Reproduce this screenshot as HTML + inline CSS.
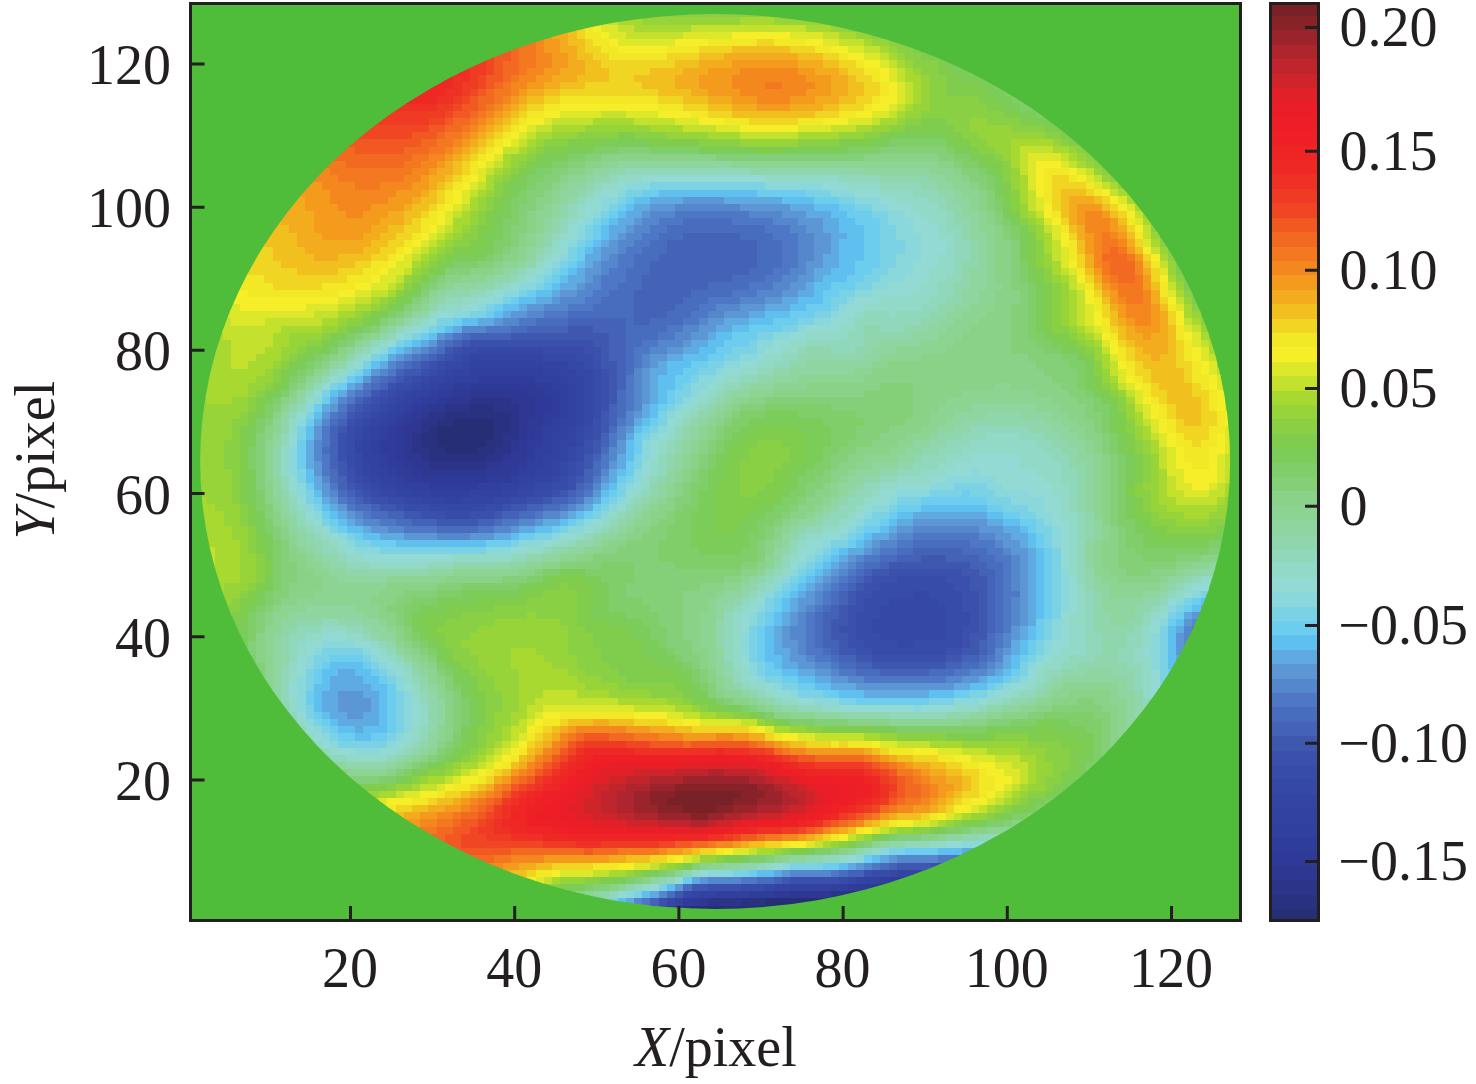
<!DOCTYPE html>
<html><head><meta charset="utf-8"><title>Wavefront map</title>
<style>
html,body{margin:0;padding:0;background:#fff;}
svg{display:block;}
text{font-family:"Liberation Serif",serif;font-size:56px;fill:#231f20;}
.i{font-style:italic;}
</style></head>
<body>
<svg width="1476" height="1084" viewBox="0 0 1476 1084">
<rect width="1476" height="1084" fill="#fff"/>
<defs><clipPath id="c"><ellipse cx="715.1" cy="461.5" rx="515.0" ry="447.5"/></clipPath></defs>
<rect x="190.5" y="3.5" width="1050" height="917" fill="#4fbd39"/>
<g clip-path="url(#c)" shape-rendering="crispEdges">
<path fill="#262e76" d="M453.12 418.39H494.48V425.85H453.12ZM436.7 425.55H494.48V433.01H436.7ZM436.7 432.71H494.48V440.17H436.7ZM436.7 439.87H486.27V447.33H436.7ZM444.91 447.03H478.06V454.49H444.91ZM855.42 890.96H863.93V898.42H855.42ZM765.11 898.12H831.09V905.58H765.11ZM691.22 905.28H790.04V912.74H691.22Z"/>
<path fill="#293280" d="M469.55 404.07H494.48V411.53H469.55ZM444.91 411.23H510.9V418.69H444.91ZM436.7 418.39H453.43V425.85H436.7ZM494.18 418.39H510.9V425.85H494.18ZM428.49 425.55H437V433.01H428.49ZM494.18 425.55H510.9V433.01H494.18ZM420.28 432.71H437V440.17H420.28ZM494.18 432.71H502.69V440.17H494.18ZM420.28 439.87H437V447.33H420.28ZM485.97 439.87H502.69V447.33H485.97ZM428.49 447.03H445.21V454.49H428.49ZM477.76 447.03H494.48V454.49H477.76ZM428.49 454.19H486.27V461.65H428.49ZM847.21 890.96H855.72V898.42H847.21ZM740.48 898.12H765.41V905.58H740.48ZM683.01 905.28H691.52V912.74H683.01Z"/>
<path fill="#2c348a" d="M469.55 396.91H510.9V404.37H469.55ZM444.91 404.07H469.85V411.53H444.91ZM494.18 404.07H519.11V411.53H494.18ZM428.49 411.23H445.21V418.69H428.49ZM510.6 411.23H519.11V418.69H510.6ZM420.28 418.39H437V425.85H420.28ZM510.6 418.39H519.11V425.85H510.6ZM420.28 425.55H428.79V433.01H420.28ZM510.6 425.55H519.11V433.01H510.6ZM412.07 432.71H420.58V440.17H412.07ZM502.39 432.71H519.11V440.17H502.39ZM412.07 439.87H420.58V447.33H412.07ZM502.39 439.87H510.9V447.33H502.39ZM412.07 447.03H428.79V454.49H412.07ZM494.18 447.03H510.9V454.49H494.18ZM420.28 454.19H428.79V461.65H420.28ZM485.97 454.19H502.69V461.65H485.97ZM428.49 461.35H486.27V468.81H428.49ZM880.05 883.8H888.56V891.26H880.05ZM830.79 890.96H847.51V898.42H830.79ZM707.64 898.12H740.78V905.58H707.64Z"/>
<path fill="#2e3792" d="M469.55 389.75H527.32V397.21H469.55ZM444.91 396.91H469.85V404.37H444.91ZM510.6 396.91H535.53V404.37H510.6ZM428.49 404.07H445.21V411.53H428.49ZM518.81 404.07H535.53V411.53H518.81ZM420.28 411.23H428.79V418.69H420.28ZM518.81 411.23H535.53V418.69H518.81ZM412.07 418.39H420.58V425.85H412.07ZM518.81 418.39H527.32V425.85H518.81ZM403.86 425.55H420.58V433.01H403.86ZM518.81 425.55H527.32V433.01H518.81ZM403.86 432.71H412.37V440.17H403.86ZM518.81 432.71H527.32V440.17H518.81ZM403.86 439.87H412.37V447.33H403.86ZM510.6 439.87H519.11V447.33H510.6ZM403.86 447.03H412.37V454.49H403.86ZM510.6 447.03H519.11V454.49H510.6ZM403.86 454.19H420.58V461.65H403.86ZM502.39 454.19H510.9V461.65H502.39ZM412.07 461.35H428.79V468.81H412.07ZM485.97 461.35H502.69V468.81H485.97ZM420.28 468.51H486.27V475.97H420.28ZM871.84 883.8H880.35V891.26H871.84ZM789.74 890.96H831.09V898.42H789.74ZM699.43 898.12H707.94V905.58H699.43ZM674.8 905.28H683.31V912.74H674.8Z"/>
<path fill="#2f3997" d="M469.55 382.59H535.53V390.05H469.55ZM453.12 389.75H469.85V397.21H453.12ZM527.02 389.75H543.74V397.21H527.02ZM436.7 396.91H445.21V404.37H436.7ZM535.23 396.91H551.95V404.37H535.23ZM420.28 404.07H428.79V411.53H420.28ZM535.23 404.07H551.95V411.53H535.23ZM412.07 411.23H420.58V418.69H412.07ZM535.23 411.23H543.74V418.69H535.23ZM403.86 418.39H412.37V425.85H403.86ZM527.02 418.39H543.74V425.85H527.02ZM395.65 425.55H404.16V433.01H395.65ZM527.02 425.55H535.53V433.01H527.02ZM395.65 432.71H404.16V440.17H395.65ZM527.02 432.71H535.53V440.17H527.02ZM395.65 439.87H404.16V447.33H395.65ZM518.81 439.87H527.32V447.33H518.81ZM395.65 447.03H404.16V454.49H395.65ZM518.81 447.03H527.32V454.49H518.81ZM395.65 454.19H404.16V461.65H395.65ZM510.6 454.19H527.32V461.65H510.6ZM403.86 461.35H412.37V468.81H403.86ZM502.39 461.35H519.11V468.81H502.39ZM412.07 468.51H420.58V475.97H412.07ZM485.97 468.51H510.9V475.97H485.97ZM420.28 475.67H486.27V483.13H420.28ZM904.68 876.64H913.19V884.1H904.68ZM855.42 883.8H872.14V891.26H855.42ZM773.32 890.96H790.04V898.42H773.32ZM691.22 898.12H699.73V905.58H691.22Z"/>
<path fill="#303c9a" d="M477.76 375.43H535.53V382.89H477.76ZM453.12 382.59H469.85V390.05H453.12ZM535.23 382.59H551.95V390.05H535.23ZM436.7 389.75H453.43V397.21H436.7ZM543.44 389.75H560.16V397.21H543.44ZM420.28 396.91H437V404.37H420.28ZM551.65 396.91H560.16V404.37H551.65ZM412.07 404.07H420.58V411.53H412.07ZM551.65 404.07H560.16V411.53H551.65ZM403.86 411.23H412.37V418.69H403.86ZM543.44 411.23H560.16V418.69H543.44ZM395.65 418.39H404.16V425.85H395.65ZM543.44 418.39H551.95V425.85H543.44ZM387.44 425.55H395.95V433.01H387.44ZM535.23 425.55H543.74V433.01H535.23ZM387.44 432.71H395.95V440.17H387.44ZM535.23 432.71H543.74V440.17H535.23ZM379.23 439.87H395.95V447.33H379.23ZM527.02 439.87H543.74V447.33H527.02ZM379.23 447.03H395.95V454.49H379.23ZM527.02 447.03H535.53V454.49H527.02ZM387.44 454.19H395.95V461.65H387.44ZM527.02 454.19H535.53V461.65H527.02ZM387.44 461.35H404.16V468.81H387.44ZM518.81 461.35H527.32V468.81H518.81ZM395.65 468.51H412.37V475.97H395.65ZM510.6 468.51H519.11V475.97H510.6ZM403.86 475.67H420.58V483.13H403.86ZM485.97 475.67H510.9V483.13H485.97ZM428.49 482.83H478.06V490.29H428.49ZM888.26 876.64H904.98V884.1H888.26ZM847.21 883.8H855.72V891.26H847.21ZM748.69 890.96H773.62V898.42H748.69ZM683.01 898.12H691.52V905.58H683.01ZM666.59 905.28H675.1V912.74H666.59Z"/>
<path fill="#313f9d" d="M469.55 368.27H543.74V375.73H469.55ZM453.12 375.43H478.06V382.89H453.12ZM535.23 375.43H560.16V382.89H535.23ZM436.7 382.59H453.43V390.05H436.7ZM551.65 382.59H568.37V390.05H551.65ZM428.49 389.75H437V397.21H428.49ZM559.86 389.75H568.37V397.21H559.86ZM412.07 396.91H420.58V404.37H412.07ZM559.86 396.91H568.37V404.37H559.86ZM403.86 404.07H412.37V411.53H403.86ZM559.86 404.07H568.37V411.53H559.86ZM395.65 411.23H404.16V418.69H395.65ZM559.86 411.23H568.37V418.69H559.86ZM387.44 418.39H395.95V425.85H387.44ZM551.65 418.39H560.16V425.85H551.65ZM379.23 425.55H387.74V433.01H379.23ZM543.44 425.55H560.16V433.01H543.44ZM379.23 432.71H387.74V440.17H379.23ZM543.44 432.71H551.95V440.17H543.44ZM371.02 439.87H379.53V447.33H371.02ZM543.44 439.87H551.95V447.33H543.44ZM371.02 447.03H379.53V454.49H371.02ZM535.23 447.03H551.95V454.49H535.23ZM379.23 454.19H387.74V461.65H379.23ZM535.23 454.19H543.74V461.65H535.23ZM379.23 461.35H387.74V468.81H379.23ZM527.02 461.35H543.74V468.81H527.02ZM387.44 468.51H395.95V475.97H387.44ZM518.81 468.51H535.53V475.97H518.81ZM395.65 475.67H404.16V483.13H395.65ZM510.6 475.67H519.11V483.13H510.6ZM403.86 482.83H428.79V490.29H403.86ZM477.76 482.83H502.69V490.29H477.76ZM428.49 489.99H469.85V497.45H428.49ZM880.05 876.64H888.56V884.1H880.05ZM830.79 883.8H847.51V891.26H830.79ZM715.85 890.96H748.99V898.42H715.85Z"/>
<path fill="#3242a0" d="M469.55 361.11H543.74V368.57H469.55ZM453.12 368.27H469.85V375.73H453.12ZM543.44 368.27H560.16V375.73H543.44ZM444.91 375.43H453.43V382.89H444.91ZM559.86 375.43H568.37V382.89H559.86ZM428.49 382.59H437V390.05H428.49ZM568.07 382.59H576.58V390.05H568.07ZM412.07 389.75H428.79V397.21H412.07ZM568.07 389.75H576.58V397.21H568.07ZM403.86 396.91H412.37V404.37H403.86ZM568.07 396.91H576.58V404.37H568.07ZM395.65 404.07H404.16V411.53H395.65ZM568.07 404.07H576.58V411.53H568.07ZM387.44 411.23H395.95V418.69H387.44ZM568.07 411.23H576.58V418.69H568.07ZM379.23 418.39H387.74V425.85H379.23ZM559.86 418.39H576.58V425.85H559.86ZM371.02 425.55H379.53V433.01H371.02ZM559.86 425.55H568.37V433.01H559.86ZM371.02 432.71H379.53V440.17H371.02ZM551.65 432.71H568.37V440.17H551.65ZM362.81 439.87H371.32V447.33H362.81ZM551.65 439.87H560.16V447.33H551.65ZM362.81 447.03H371.32V454.49H362.81ZM551.65 447.03H560.16V454.49H551.65ZM362.81 454.19H379.53V461.65H362.81ZM543.44 454.19H560.16V461.65H543.44ZM371.02 461.35H379.53V468.81H371.02ZM543.44 461.35H551.95V468.81H543.44ZM371.02 468.51H387.74V475.97H371.02ZM535.23 468.51H551.95V475.97H535.23ZM379.23 475.67H395.95V483.13H379.23ZM518.81 475.67H535.53V483.13H518.81ZM395.65 482.83H404.16V490.29H395.65ZM502.39 482.83H519.11V490.29H502.39ZM412.07 489.99H428.79V497.45H412.07ZM469.55 489.99H502.69V497.45H469.55ZM444.91 497.15H461.64V504.61H444.91ZM863.63 876.64H880.35V884.1H863.63ZM789.74 883.8H831.09V891.26H789.74ZM699.43 890.96H716.15V898.42H699.43ZM674.8 898.12H683.31V905.58H674.8ZM658.38 905.28H666.89V912.74H658.38Z"/>
<path fill="#3444a2" d="M469.55 353.95H543.74V361.41H469.55ZM461.34 361.11H469.85V368.57H461.34ZM543.44 361.11H568.37V368.57H543.44ZM444.91 368.27H453.43V375.73H444.91ZM559.86 368.27H576.58V375.73H559.86ZM428.49 375.43H445.21V382.89H428.49ZM568.07 375.43H584.79V382.89H568.07ZM420.28 382.59H428.79V390.05H420.28ZM576.28 382.59H584.79V390.05H576.28ZM403.86 389.75H412.37V397.21H403.86ZM576.28 389.75H584.79V397.21H576.28ZM395.65 396.91H404.16V404.37H395.65ZM576.28 396.91H584.79V404.37H576.28ZM387.44 404.07H395.95V411.53H387.44ZM576.28 404.07H584.79V411.53H576.28ZM379.23 411.23H387.74V418.69H379.23ZM576.28 411.23H584.79V418.69H576.28ZM371.02 418.39H379.53V425.85H371.02ZM576.28 418.39H584.79V425.85H576.28ZM362.81 425.55H371.32V433.01H362.81ZM568.07 425.55H576.58V433.01H568.07ZM362.81 432.71H371.32V440.17H362.81ZM568.07 432.71H576.58V440.17H568.07ZM354.6 439.87H363.11V447.33H354.6ZM559.86 439.87H576.58V447.33H559.86ZM354.6 447.03H363.11V454.49H354.6ZM559.86 447.03H568.37V454.49H559.86ZM559.86 454.19H568.37V461.65H559.86ZM362.81 461.35H371.32V468.81H362.81ZM551.65 461.35H560.16V468.81H551.65ZM362.81 468.51H371.32V475.97H362.81ZM551.65 468.51H560.16V475.97H551.65ZM371.02 475.67H379.53V483.13H371.02ZM535.23 475.67H551.95V483.13H535.23ZM379.23 482.83H395.95V490.29H379.23ZM518.81 482.83H535.53V490.29H518.81ZM395.65 489.99H412.37V497.45H395.65ZM502.39 489.99H519.11V497.45H502.39ZM420.28 497.15H445.21V504.61H420.28ZM461.34 497.15H494.48V504.61H461.34ZM896.47 869.48H929.61V876.94H896.47ZM855.42 876.64H863.93V884.1H855.42ZM773.32 883.8H790.04V891.26H773.32ZM691.22 890.96H699.73V898.42H691.22Z"/>
<path fill="#3648a5" d="M477.76 346.79H543.74V354.25H477.76ZM461.34 353.95H469.85V361.41H461.34ZM543.44 353.95H576.58V361.41H543.44ZM444.91 361.11H461.64V368.57H444.91ZM568.07 361.11H584.79V368.57H568.07ZM436.7 368.27H445.21V375.73H436.7ZM576.28 368.27H593V375.73H576.28ZM420.28 375.43H428.79V382.89H420.28ZM584.49 375.43H593V382.89H584.49ZM412.07 382.59H420.58V390.05H412.07ZM584.49 382.59H593V390.05H584.49ZM395.65 389.75H404.16V397.21H395.65ZM584.49 389.75H593V397.21H584.49ZM387.44 396.91H395.95V404.37H387.44ZM584.49 396.91H593V404.37H584.49ZM379.23 404.07H387.74V411.53H379.23ZM584.49 404.07H593V411.53H584.49ZM371.02 411.23H379.53V418.69H371.02ZM584.49 411.23H593V418.69H584.49ZM362.81 418.39H371.32V425.85H362.81ZM584.49 418.39H593V425.85H584.49ZM354.6 425.55H363.11V433.01H354.6ZM576.28 425.55H584.79V433.01H576.28ZM354.6 432.71H363.11V440.17H354.6ZM576.28 432.71H584.79V440.17H576.28ZM576.28 439.87H584.79V447.33H576.28ZM568.07 447.03H576.58V454.49H568.07ZM354.6 454.19H363.11V461.65H354.6ZM568.07 454.19H576.58V461.65H568.07ZM354.6 461.35H363.11V468.81H354.6ZM559.86 461.35H568.37V468.81H559.86ZM354.6 468.51H363.11V475.97H354.6ZM559.86 468.51H568.37V475.97H559.86ZM362.81 475.67H371.32V483.13H362.81ZM551.65 475.67H560.16V483.13H551.65ZM371.02 482.83H379.53V490.29H371.02ZM535.23 482.83H551.95V490.29H535.23ZM379.23 489.99H395.95V497.45H379.23ZM518.81 489.99H535.53V497.45H518.81ZM403.86 497.15H420.58V504.61H403.86ZM494.18 497.15H510.9V504.61H494.18ZM428.49 504.31H486.27V511.77H428.49ZM912.89 590.23H929.61V597.69H912.89ZM888.26 597.39H937.82V604.85H888.26ZM880.05 604.55H946.03V612.01H880.05ZM880.05 611.71H946.03V619.17H880.05ZM871.84 618.87H946.03V626.33H871.84ZM871.84 626.03H946.03V633.49H871.84ZM880.05 633.19H946.03V640.65H880.05ZM896.47 640.35H913.19V647.81H896.47ZM888.26 869.48H896.77V876.94H888.26ZM847.21 876.64H855.72V884.1H847.21ZM765.11 883.8H773.62V891.26H765.11ZM683.01 890.96H691.52V898.42H683.01ZM666.59 898.12H675.1V905.58H666.59ZM650.17 905.28H658.68V912.74H650.17Z"/>
<path fill="#374ba8" d="M461.34 346.79H478.06V354.25H461.34ZM543.44 346.79H584.79V354.25H543.44ZM453.12 353.95H461.64V361.41H453.12ZM576.28 353.95H593V361.41H576.28ZM436.7 361.11H445.21V368.57H436.7ZM584.49 361.11H593V368.57H584.49ZM428.49 368.27H437V375.73H428.49ZM592.7 368.27H601.21V375.73H592.7ZM412.07 375.43H420.58V382.89H412.07ZM592.7 375.43H601.21V382.89H592.7ZM395.65 382.59H412.37V390.05H395.65ZM592.7 382.59H601.21V390.05H592.7ZM387.44 389.75H395.95V397.21H387.44ZM592.7 389.75H601.21V397.21H592.7ZM379.23 396.91H387.74V404.37H379.23ZM592.7 396.91H601.21V404.37H592.7ZM371.02 404.07H379.53V411.53H371.02ZM592.7 404.07H601.21V411.53H592.7ZM362.81 411.23H371.32V418.69H362.81ZM592.7 411.23H601.21V418.69H592.7ZM354.6 418.39H363.11V425.85H354.6ZM346.39 425.55H354.9V433.01H346.39ZM584.49 425.55H593V433.01H584.49ZM346.39 432.71H354.9V440.17H346.39ZM584.49 432.71H593V440.17H584.49ZM346.39 439.87H354.9V447.33H346.39ZM346.39 447.03H354.9V454.49H346.39ZM576.28 447.03H584.79V454.49H576.28ZM346.39 454.19H354.9V461.65H346.39ZM576.28 454.19H584.79V461.65H576.28ZM346.39 461.35H354.9V468.81H346.39ZM568.07 461.35H576.58V468.81H568.07ZM568.07 468.51H576.58V475.97H568.07ZM354.6 475.67H363.11V483.13H354.6ZM559.86 475.67H568.37V483.13H559.86ZM362.81 482.83H371.32V490.29H362.81ZM551.65 482.83H568.37V490.29H551.65ZM371.02 489.99H379.53V497.45H371.02ZM535.23 489.99H551.95V497.45H535.23ZM387.44 497.15H404.16V504.61H387.44ZM510.6 497.15H527.32V504.61H510.6ZM403.86 504.31H428.79V511.77H403.86ZM485.97 504.31H502.69V511.77H485.97ZM444.91 511.47H469.85V518.93H444.91ZM896.47 575.91H946.03V583.37H896.47ZM880.05 583.07H954.24V590.53H880.05ZM871.84 590.23H913.19V597.69H871.84ZM929.31 590.23H962.45V597.69H929.31ZM863.63 597.39H888.56V604.85H863.63ZM937.52 597.39H962.45V604.85H937.52ZM863.63 604.55H880.35V612.01H863.63ZM945.73 604.55H962.45V612.01H945.73ZM855.42 611.71H880.35V619.17H855.42ZM945.73 611.71H970.66V619.17H945.73ZM855.42 618.87H872.14V626.33H855.42ZM945.73 618.87H970.66V626.33H945.73ZM855.42 626.03H872.14V633.49H855.42ZM945.73 626.03H962.45V633.49H945.73ZM855.42 633.19H880.35V640.65H855.42ZM945.73 633.19H962.45V640.65H945.73ZM863.63 640.35H896.77V647.81H863.63ZM912.89 640.35H962.45V647.81H912.89ZM871.84 647.51H946.03V654.97H871.84ZM871.84 869.48H888.56V876.94H871.84ZM839 876.64H847.51V884.1H839ZM740.48 883.8H765.41V891.26H740.48Z"/>
<path fill="#3a50ac" d="M469.55 339.63H593V347.09H469.55ZM453.12 346.79H461.64V354.25H453.12ZM584.49 346.79H601.21V354.25H584.49ZM444.91 353.95H453.43V361.41H444.91ZM592.7 353.95H601.21V361.41H592.7ZM428.49 361.11H437V368.57H428.49ZM592.7 361.11H601.21V368.57H592.7ZM420.28 368.27H428.79V375.73H420.28ZM600.91 368.27H609.42V375.73H600.91ZM403.86 375.43H412.37V382.89H403.86ZM600.91 375.43H609.42V382.89H600.91ZM387.44 382.59H395.95V390.05H387.44ZM600.91 382.59H609.42V390.05H600.91ZM379.23 389.75H387.74V397.21H379.23ZM600.91 389.75H609.42V397.21H600.91ZM371.02 396.91H379.53V404.37H371.02ZM600.91 396.91H609.42V404.37H600.91ZM362.81 404.07H371.32V411.53H362.81ZM600.91 404.07H609.42V411.53H600.91ZM354.6 411.23H363.11V418.69H354.6ZM346.39 418.39H354.9V425.85H346.39ZM592.7 418.39H601.21V425.85H592.7ZM592.7 425.55H601.21V433.01H592.7ZM338.18 432.71H346.69V440.17H338.18ZM592.7 432.71H601.21V440.17H592.7ZM338.18 439.87H346.69V447.33H338.18ZM584.49 439.87H593V447.33H584.49ZM338.18 447.03H346.69V454.49H338.18ZM584.49 447.03H593V454.49H584.49ZM338.18 454.19H346.69V461.65H338.18ZM576.28 461.35H584.79V468.81H576.28ZM346.39 468.51H354.9V475.97H346.39ZM576.28 468.51H584.79V475.97H576.28ZM346.39 475.67H354.9V483.13H346.39ZM568.07 475.67H576.58V483.13H568.07ZM354.6 482.83H363.11V490.29H354.6ZM568.07 482.83H576.58V490.29H568.07ZM362.81 489.99H371.32V497.45H362.81ZM551.65 489.99H560.16V497.45H551.65ZM371.02 497.15H387.74V504.61H371.02ZM527.02 497.15H543.74V504.61H527.02ZM395.65 504.31H404.16V511.77H395.65ZM502.39 504.31H510.9V511.77H502.39ZM420.28 511.47H445.21V518.93H420.28ZM469.55 511.47H494.48V518.93H469.55ZM888.26 568.75H962.45V576.21H888.26ZM871.84 575.91H896.77V583.37H871.84ZM945.73 575.91H970.66V583.37H945.73ZM863.63 583.07H880.35V590.53H863.63ZM953.94 583.07H970.66V590.53H953.94ZM855.42 590.23H872.14V597.69H855.42ZM962.15 590.23H978.87V597.69H962.15ZM855.42 597.39H863.93V604.85H855.42ZM962.15 597.39H978.87V604.85H962.15ZM847.21 604.55H863.93V612.01H847.21ZM962.15 604.55H978.87V612.01H962.15ZM847.21 611.71H855.72V619.17H847.21ZM970.36 611.71H978.87V619.17H970.36ZM847.21 618.87H855.72V626.33H847.21ZM970.36 618.87H978.87V626.33H970.36ZM839 626.03H855.72V633.49H839ZM962.15 626.03H978.87V633.49H962.15ZM847.21 633.19H855.72V640.65H847.21ZM962.15 633.19H970.66V640.65H962.15ZM847.21 640.35H863.93V647.81H847.21ZM962.15 640.35H970.66V647.81H962.15ZM855.42 647.51H872.14V654.97H855.42ZM945.73 647.51H962.45V654.97H945.73ZM871.84 654.67H946.03V662.13H871.84ZM929.31 862.32H946.03V869.78H929.31ZM863.63 869.48H872.14V876.94H863.63ZM789.74 876.64H839.3V884.1H789.74ZM707.64 883.8H740.78V891.26H707.64ZM658.38 898.12H666.89V905.58H658.38ZM641.96 905.28H650.47V912.74H641.96Z"/>
<path fill="#3e58b0" d="M568.07 325.31H593V332.77H568.07ZM510.6 332.47H609.42V339.93H510.6ZM461.34 339.63H469.85V347.09H461.34ZM592.7 339.63H609.42V347.09H592.7ZM444.91 346.79H453.43V354.25H444.91ZM600.91 346.79H609.42V354.25H600.91ZM436.7 353.95H445.21V361.41H436.7ZM600.91 353.95H609.42V361.41H600.91ZM420.28 361.11H428.79V368.57H420.28ZM600.91 361.11H617.63V368.57H600.91ZM403.86 368.27H420.58V375.73H403.86ZM609.12 368.27H617.63V375.73H609.12ZM395.65 375.43H404.16V382.89H395.65ZM609.12 375.43H617.63V382.89H609.12ZM609.12 382.59H617.63V390.05H609.12ZM371.02 389.75H379.53V397.21H371.02ZM609.12 389.75H617.63V397.21H609.12ZM362.81 396.91H371.32V404.37H362.81ZM609.12 396.91H617.63V404.37H609.12ZM354.6 404.07H363.11V411.53H354.6ZM346.39 411.23H354.9V418.69H346.39ZM600.91 411.23H609.42V418.69H600.91ZM600.91 418.39H609.42V425.85H600.91ZM338.18 425.55H346.69V433.01H338.18ZM600.91 425.55H609.42V433.01H600.91ZM592.7 439.87H601.21V447.33H592.7ZM592.7 447.03H601.21V454.49H592.7ZM584.49 454.19H593V461.65H584.49ZM338.18 461.35H346.69V468.81H338.18ZM584.49 461.35H593V468.81H584.49ZM338.18 468.51H346.69V475.97H338.18ZM576.28 475.67H584.79V483.13H576.28ZM346.39 482.83H354.9V490.29H346.39ZM354.6 489.99H363.11V497.45H354.6ZM559.86 489.99H568.37V497.45H559.86ZM362.81 497.15H371.32V504.61H362.81ZM543.44 497.15H551.95V504.61H543.44ZM379.23 504.31H395.95V511.77H379.23ZM510.6 504.31H527.32V511.77H510.6ZM403.86 511.47H420.58V518.93H403.86ZM494.18 511.47H502.69V518.93H494.18ZM436.7 518.63H478.06V526.09H436.7ZM921.1 554.43H946.03V561.89H921.1ZM888.26 561.59H970.66V569.05H888.26ZM871.84 568.75H888.56V576.21H871.84ZM962.15 568.75H978.87V576.21H962.15ZM863.63 575.91H872.14V583.37H863.63ZM970.36 575.91H987.09V583.37H970.36ZM855.42 583.07H863.93V590.53H855.42ZM970.36 583.07H987.09V590.53H970.36ZM847.21 590.23H855.72V597.69H847.21ZM978.57 590.23H987.09V597.69H978.57ZM847.21 597.39H855.72V604.85H847.21ZM978.57 597.39H987.09V604.85H978.57ZM839 604.55H847.51V612.01H839ZM978.57 604.55H987.09V612.01H978.57ZM839 611.71H847.51V619.17H839ZM978.57 611.71H987.09V619.17H978.57ZM830.79 618.87H847.51V626.33H830.79ZM978.57 618.87H987.09V626.33H978.57ZM830.79 626.03H839.3V633.49H830.79ZM978.57 626.03H987.09V633.49H978.57ZM830.79 633.19H847.51V640.65H830.79ZM970.36 633.19H987.09V640.65H970.36ZM839 640.35H847.51V647.81H839ZM970.36 640.35H978.87V647.81H970.36ZM839 647.51H855.72V654.97H839ZM962.15 647.51H978.87V654.97H962.15ZM855.42 654.67H872.14V662.13H855.42ZM945.73 654.67H962.45V662.13H945.73ZM871.84 661.83H946.03V669.29H871.84ZM896.47 862.32H929.61V869.78H896.47ZM781.53 876.64H790.04V884.1H781.53ZM691.22 883.8H707.94V891.26H691.22ZM674.8 890.96H683.31V898.42H674.8Z"/>
<path fill="#4462b7" d="M683.01 232.22H740.78V239.69H683.01ZM666.59 239.39H757.2V246.85H666.59ZM666.59 246.55H757.2V254.01H666.59ZM658.38 253.71H757.2V261.17H658.38ZM650.17 260.87H757.2V268.33H650.17ZM650.17 268.03H748.99V275.49H650.17ZM641.96 275.19H732.57V282.65H641.96ZM641.96 282.35H707.94V289.81H641.96ZM633.75 289.51H691.52V296.97H633.75ZM633.75 296.67H683.31V304.13H633.75ZM633.75 303.83H675.1V311.29H633.75ZM633.75 310.99H666.89V318.45H633.75ZM568.07 318.15H625.84V325.61H568.07ZM633.75 318.15H650.47V325.61H633.75ZM527.02 325.31H568.37V332.77H527.02ZM592.7 325.31H625.84V332.77H592.7ZM469.55 332.47H510.9V339.93H469.55ZM609.12 332.47H625.84V339.93H609.12ZM453.12 339.63H461.64V347.09H453.12ZM609.12 339.63H625.84V347.09H609.12ZM609.12 346.79H625.84V354.25H609.12ZM428.49 353.95H437V361.41H428.49ZM609.12 353.95H625.84V361.41H609.12ZM412.07 361.11H420.58V368.57H412.07ZM617.33 361.11H625.84V368.57H617.33ZM395.65 368.27H404.16V375.73H395.65ZM617.33 368.27H625.84V375.73H617.33ZM387.44 375.43H395.95V382.89H387.44ZM617.33 375.43H625.84V382.89H617.33ZM379.23 382.59H387.74V390.05H379.23ZM617.33 382.59H625.84V390.05H617.33ZM354.6 396.91H363.11V404.37H354.6ZM346.39 404.07H354.9V411.53H346.39ZM609.12 404.07H617.63V411.53H609.12ZM609.12 411.23H617.63V418.69H609.12ZM338.18 418.39H346.69V425.85H338.18ZM609.12 418.39H617.63V425.85H609.12ZM329.97 425.55H338.48V433.01H329.97ZM329.97 432.71H338.48V440.17H329.97ZM600.91 432.71H609.42V440.17H600.91ZM329.97 439.87H338.48V447.33H329.97ZM600.91 439.87H609.42V447.33H600.91ZM329.97 447.03H338.48V454.49H329.97ZM329.97 454.19H338.48V461.65H329.97ZM592.7 454.19H601.21V461.65H592.7ZM329.97 461.35H338.48V468.81H329.97ZM584.49 468.51H593V475.97H584.49ZM338.18 475.67H346.69V483.13H338.18ZM584.49 475.67H593V483.13H584.49ZM338.18 482.83H346.69V490.29H338.18ZM576.28 482.83H584.79V490.29H576.28ZM346.39 489.99H354.9V497.45H346.39ZM568.07 489.99H576.58V497.45H568.07ZM354.6 497.15H363.11V504.61H354.6ZM551.65 497.15H568.37V504.61H551.65ZM371.02 504.31H379.53V511.77H371.02ZM527.02 504.31H543.74V511.77H527.02ZM387.44 511.47H404.16V518.93H387.44ZM502.39 511.47H519.11V518.93H502.39ZM412.07 518.63H437V526.09H412.07ZM477.76 518.63H494.48V526.09H477.76ZM912.89 547.27H962.45V554.73H912.89ZM896.47 554.43H921.4V561.89H896.47ZM945.73 554.43H978.87V561.89H945.73ZM880.05 561.59H888.56V569.05H880.05ZM970.36 561.59H987.09V569.05H970.36ZM863.63 568.75H872.14V576.21H863.63ZM978.57 568.75H995.3V576.21H978.57ZM855.42 575.91H863.93V583.37H855.42ZM986.79 575.91H995.3V583.37H986.79ZM847.21 583.07H855.72V590.53H847.21ZM986.79 583.07H995.3V590.53H986.79ZM839 590.23H847.51V597.69H839ZM986.79 590.23H995.3V597.69H986.79ZM839 597.39H847.51V604.85H839ZM986.79 597.39H995.3V604.85H986.79ZM830.79 604.55H839.3V612.01H830.79ZM986.79 604.55H995.3V612.01H986.79ZM822.58 611.71H839.3V619.17H822.58ZM986.79 611.71H995.3V619.17H986.79ZM822.58 618.87H831.09V626.33H822.58ZM986.79 618.87H995.3V626.33H986.79ZM822.58 626.03H831.09V633.49H822.58ZM986.79 626.03H995.3V633.49H986.79ZM822.58 633.19H831.09V640.65H822.58ZM822.58 640.35H839.3V647.81H822.58ZM978.57 640.35H987.09V647.81H978.57ZM830.79 647.51H839.3V654.97H830.79ZM978.57 647.51H987.09V654.97H978.57ZM839 654.67H855.72V662.13H839ZM962.15 654.67H978.87V662.13H962.15ZM855.42 661.83H872.14V669.29H855.42ZM945.73 661.83H962.45V669.29H945.73ZM880.05 668.99H929.61V676.45H880.05ZM888.26 862.32H896.77V869.78H888.26ZM847.21 869.48H863.93V876.94H847.21ZM773.32 876.64H781.83V884.1H773.32ZM650.17 898.12H658.68V905.58H650.17Z"/>
<path fill="#486cbe" d="M683.01 217.9H732.57V225.36H683.01ZM666.59 225.06H765.41V232.53H666.59ZM658.38 232.22H683.31V239.69H658.38ZM740.48 232.22H773.62V239.69H740.48ZM650.17 239.39H666.89V246.85H650.17ZM756.9 239.39H781.83V246.85H756.9ZM641.96 246.55H666.89V254.01H641.96ZM756.9 246.55H781.83V254.01H756.9ZM633.75 253.71H658.68V261.17H633.75ZM756.9 253.71H781.83V261.17H756.9ZM633.75 260.87H650.47V268.33H633.75ZM756.9 260.87H781.83V268.33H756.9ZM625.54 268.03H650.47V275.49H625.54ZM748.69 268.03H773.62V275.49H748.69ZM625.54 275.19H642.26V282.65H625.54ZM732.27 275.19H765.41V282.65H732.27ZM617.33 282.35H642.26V289.81H617.33ZM707.64 282.35H748.99V289.81H707.64ZM609.12 289.51H634.05V296.97H609.12ZM691.22 289.51H732.57V296.97H691.22ZM600.91 296.67H634.05V304.13H600.91ZM683.01 296.67H707.94V304.13H683.01ZM592.7 303.83H634.05V311.29H592.7ZM674.8 303.83H699.73V311.29H674.8ZM568.07 310.99H634.05V318.45H568.07ZM666.59 310.99H691.52V318.45H666.59ZM535.23 318.15H568.37V325.61H535.23ZM625.54 318.15H634.05V325.61H625.54ZM650.17 318.15H683.31V325.61H650.17ZM510.6 325.31H527.32V332.77H510.6ZM625.54 325.31H666.89V332.77H625.54ZM461.34 332.47H469.85V339.93H461.34ZM625.54 332.47H658.68V339.93H625.54ZM444.91 339.63H453.43V347.09H444.91ZM625.54 339.63H642.26V347.09H625.54ZM436.7 346.79H445.21V354.25H436.7ZM625.54 346.79H634.05V354.25H625.54ZM420.28 353.95H428.79V361.41H420.28ZM625.54 353.95H634.05V361.41H625.54ZM403.86 361.11H412.37V368.57H403.86ZM625.54 361.11H634.05V368.57H625.54ZM625.54 368.27H634.05V375.73H625.54ZM379.23 375.43H387.74V382.89H379.23ZM371.02 382.59H379.53V390.05H371.02ZM362.81 389.75H371.32V397.21H362.81ZM617.33 389.75H625.84V397.21H617.33ZM617.33 396.91H625.84V404.37H617.33ZM617.33 404.07H625.84V411.53H617.33ZM338.18 411.23H346.69V418.69H338.18ZM617.33 411.23H625.84V418.69H617.33ZM329.97 418.39H338.48V425.85H329.97ZM609.12 425.55H617.63V433.01H609.12ZM321.76 447.03H330.27V454.49H321.76ZM600.91 447.03H609.42V454.49H600.91ZM592.7 461.35H601.21V468.81H592.7ZM329.97 468.51H338.48V475.97H329.97ZM592.7 468.51H601.21V475.97H592.7ZM329.97 475.67H338.48V483.13H329.97ZM584.49 482.83H593V490.29H584.49ZM338.18 489.99H346.69V497.45H338.18ZM576.28 489.99H584.79V497.45H576.28ZM346.39 497.15H354.9V504.61H346.39ZM568.07 497.15H576.58V504.61H568.07ZM354.6 504.31H371.32V511.77H354.6ZM543.44 504.31H560.16V511.77H543.44ZM371.02 511.47H387.74V518.93H371.02ZM518.81 511.47H535.53V518.93H518.81ZM395.65 518.63H412.37V526.09H395.65ZM494.18 518.63H502.69V526.09H494.18ZM436.7 525.79H478.06V533.25H436.7ZM912.89 540.11H970.66V547.57H912.89ZM896.47 547.27H913.19V554.73H896.47ZM962.15 547.27H987.09V554.73H962.15ZM880.05 554.43H896.77V561.89H880.05ZM978.57 554.43H995.3V561.89H978.57ZM863.63 561.59H880.35V569.05H863.63ZM986.79 561.59H1003.51V569.05H986.79ZM855.42 568.75H863.93V576.21H855.42ZM995 568.75H1003.51V576.21H995ZM847.21 575.91H855.72V583.37H847.21ZM995 575.91H1003.51V583.37H995ZM839 583.07H847.51V590.53H839ZM995 583.07H1003.51V590.53H995ZM830.79 590.23H839.3V597.69H830.79ZM995 590.23H1003.51V597.69H995ZM830.79 597.39H839.3V604.85H830.79ZM995 597.39H1003.51V604.85H995ZM822.58 604.55H831.09V612.01H822.58ZM995 604.55H1003.51V612.01H995ZM814.37 611.71H822.88V619.17H814.37ZM995 611.71H1003.51V619.17H995ZM814.37 618.87H822.88V626.33H814.37ZM995 618.87H1003.51V626.33H995ZM814.37 626.03H822.88V633.49H814.37ZM995 626.03H1003.51V633.49H995ZM814.37 633.19H822.88V640.65H814.37ZM986.79 633.19H995.3V640.65H986.79ZM814.37 640.35H822.88V647.81H814.37ZM986.79 640.35H995.3V647.81H986.79ZM822.58 647.51H831.09V654.97H822.58ZM986.79 647.51H995.3V654.97H986.79ZM830.79 654.67H839.3V662.13H830.79ZM978.57 654.67H987.09V662.13H978.57ZM839 661.83H855.72V669.29H839ZM962.15 661.83H978.87V669.29H962.15ZM855.42 668.99H880.35V676.45H855.42ZM929.31 668.99H954.24V676.45H929.31ZM880.05 862.32H888.56V869.78H880.05ZM839 869.48H847.51V876.94H839ZM756.9 876.64H773.62V884.1H756.9ZM683.01 883.8H691.52V891.26H683.01ZM666.59 890.96H675.1V898.42H666.59Z"/>
<path fill="#4e78c5" d="M674.8 210.74H748.99V218.2H674.8ZM658.38 217.9H683.31V225.36H658.38ZM732.27 217.9H773.62V225.36H732.27ZM650.17 225.06H666.89V232.53H650.17ZM765.11 225.06H790.04V232.53H765.11ZM641.96 232.22H658.68V239.69H641.96ZM773.32 232.22H798.25V239.69H773.32ZM633.75 239.39H650.47V246.85H633.75ZM781.53 239.39H798.25V246.85H781.53ZM625.54 246.55H642.26V254.01H625.54ZM781.53 246.55H798.25V254.01H781.53ZM617.33 253.71H634.05V261.17H617.33ZM781.53 253.71H798.25V261.17H781.53ZM617.33 260.87H634.05V268.33H617.33ZM781.53 260.87H798.25V268.33H781.53ZM609.12 268.03H625.84V275.49H609.12ZM773.32 268.03H790.04V275.49H773.32ZM600.91 275.19H625.84V282.65H600.91ZM765.11 275.19H781.83V282.65H765.11ZM600.91 282.35H617.63V289.81H600.91ZM748.69 282.35H773.62V289.81H748.69ZM592.7 289.51H609.42V296.97H592.7ZM732.27 289.51H757.2V296.97H732.27ZM584.49 296.67H601.21V304.13H584.49ZM707.64 296.67H740.78V304.13H707.64ZM568.07 303.83H593V311.29H568.07ZM699.43 303.83H716.15V311.29H699.43ZM543.44 310.99H568.37V318.45H543.44ZM691.22 310.99H707.94V318.45H691.22ZM518.81 318.15H535.53V325.61H518.81ZM683.01 318.15H699.73V325.61H683.01ZM485.97 325.31H510.9V332.77H485.97ZM666.59 325.31H683.31V332.77H666.59ZM453.12 332.47H461.64V339.93H453.12ZM658.38 332.47H675.1V339.93H658.38ZM436.7 339.63H445.21V347.09H436.7ZM641.96 339.63H658.68V347.09H641.96ZM428.49 346.79H437V354.25H428.49ZM633.75 346.79H650.47V354.25H633.75ZM412.07 353.95H420.58V361.41H412.07ZM633.75 353.95H642.26V361.41H633.75ZM395.65 361.11H404.16V368.57H395.65ZM633.75 361.11H642.26V368.57H633.75ZM387.44 368.27H395.95V375.73H387.44ZM371.02 375.43H379.53V382.89H371.02ZM625.54 375.43H634.05V382.89H625.54ZM362.81 382.59H371.32V390.05H362.81ZM625.54 382.59H634.05V390.05H625.54ZM354.6 389.75H363.11V397.21H354.6ZM625.54 389.75H634.05V397.21H625.54ZM346.39 396.91H354.9V404.37H346.39ZM625.54 396.91H634.05V404.37H625.54ZM338.18 404.07H346.69V411.53H338.18ZM625.54 404.07H634.05V411.53H625.54ZM329.97 411.23H338.48V418.69H329.97ZM617.33 418.39H625.84V425.85H617.33ZM321.76 425.55H330.27V433.01H321.76ZM321.76 432.71H330.27V440.17H321.76ZM609.12 432.71H617.63V440.17H609.12ZM321.76 439.87H330.27V447.33H321.76ZM609.12 439.87H617.63V447.33H609.12ZM321.76 454.19H330.27V461.65H321.76ZM600.91 454.19H609.42V461.65H600.91ZM321.76 461.35H330.27V468.81H321.76ZM600.91 461.35H609.42V468.81H600.91ZM321.76 468.51H330.27V475.97H321.76ZM592.7 475.67H601.21V483.13H592.7ZM329.97 482.83H338.48V490.29H329.97ZM584.49 489.99H593V497.45H584.49ZM338.18 497.15H346.69V504.61H338.18ZM576.28 497.15H584.79V504.61H576.28ZM346.39 504.31H354.9V511.77H346.39ZM559.86 504.31H568.37V511.77H559.86ZM362.81 511.47H371.32V518.93H362.81ZM535.23 511.47H543.74V518.93H535.23ZM379.23 518.63H395.95V526.09H379.23ZM502.39 518.63H519.11V526.09H502.39ZM403.86 525.79H437V533.25H403.86ZM477.76 525.79H494.48V533.25H477.76ZM912.89 532.95H978.87V540.41H912.89ZM896.47 540.11H913.19V547.57H896.47ZM970.36 540.11H995.3V547.57H970.36ZM880.05 547.27H896.77V554.73H880.05ZM986.79 547.27H1003.51V554.73H986.79ZM863.63 554.43H880.35V561.89H863.63ZM995 554.43H1011.72V561.89H995ZM855.42 561.59H863.93V569.05H855.42ZM1003.21 561.59H1011.72V569.05H1003.21ZM847.21 568.75H855.72V576.21H847.21ZM1003.21 568.75H1011.72V576.21H1003.21ZM839 575.91H847.51V583.37H839ZM1003.21 575.91H1011.72V583.37H1003.21ZM830.79 583.07H839.3V590.53H830.79ZM1003.21 583.07H1011.72V590.53H1003.21ZM822.58 590.23H831.09V597.69H822.58ZM1003.21 590.23H1019.93V597.69H1003.21ZM822.58 597.39H831.09V604.85H822.58ZM1003.21 597.39H1011.72V604.85H1003.21ZM814.37 604.55H822.88V612.01H814.37ZM1003.21 604.55H1011.72V612.01H1003.21ZM806.16 611.71H814.67V619.17H806.16ZM1003.21 611.71H1011.72V619.17H1003.21ZM806.16 618.87H814.67V626.33H806.16ZM1003.21 618.87H1011.72V626.33H1003.21ZM806.16 626.03H814.67V633.49H806.16ZM1003.21 626.03H1011.72V633.49H1003.21ZM1192.04 626.03H1200.55V633.49H1192.04ZM806.16 633.19H814.67V640.65H806.16ZM995 633.19H1003.51V640.65H995ZM806.16 640.35H814.67V647.81H806.16ZM995 640.35H1003.51V647.81H995ZM806.16 647.51H822.88V654.97H806.16ZM814.37 654.67H831.09V662.13H814.37ZM986.79 654.67H995.3V662.13H986.79ZM830.79 661.83H839.3V669.29H830.79ZM978.57 661.83H987.09V669.29H978.57ZM839 668.99H855.72V676.45H839ZM953.94 668.99H970.66V676.45H953.94ZM863.63 676.15H946.03V683.61H863.63ZM937.52 855.16H962.45V862.62H937.52ZM871.84 862.32H880.35V869.78H871.84ZM830.79 869.48H839.3V876.94H830.79ZM740.48 876.64H757.2V884.1H740.48ZM641.96 898.12H650.47V905.58H641.96Z"/>
<path fill="#5587cd" d="M674.8 203.58H740.78V211.04H674.8ZM650.17 210.74H675.1V218.2H650.17ZM748.69 210.74H781.83V218.2H748.69ZM641.96 217.9H658.68V225.36H641.96ZM773.32 217.9H798.25V225.36H773.32ZM633.75 225.06H650.47V232.53H633.75ZM789.74 225.06H806.46V232.53H789.74ZM625.54 232.22H642.26V239.69H625.54ZM797.95 232.22H814.67V239.69H797.95ZM617.33 239.39H634.05V246.85H617.33ZM797.95 239.39H814.67V246.85H797.95ZM617.33 246.55H625.84V254.01H617.33ZM797.95 246.55H814.67V254.01H797.95ZM609.12 253.71H617.63V261.17H609.12ZM797.95 253.71H814.67V261.17H797.95ZM600.91 260.87H617.63V268.33H600.91ZM797.95 260.87H806.46V268.33H797.95ZM600.91 268.03H609.42V275.49H600.91ZM789.74 268.03H806.46V275.49H789.74ZM592.7 275.19H601.21V282.65H592.7ZM781.53 275.19H798.25V282.65H781.53ZM584.49 282.35H601.21V289.81H584.49ZM773.32 282.35H790.04V289.81H773.32ZM576.28 289.51H593V296.97H576.28ZM756.9 289.51H781.83V296.97H756.9ZM559.86 296.67H584.79V304.13H559.86ZM740.48 296.67H765.41V304.13H740.48ZM543.44 303.83H568.37V311.29H543.44ZM715.85 303.83H740.78V311.29H715.85ZM527.02 310.99H543.74V318.45H527.02ZM707.64 310.99H724.36V318.45H707.64ZM502.39 318.15H519.11V325.61H502.39ZM699.43 318.15H707.94V325.61H699.43ZM461.34 325.31H486.27V332.77H461.34ZM683.01 325.31H699.73V332.77H683.01ZM444.91 332.47H453.43V339.93H444.91ZM674.8 332.47H691.52V339.93H674.8ZM658.38 339.63H683.31V347.09H658.38ZM420.28 346.79H428.79V354.25H420.28ZM650.17 346.79H666.89V354.25H650.17ZM403.86 353.95H412.37V361.41H403.86ZM641.96 353.95H650.47V361.41H641.96ZM387.44 361.11H395.95V368.57H387.44ZM641.96 361.11H650.47V368.57H641.96ZM379.23 368.27H387.74V375.73H379.23ZM633.75 368.27H642.26V375.73H633.75ZM633.75 375.43H642.26V382.89H633.75ZM633.75 382.59H642.26V390.05H633.75ZM346.39 389.75H354.9V397.21H346.39ZM633.75 389.75H642.26V397.21H633.75ZM338.18 396.91H346.69V404.37H338.18ZM633.75 396.91H642.26V404.37H633.75ZM633.75 404.07H642.26V411.53H633.75ZM625.54 411.23H634.05V418.69H625.54ZM321.76 418.39H330.27V425.85H321.76ZM625.54 418.39H634.05V425.85H625.54ZM617.33 425.55H625.84V433.01H617.33ZM617.33 432.71H625.84V440.17H617.33ZM313.55 439.87H322.06V447.33H313.55ZM313.55 447.03H322.06V454.49H313.55ZM609.12 447.03H617.63V454.49H609.12ZM313.55 454.19H322.06V461.65H313.55ZM609.12 454.19H617.63V461.65H609.12ZM600.91 468.51H609.42V475.97H600.91ZM321.76 475.67H330.27V483.13H321.76ZM592.7 482.83H601.21V490.29H592.7ZM329.97 489.99H338.48V497.45H329.97ZM568.07 504.31H576.58V511.77H568.07ZM354.6 511.47H363.11V518.93H354.6ZM543.44 511.47H560.16V518.93H543.44ZM362.81 518.63H379.53V526.09H362.81ZM518.81 518.63H535.53V526.09H518.81ZM387.44 525.79H404.16V533.25H387.44ZM494.18 525.79H510.9V533.25H494.18ZM912.89 525.79H978.87V533.25H912.89ZM436.7 532.95H469.85V540.41H436.7ZM896.47 532.95H913.19V540.41H896.47ZM978.57 532.95H995.3V540.41H978.57ZM880.05 540.11H896.77V547.57H880.05ZM995 540.11H1003.51V547.57H995ZM871.84 547.27H880.35V554.73H871.84ZM1003.21 547.27H1011.72V554.73H1003.21ZM855.42 554.43H863.93V561.89H855.42ZM1011.42 554.43H1019.93V561.89H1011.42ZM847.21 561.59H855.72V569.05H847.21ZM1011.42 561.59H1019.93V569.05H1011.42ZM839 568.75H847.51V576.21H839ZM1011.42 568.75H1019.93V576.21H1011.42ZM830.79 575.91H839.3V583.37H830.79ZM1011.42 575.91H1019.93V583.37H1011.42ZM822.58 583.07H831.09V590.53H822.58ZM1011.42 583.07H1019.93V590.53H1011.42ZM814.37 590.23H822.88V597.69H814.37ZM814.37 597.39H822.88V604.85H814.37ZM1011.42 597.39H1019.93V604.85H1011.42ZM806.16 604.55H814.67V612.01H806.16ZM1011.42 604.55H1019.93V612.01H1011.42ZM797.95 611.71H806.46V619.17H797.95ZM1011.42 611.71H1019.93V619.17H1011.42ZM1200.25 611.71H1208.76V619.17H1200.25ZM797.95 618.87H806.46V626.33H797.95ZM1011.42 618.87H1019.93V626.33H1011.42ZM1192.04 618.87H1200.55V626.33H1192.04ZM789.74 626.03H806.46V633.49H789.74ZM1183.83 626.03H1192.34V633.49H1183.83ZM789.74 633.19H806.46V640.65H789.74ZM1003.21 633.19H1011.72V640.65H1003.21ZM1183.83 633.19H1192.34V640.65H1183.83ZM797.95 640.35H806.46V647.81H797.95ZM1003.21 640.35H1011.72V647.81H1003.21ZM1183.83 640.35H1192.34V647.81H1183.83ZM797.95 647.51H806.46V654.97H797.95ZM995 647.51H1003.51V654.97H995ZM1183.83 647.51H1192.34V654.97H1183.83ZM806.16 654.67H814.67V662.13H806.16ZM995 654.67H1003.51V662.13H995ZM814.37 661.83H831.09V669.29H814.37ZM986.79 661.83H995.3V669.29H986.79ZM830.79 668.99H839.3V676.45H830.79ZM970.36 668.99H987.09V676.45H970.36ZM847.21 676.15H863.93V683.61H847.21ZM945.73 676.15H962.45V683.61H945.73ZM896.47 855.16H937.82V862.62H896.47ZM863.63 862.32H872.14V869.78H863.63ZM789.74 869.48H831.09V876.94H789.74ZM707.64 876.64H740.78V884.1H707.64ZM658.38 890.96H666.89V898.42H658.38ZM633.75 898.12H642.26V905.58H633.75Z"/>
<path fill="#5c96d5" d="M683.01 196.42H724.36V203.88H683.01ZM650.17 203.58H675.1V211.04H650.17ZM740.48 203.58H790.04V211.04H740.48ZM641.96 210.74H650.47V218.2H641.96ZM781.53 210.74H806.46V218.2H781.53ZM633.75 217.9H642.26V225.36H633.75ZM797.95 217.9H822.88V225.36H797.95ZM625.54 225.06H634.05V232.53H625.54ZM806.16 225.06H822.88V232.53H806.16ZM617.33 232.22H625.84V239.69H617.33ZM814.37 232.22H831.09V239.69H814.37ZM609.12 239.39H617.63V246.85H609.12ZM814.37 239.39H831.09V246.85H814.37ZM600.91 246.55H617.63V254.01H600.91ZM814.37 246.55H831.09V254.01H814.37ZM600.91 253.71H609.42V261.17H600.91ZM814.37 253.71H822.88V261.17H814.37ZM592.7 260.87H601.21V268.33H592.7ZM806.16 260.87H822.88V268.33H806.16ZM584.49 268.03H601.21V275.49H584.49ZM806.16 268.03H814.67V275.49H806.16ZM584.49 275.19H593V282.65H584.49ZM797.95 275.19H814.67V282.65H797.95ZM576.28 282.35H584.79V289.81H576.28ZM789.74 282.35H806.46V289.81H789.74ZM559.86 289.51H576.58V296.97H559.86ZM781.53 289.51H798.25V296.97H781.53ZM551.65 296.67H560.16V304.13H551.65ZM765.11 296.67H781.83V304.13H765.11ZM527.02 303.83H543.74V311.29H527.02ZM740.48 303.83H765.41V311.29H740.48ZM510.6 310.99H527.32V318.45H510.6ZM724.06 310.99H748.99V318.45H724.06ZM494.18 318.15H502.69V325.61H494.18ZM707.64 318.15H724.36V325.61H707.64ZM699.43 325.31H716.15V332.77H699.43ZM436.7 332.47H445.21V339.93H436.7ZM691.22 332.47H707.94V339.93H691.22ZM428.49 339.63H437V347.09H428.49ZM683.01 339.63H691.52V347.09H683.01ZM412.07 346.79H420.58V354.25H412.07ZM666.59 346.79H683.31V354.25H666.59ZM395.65 353.95H404.16V361.41H395.65ZM650.17 353.95H666.89V361.41H650.17ZM650.17 361.11H658.68V368.57H650.17ZM371.02 368.27H379.53V375.73H371.02ZM641.96 368.27H650.47V375.73H641.96ZM362.81 375.43H371.32V382.89H362.81ZM641.96 375.43H650.47V382.89H641.96ZM354.6 382.59H363.11V390.05H354.6ZM641.96 382.59H650.47V390.05H641.96ZM641.96 389.75H650.47V397.21H641.96ZM641.96 396.91H650.47V404.37H641.96ZM329.97 404.07H338.48V411.53H329.97ZM321.76 411.23H330.27V418.69H321.76ZM633.75 411.23H642.26V418.69H633.75ZM313.55 425.55H322.06V433.01H313.55ZM625.54 425.55H634.05V433.01H625.54ZM313.55 432.71H322.06V440.17H313.55ZM617.33 439.87H625.84V447.33H617.33ZM617.33 447.03H625.84V454.49H617.33ZM313.55 461.35H322.06V468.81H313.55ZM609.12 461.35H617.63V468.81H609.12ZM313.55 468.51H322.06V475.97H313.55ZM600.91 475.67H609.42V483.13H600.91ZM321.76 482.83H330.27V490.29H321.76ZM321.76 489.99H330.27V497.45H321.76ZM592.7 489.99H601.21V497.45H592.7ZM329.97 497.15H338.48V504.61H329.97ZM584.49 497.15H593V504.61H584.49ZM338.18 504.31H346.69V511.77H338.18ZM576.28 504.31H584.79V511.77H576.28ZM346.39 511.47H354.9V518.93H346.39ZM559.86 511.47H568.37V518.93H559.86ZM354.6 518.63H363.11V526.09H354.6ZM535.23 518.63H543.74V526.09H535.23ZM912.89 518.63H987.09V526.09H912.89ZM371.02 525.79H387.74V533.25H371.02ZM510.6 525.79H519.11V533.25H510.6ZM896.47 525.79H913.19V533.25H896.47ZM978.57 525.79H1003.51V533.25H978.57ZM403.86 532.95H437V540.41H403.86ZM469.55 532.95H494.48V540.41H469.55ZM888.26 532.95H896.77V540.41H888.26ZM995 532.95H1011.72V540.41H995ZM871.84 540.11H880.35V547.57H871.84ZM1003.21 540.11H1019.93V547.57H1003.21ZM863.63 547.27H872.14V554.73H863.63ZM1011.42 547.27H1028.14V554.73H1011.42ZM847.21 554.43H855.72V561.89H847.21ZM1019.63 554.43H1028.14V561.89H1019.63ZM839 561.59H847.51V569.05H839ZM1019.63 561.59H1028.14V569.05H1019.63ZM830.79 568.75H839.3V576.21H830.79ZM1019.63 568.75H1028.14V576.21H1019.63ZM822.58 575.91H831.09V583.37H822.58ZM1019.63 575.91H1028.14V583.37H1019.63ZM814.37 583.07H822.88V590.53H814.37ZM1019.63 583.07H1028.14V590.53H1019.63ZM806.16 590.23H814.67V597.69H806.16ZM1019.63 590.23H1028.14V597.69H1019.63ZM797.95 597.39H814.67V604.85H797.95ZM1019.63 597.39H1028.14V604.85H1019.63ZM797.95 604.55H806.46V612.01H797.95ZM1019.63 604.55H1028.14V612.01H1019.63ZM789.74 611.71H798.25V619.17H789.74ZM1019.63 611.71H1028.14V619.17H1019.63ZM1192.04 611.71H1200.55V619.17H1192.04ZM789.74 618.87H798.25V626.33H789.74ZM1019.63 618.87H1028.14V626.33H1019.63ZM1183.83 618.87H1192.34V626.33H1183.83ZM781.53 626.03H790.04V633.49H781.53ZM1011.42 626.03H1019.93V633.49H1011.42ZM781.53 633.19H790.04V640.65H781.53ZM1011.42 633.19H1019.93V640.65H1011.42ZM1175.62 633.19H1184.13V640.65H1175.62ZM781.53 640.35H798.25V647.81H781.53ZM1175.62 640.35H1184.13V647.81H1175.62ZM789.74 647.51H798.25V654.97H789.74ZM1003.21 647.51H1011.72V654.97H1003.21ZM1175.62 647.51H1184.13V654.97H1175.62ZM789.74 654.67H806.46V662.13H789.74ZM797.95 661.83H814.67V669.29H797.95ZM995 661.83H1003.51V669.29H995ZM814.37 668.99H831.09V676.45H814.37ZM986.79 668.99H995.3V676.45H986.79ZM830.79 676.15H847.51V683.61H830.79ZM962.15 676.15H978.87V683.61H962.15ZM855.42 683.31H954.24V690.77H855.42ZM338.18 690.48H363.11V697.94H338.18ZM338.18 697.64H371.32V705.1H338.18ZM338.18 704.8H371.32V712.26H338.18ZM346.39 711.96H363.11V719.42H346.39ZM888.26 855.16H896.77V862.62H888.26ZM855.42 862.32H863.93V869.78H855.42ZM781.53 869.48H790.04V876.94H781.53ZM699.43 876.64H707.94V884.1H699.43ZM674.8 883.8H683.31V891.26H674.8Z"/>
<path fill="#5faae1" d="M650.17 196.42H683.31V203.88H650.17ZM724.06 196.42H781.83V203.88H724.06ZM633.75 203.58H650.47V211.04H633.75ZM789.74 203.58H814.67V211.04H789.74ZM625.54 210.74H642.26V218.2H625.54ZM806.16 210.74H831.09V218.2H806.16ZM617.33 217.9H634.05V225.36H617.33ZM822.58 217.9H839.3V225.36H822.58ZM609.12 225.06H625.84V232.53H609.12ZM822.58 225.06H839.3V232.53H822.58ZM609.12 232.22H617.63V239.69H609.12ZM830.79 232.22H847.51V239.69H830.79ZM600.91 239.39H609.42V246.85H600.91ZM830.79 239.39H839.3V246.85H830.79ZM592.7 246.55H601.21V254.01H592.7ZM830.79 246.55H839.3V254.01H830.79ZM584.49 253.71H601.21V261.17H584.49ZM822.58 253.71H839.3V261.17H822.58ZM584.49 260.87H593V268.33H584.49ZM822.58 260.87H839.3V268.33H822.58ZM576.28 268.03H584.79V275.49H576.28ZM814.37 268.03H831.09V275.49H814.37ZM568.07 275.19H584.79V282.65H568.07ZM814.37 275.19H822.88V282.65H814.37ZM559.86 282.35H576.58V289.81H559.86ZM806.16 282.35H814.67V289.81H806.16ZM551.65 289.51H560.16V296.97H551.65ZM797.95 289.51H814.67V296.97H797.95ZM535.23 296.67H551.95V304.13H535.23ZM781.53 296.67H798.25V304.13H781.53ZM518.81 303.83H527.32V311.29H518.81ZM765.11 303.83H790.04V311.29H765.11ZM502.39 310.99H510.9V318.45H502.39ZM748.69 310.99H765.41V318.45H748.69ZM477.76 318.15H494.48V325.61H477.76ZM724.06 318.15H748.99V325.61H724.06ZM453.12 325.31H461.64V332.77H453.12ZM715.85 325.31H732.57V332.77H715.85ZM707.64 332.47H716.15V339.93H707.64ZM420.28 339.63H428.79V347.09H420.28ZM691.22 339.63H707.94V347.09H691.22ZM403.86 346.79H412.37V354.25H403.86ZM683.01 346.79H699.73V354.25H683.01ZM387.44 353.95H395.95V361.41H387.44ZM666.59 353.95H683.31V361.41H666.59ZM379.23 361.11H387.74V368.57H379.23ZM658.38 361.11H666.89V368.57H658.38ZM650.17 368.27H666.89V375.73H650.17ZM650.17 375.43H658.68V382.89H650.17ZM346.39 382.59H354.9V390.05H346.39ZM650.17 382.59H658.68V390.05H650.17ZM338.18 389.75H346.69V397.21H338.18ZM650.17 389.75H658.68V397.21H650.17ZM329.97 396.91H338.48V404.37H329.97ZM650.17 396.91H658.68V404.37H650.17ZM321.76 404.07H330.27V411.53H321.76ZM641.96 404.07H650.47V411.53H641.96ZM641.96 411.23H650.47V418.69H641.96ZM313.55 418.39H322.06V425.85H313.55ZM633.75 418.39H642.26V425.85H633.75ZM625.54 432.71H634.05V440.17H625.54ZM305.34 439.87H313.85V447.33H305.34ZM305.34 447.03H313.85V454.49H305.34ZM305.34 454.19H313.85V461.65H305.34ZM617.33 454.19H625.84V461.65H617.33ZM305.34 461.35H313.85V468.81H305.34ZM617.33 461.35H625.84V468.81H617.33ZM609.12 468.51H617.63V475.97H609.12ZM313.55 475.67H322.06V483.13H313.55ZM609.12 475.67H617.63V483.13H609.12ZM313.55 482.83H322.06V490.29H313.55ZM600.91 482.83H609.42V490.29H600.91ZM321.76 497.15H330.27V504.61H321.76ZM592.7 497.15H601.21V504.61H592.7ZM329.97 504.31H338.48V511.77H329.97ZM584.49 504.31H593V511.77H584.49ZM338.18 511.47H346.69V518.93H338.18ZM568.07 511.47H576.58V518.93H568.07ZM912.89 511.47H987.09V518.93H912.89ZM346.39 518.63H354.9V526.09H346.39ZM543.44 518.63H560.16V526.09H543.44ZM896.47 518.63H913.19V526.09H896.47ZM986.79 518.63H1003.51V526.09H986.79ZM362.81 525.79H371.32V533.25H362.81ZM518.81 525.79H535.53V533.25H518.81ZM888.26 525.79H896.77V533.25H888.26ZM1003.21 525.79H1019.93V533.25H1003.21ZM379.23 532.95H404.16V540.41H379.23ZM494.18 532.95H510.9V540.41H494.18ZM871.84 532.95H888.56V540.41H871.84ZM1011.42 532.95H1028.14V540.41H1011.42ZM863.63 540.11H872.14V547.57H863.63ZM1019.63 540.11H1028.14V547.57H1019.63ZM847.21 547.27H863.93V554.73H847.21ZM1027.84 547.27H1036.35V554.73H1027.84ZM839 554.43H847.51V561.89H839ZM1027.84 554.43H1036.35V561.89H1027.84ZM830.79 561.59H839.3V569.05H830.79ZM1027.84 561.59H1036.35V569.05H1027.84ZM822.58 568.75H831.09V576.21H822.58ZM1027.84 568.75H1036.35V576.21H1027.84ZM814.37 575.91H822.88V583.37H814.37ZM1027.84 575.91H1036.35V583.37H1027.84ZM806.16 583.07H814.67V590.53H806.16ZM1027.84 583.07H1036.35V590.53H1027.84ZM797.95 590.23H806.46V597.69H797.95ZM1027.84 590.23H1036.35V597.69H1027.84ZM789.74 597.39H798.25V604.85H789.74ZM1027.84 597.39H1036.35V604.85H1027.84ZM789.74 604.55H798.25V612.01H789.74ZM1027.84 604.55H1036.35V612.01H1027.84ZM1200.25 604.55H1208.76V612.01H1200.25ZM781.53 611.71H790.04V619.17H781.53ZM1027.84 611.71H1036.35V619.17H1027.84ZM1183.83 611.71H1192.34V619.17H1183.83ZM781.53 618.87H790.04V626.33H781.53ZM1027.84 618.87H1036.35V626.33H1027.84ZM773.32 626.03H781.83V633.49H773.32ZM1019.63 626.03H1028.14V633.49H1019.63ZM1175.62 626.03H1184.13V633.49H1175.62ZM773.32 633.19H781.83V640.65H773.32ZM1019.63 633.19H1028.14V640.65H1019.63ZM773.32 640.35H781.83V647.81H773.32ZM1011.42 640.35H1019.93V647.81H1011.42ZM773.32 647.51H790.04V654.97H773.32ZM1011.42 647.51H1019.93V654.97H1011.42ZM781.53 654.67H790.04V662.13H781.53ZM1003.21 654.67H1011.72V662.13H1003.21ZM1175.62 654.67H1184.13V662.13H1175.62ZM781.53 661.83H798.25V669.29H781.53ZM1003.21 661.83H1011.72V669.29H1003.21ZM1175.62 661.83H1184.13V669.29H1175.62ZM338.18 668.99H354.9V676.45H338.18ZM797.95 668.99H814.67V676.45H797.95ZM995 668.99H1003.51V676.45H995ZM329.97 676.15H363.11V683.61H329.97ZM814.37 676.15H831.09V683.61H814.37ZM978.57 676.15H987.09V683.61H978.57ZM329.97 683.31H371.32V690.77H329.97ZM830.79 683.31H855.72V690.77H830.79ZM953.94 683.31H970.66V690.77H953.94ZM321.76 690.48H338.48V697.94H321.76ZM362.81 690.48H379.53V697.94H362.81ZM863.63 690.48H929.61V697.94H863.63ZM321.76 697.64H338.48V705.1H321.76ZM371.02 697.64H379.53V705.1H371.02ZM321.76 704.8H338.48V712.26H321.76ZM371.02 704.8H379.53V712.26H371.02ZM329.97 711.96H346.69V719.42H329.97ZM362.81 711.96H379.53V719.42H362.81ZM338.18 719.12H379.53V726.58H338.18ZM354.6 726.28H363.11V733.74H354.6ZM962.15 848H978.87V855.46H962.15ZM880.05 855.16H888.56V862.62H880.05ZM847.21 862.32H855.72V869.78H847.21ZM773.32 869.48H781.83V876.94H773.32ZM691.22 876.64H699.73V884.1H691.22ZM650.17 890.96H658.68V898.42H650.17ZM625.54 898.12H634.05V905.58H625.54Z"/>
<path fill="#5fc0f0" d="M658.38 189.26H757.2V196.72H658.38ZM633.75 196.42H650.47V203.88H633.75ZM781.53 196.42H814.67V203.88H781.53ZM625.54 203.58H634.05V211.04H625.54ZM814.37 203.58H839.3V211.04H814.37ZM617.33 210.74H625.84V218.2H617.33ZM830.79 210.74H847.51V218.2H830.79ZM609.12 217.9H617.63V225.36H609.12ZM839 217.9H855.72V225.36H839ZM600.91 225.06H609.42V232.53H600.91ZM839 225.06H863.93V232.53H839ZM600.91 232.22H609.42V239.69H600.91ZM847.21 232.22H863.93V239.69H847.21ZM592.7 239.39H601.21V246.85H592.7ZM839 239.39H863.93V246.85H839ZM584.49 246.55H593V254.01H584.49ZM839 246.55H863.93V254.01H839ZM839 253.71H863.93V261.17H839ZM576.28 260.87H584.79V268.33H576.28ZM839 260.87H855.72V268.33H839ZM568.07 268.03H576.58V275.49H568.07ZM830.79 268.03H855.72V275.49H830.79ZM559.86 275.19H568.37V282.65H559.86ZM822.58 275.19H847.51V282.65H822.58ZM551.65 282.35H560.16V289.81H551.65ZM814.37 282.35H831.09V289.81H814.37ZM535.23 289.51H551.95V296.97H535.23ZM814.37 289.51H822.88V296.97H814.37ZM518.81 296.67H535.53V304.13H518.81ZM797.95 296.67H822.88V304.13H797.95ZM502.39 303.83H519.11V311.29H502.39ZM789.74 303.83H806.46V311.29H789.74ZM494.18 310.99H502.69V318.45H494.18ZM765.11 310.99H790.04V318.45H765.11ZM461.34 318.15H478.06V325.61H461.34ZM748.69 318.15H773.62V325.61H748.69ZM444.91 325.31H453.43V332.77H444.91ZM732.27 325.31H748.99V332.77H732.27ZM428.49 332.47H437V339.93H428.49ZM715.85 332.47H732.57V339.93H715.85ZM412.07 339.63H420.58V347.09H412.07ZM707.64 339.63H724.36V347.09H707.64ZM395.65 346.79H404.16V354.25H395.65ZM699.43 346.79H716.15V354.25H699.43ZM683.01 353.95H707.94V361.41H683.01ZM371.02 361.11H379.53V368.57H371.02ZM666.59 361.11H691.52V368.57H666.59ZM362.81 368.27H371.32V375.73H362.81ZM666.59 368.27H683.31V375.73H666.59ZM354.6 375.43H363.11V382.89H354.6ZM658.38 375.43H675.1V382.89H658.38ZM658.38 382.59H675.1V390.05H658.38ZM329.97 389.75H338.48V397.21H329.97ZM658.38 389.75H666.89V397.21H658.38ZM658.38 396.91H666.89V404.37H658.38ZM650.17 404.07H658.68V411.53H650.17ZM313.55 411.23H322.06V418.69H313.55ZM650.17 411.23H658.68V418.69H650.17ZM641.96 418.39H650.47V425.85H641.96ZM305.34 425.55H313.85V433.01H305.34ZM633.75 425.55H642.26V433.01H633.75ZM305.34 432.71H313.85V440.17H305.34ZM625.54 439.87H634.05V447.33H625.54ZM625.54 447.03H634.05V454.49H625.54ZM625.54 454.19H634.05V461.65H625.54ZM305.34 468.51H313.85V475.97H305.34ZM617.33 468.51H625.84V475.97H617.33ZM305.34 475.67H313.85V483.13H305.34ZM609.12 482.83H617.63V490.29H609.12ZM313.55 489.99H322.06V497.45H313.55ZM600.91 489.99H609.42V497.45H600.91ZM321.76 504.31H330.27V511.77H321.76ZM921.1 504.31H987.09V511.77H921.1ZM329.97 511.47H338.48V518.93H329.97ZM576.28 511.47H584.79V518.93H576.28ZM896.47 511.47H913.19V518.93H896.47ZM986.79 511.47H1003.51V518.93H986.79ZM338.18 518.63H346.69V526.09H338.18ZM559.86 518.63H568.37V526.09H559.86ZM888.26 518.63H896.77V526.09H888.26ZM1003.21 518.63H1019.93V526.09H1003.21ZM346.39 525.79H363.11V533.25H346.39ZM535.23 525.79H551.95V533.25H535.23ZM880.05 525.79H888.56V533.25H880.05ZM1019.63 525.79H1028.14V533.25H1019.63ZM362.81 532.95H379.53V540.41H362.81ZM510.6 532.95H519.11V540.41H510.6ZM863.63 532.95H872.14V540.41H863.63ZM1027.84 532.95H1036.35V540.41H1027.84ZM395.65 540.11H486.27V547.57H395.65ZM855.42 540.11H863.93V547.57H855.42ZM1027.84 540.11H1036.35V547.57H1027.84ZM839 547.27H847.51V554.73H839ZM1036.05 547.27H1044.56V554.73H1036.05ZM830.79 554.43H839.3V561.89H830.79ZM1036.05 554.43H1044.56V561.89H1036.05ZM822.58 561.59H831.09V569.05H822.58ZM1036.05 561.59H1044.56V569.05H1036.05ZM814.37 568.75H822.88V576.21H814.37ZM1036.05 568.75H1044.56V576.21H1036.05ZM806.16 575.91H814.67V583.37H806.16ZM1036.05 575.91H1044.56V583.37H1036.05ZM797.95 583.07H806.46V590.53H797.95ZM1036.05 583.07H1044.56V590.53H1036.05ZM789.74 590.23H798.25V597.69H789.74ZM1036.05 590.23H1044.56V597.69H1036.05ZM781.53 597.39H790.04V604.85H781.53ZM1036.05 597.39H1044.56V604.85H1036.05ZM1200.25 597.39H1208.76V604.85H1200.25ZM781.53 604.55H790.04V612.01H781.53ZM1036.05 604.55H1044.56V612.01H1036.05ZM1192.04 604.55H1200.55V612.01H1192.04ZM773.32 611.71H781.83V619.17H773.32ZM1036.05 611.71H1044.56V619.17H1036.05ZM773.32 618.87H781.83V626.33H773.32ZM1175.62 618.87H1184.13V626.33H1175.62ZM765.11 626.03H773.62V633.49H765.11ZM1027.84 626.03H1036.35V633.49H1027.84ZM1167.41 626.03H1175.92V633.49H1167.41ZM765.11 633.19H773.62V640.65H765.11ZM1027.84 633.19H1036.35V640.65H1027.84ZM1167.41 633.19H1175.92V640.65H1167.41ZM765.11 640.35H773.62V647.81H765.11ZM1019.63 640.35H1028.14V647.81H1019.63ZM1167.41 640.35H1175.92V647.81H1167.41ZM765.11 647.51H773.62V654.97H765.11ZM1019.63 647.51H1028.14V654.97H1019.63ZM1167.41 647.51H1175.92V654.97H1167.41ZM765.11 654.67H781.83V662.13H765.11ZM1011.42 654.67H1019.93V662.13H1011.42ZM1167.41 654.67H1175.92V662.13H1167.41ZM329.97 661.83H363.11V669.29H329.97ZM773.32 661.83H781.83V669.29H773.32ZM1011.42 661.83H1019.93V669.29H1011.42ZM1167.41 661.83H1175.92V669.29H1167.41ZM321.76 668.99H338.48V676.45H321.76ZM354.6 668.99H371.32V676.45H354.6ZM781.53 668.99H798.25V676.45H781.53ZM1003.21 668.99H1011.72V676.45H1003.21ZM321.76 676.15H330.27V683.61H321.76ZM362.81 676.15H379.53V683.61H362.81ZM797.95 676.15H814.67V683.61H797.95ZM986.79 676.15H1003.51V683.61H986.79ZM313.55 683.31H330.27V690.77H313.55ZM371.02 683.31H387.74V690.77H371.02ZM814.37 683.31H831.09V690.77H814.37ZM970.36 683.31H987.09V690.77H970.36ZM313.55 690.48H322.06V697.94H313.55ZM379.23 690.48H387.74V697.94H379.23ZM839 690.48H863.93V697.94H839ZM929.31 690.48H954.24V697.94H929.31ZM313.55 697.64H322.06V705.1H313.55ZM379.23 697.64H387.74V705.1H379.23ZM313.55 704.8H322.06V712.26H313.55ZM379.23 704.8H387.74V712.26H379.23ZM321.76 711.96H330.27V719.42H321.76ZM379.23 711.96H387.74V719.42H379.23ZM329.97 719.12H338.48V726.58H329.97ZM379.23 719.12H387.74V726.58H379.23ZM338.18 726.28H354.9V733.74H338.18ZM362.81 726.28H387.74V733.74H362.81ZM354.6 733.44H371.32V740.9H354.6ZM937.52 848H962.45V855.46H937.52ZM871.84 855.16H880.35V862.62H871.84ZM839 862.32H847.51V869.78H839ZM756.9 869.48H773.62V876.94H756.9ZM666.59 883.8H675.1V891.26H666.59ZM641.96 890.96H650.47V898.42H641.96ZM617.33 898.12H625.84V905.58H617.33Z"/>
<path fill="#6ccdee" d="M641.96 189.26H658.68V196.72H641.96ZM756.9 189.26H806.46V196.72H756.9ZM625.54 196.42H634.05V203.88H625.54ZM814.37 196.42H839.3V203.88H814.37ZM617.33 203.58H625.84V211.04H617.33ZM839 203.58H855.72V211.04H839ZM609.12 210.74H617.63V218.2H609.12ZM847.21 210.74H872.14V218.2H847.21ZM600.91 217.9H609.42V225.36H600.91ZM855.42 217.9H880.35V225.36H855.42ZM592.7 225.06H601.21V232.53H592.7ZM863.63 225.06H880.35V232.53H863.63ZM592.7 232.22H601.21V239.69H592.7ZM863.63 232.22H880.35V239.69H863.63ZM584.49 239.39H593V246.85H584.49ZM863.63 239.39H880.35V246.85H863.63ZM576.28 246.55H584.79V254.01H576.28ZM863.63 246.55H880.35V254.01H863.63ZM576.28 253.71H584.79V261.17H576.28ZM863.63 253.71H880.35V261.17H863.63ZM568.07 260.87H576.58V268.33H568.07ZM855.42 260.87H880.35V268.33H855.42ZM559.86 268.03H568.37V275.49H559.86ZM855.42 268.03H872.14V275.49H855.42ZM551.65 275.19H560.16V282.65H551.65ZM847.21 275.19H863.93V282.65H847.21ZM543.44 282.35H551.95V289.81H543.44ZM830.79 282.35H855.72V289.81H830.79ZM527.02 289.51H535.53V296.97H527.02ZM822.58 289.51H839.3V296.97H822.58ZM510.6 296.67H519.11V304.13H510.6ZM822.58 296.67H831.09V304.13H822.58ZM494.18 303.83H502.69V311.29H494.18ZM806.16 303.83H831.09V311.29H806.16ZM485.97 310.99H494.48V318.45H485.97ZM789.74 310.99H814.67V318.45H789.74ZM453.12 318.15H461.64V325.61H453.12ZM773.32 318.15H798.25V325.61H773.32ZM436.7 325.31H445.21V332.77H436.7ZM748.69 325.31H781.83V332.77H748.69ZM420.28 332.47H428.79V339.93H420.28ZM732.27 332.47H757.2V339.93H732.27ZM403.86 339.63H412.37V347.09H403.86ZM724.06 339.63H748.99V347.09H724.06ZM387.44 346.79H395.95V354.25H387.44ZM715.85 346.79H732.57V354.25H715.85ZM379.23 353.95H387.74V361.41H379.23ZM707.64 353.95H724.36V361.41H707.64ZM691.22 361.11H707.94V368.57H691.22ZM683.01 368.27H699.73V375.73H683.01ZM346.39 375.43H354.9V382.89H346.39ZM674.8 375.43H691.52V382.89H674.8ZM338.18 382.59H346.69V390.05H338.18ZM674.8 382.59H683.31V390.05H674.8ZM666.59 389.75H675.1V397.21H666.59ZM321.76 396.91H330.27V404.37H321.76ZM666.59 396.91H675.1V404.37H666.59ZM313.55 404.07H322.06V411.53H313.55ZM658.38 404.07H666.89V411.53H658.38ZM305.34 418.39H313.85V425.85H305.34ZM650.17 418.39H658.68V425.85H650.17ZM641.96 425.55H650.47V433.01H641.96ZM633.75 432.71H642.26V440.17H633.75ZM297.13 439.87H305.64V447.33H297.13ZM633.75 439.87H642.26V447.33H633.75ZM297.13 447.03H305.64V454.49H297.13ZM633.75 447.03H642.26V454.49H633.75ZM297.13 454.19H305.64V461.65H297.13ZM297.13 461.35H305.64V468.81H297.13ZM625.54 461.35H634.05V468.81H625.54ZM625.54 468.51H634.05V475.97H625.54ZM617.33 475.67H625.84V483.13H617.33ZM305.34 482.83H313.85V490.29H305.34ZM609.12 489.99H617.63V497.45H609.12ZM962.15 489.99H970.66V497.45H962.15ZM313.55 497.15H322.06V504.61H313.55ZM600.91 497.15H609.42V504.61H600.91ZM921.1 497.15H987.09V504.61H921.1ZM592.7 504.31H601.21V511.77H592.7ZM896.47 504.31H921.4V511.77H896.47ZM986.79 504.31H1003.51V511.77H986.79ZM321.76 511.47H330.27V518.93H321.76ZM584.49 511.47H593V518.93H584.49ZM888.26 511.47H896.77V518.93H888.26ZM1003.21 511.47H1019.93V518.93H1003.21ZM329.97 518.63H338.48V526.09H329.97ZM568.07 518.63H576.58V526.09H568.07ZM880.05 518.63H888.56V526.09H880.05ZM1019.63 518.63H1036.35V526.09H1019.63ZM338.18 525.79H346.69V533.25H338.18ZM551.65 525.79H560.16V533.25H551.65ZM863.63 525.79H880.35V533.25H863.63ZM1027.84 525.79H1036.35V533.25H1027.84ZM354.6 532.95H363.11V540.41H354.6ZM518.81 532.95H535.53V540.41H518.81ZM855.42 532.95H863.93V540.41H855.42ZM1036.05 532.95H1044.56V540.41H1036.05ZM371.02 540.11H395.95V547.57H371.02ZM485.97 540.11H510.9V547.57H485.97ZM847.21 540.11H855.72V547.57H847.21ZM1036.05 540.11H1044.56V547.57H1036.05ZM830.79 547.27H839.3V554.73H830.79ZM1044.26 547.27H1052.77V554.73H1044.26ZM822.58 554.43H831.09V561.89H822.58ZM1044.26 554.43H1052.77V561.89H1044.26ZM814.37 561.59H822.88V569.05H814.37ZM1044.26 561.59H1052.77V569.05H1044.26ZM806.16 568.75H814.67V576.21H806.16ZM1044.26 568.75H1052.77V576.21H1044.26ZM797.95 575.91H806.46V583.37H797.95ZM1044.26 575.91H1052.77V583.37H1044.26ZM789.74 583.07H798.25V590.53H789.74ZM1044.26 583.07H1052.77V590.53H1044.26ZM781.53 590.23H790.04V597.69H781.53ZM1044.26 590.23H1052.77V597.69H1044.26ZM1208.46 590.23H1216.97V597.69H1208.46ZM773.32 597.39H781.83V604.85H773.32ZM1044.26 597.39H1052.77V604.85H1044.26ZM1192.04 597.39H1200.55V604.85H1192.04ZM773.32 604.55H781.83V612.01H773.32ZM1044.26 604.55H1052.77V612.01H1044.26ZM1183.83 604.55H1192.34V612.01H1183.83ZM765.11 611.71H773.62V619.17H765.11ZM1044.26 611.71H1052.77V619.17H1044.26ZM1175.62 611.71H1184.13V619.17H1175.62ZM765.11 618.87H773.62V626.33H765.11ZM1036.05 618.87H1044.56V626.33H1036.05ZM1167.41 618.87H1175.92V626.33H1167.41ZM756.9 626.03H765.41V633.49H756.9ZM1036.05 626.03H1044.56V633.49H1036.05ZM756.9 633.19H765.41V640.65H756.9ZM1036.05 633.19H1044.56V640.65H1036.05ZM756.9 640.35H765.41V647.81H756.9ZM1027.84 640.35H1036.35V647.81H1027.84ZM756.9 647.51H765.41V654.97H756.9ZM1027.84 647.51H1036.35V654.97H1027.84ZM329.97 654.67H363.11V662.13H329.97ZM756.9 654.67H765.41V662.13H756.9ZM1019.63 654.67H1028.14V662.13H1019.63ZM321.76 661.83H330.27V669.29H321.76ZM362.81 661.83H371.32V669.29H362.81ZM765.11 661.83H773.62V669.29H765.11ZM313.55 668.99H322.06V676.45H313.55ZM371.02 668.99H379.53V676.45H371.02ZM765.11 668.99H781.83V676.45H765.11ZM1011.42 668.99H1019.93V676.45H1011.42ZM1167.41 668.99H1175.92V676.45H1167.41ZM313.55 676.15H322.06V683.61H313.55ZM379.23 676.15H387.74V683.61H379.23ZM781.53 676.15H798.25V683.61H781.53ZM1003.21 676.15H1011.72V683.61H1003.21ZM1167.41 676.15H1175.92V683.61H1167.41ZM387.44 683.31H395.95V690.77H387.44ZM797.95 683.31H814.67V690.77H797.95ZM986.79 683.31H995.3V690.77H986.79ZM305.34 690.48H313.85V697.94H305.34ZM387.44 690.48H395.95V697.94H387.44ZM822.58 690.48H839.3V697.94H822.58ZM953.94 690.48H970.66V697.94H953.94ZM305.34 697.64H313.85V705.1H305.34ZM387.44 697.64H395.95V705.1H387.44ZM855.42 697.64H929.61V705.1H855.42ZM387.44 704.8H395.95V712.26H387.44ZM313.55 711.96H322.06V719.42H313.55ZM387.44 711.96H395.95V719.42H387.44ZM321.76 719.12H330.27V726.58H321.76ZM387.44 719.12H395.95V726.58H387.44ZM329.97 726.28H338.48V733.74H329.97ZM387.44 726.28H395.95V733.74H387.44ZM338.18 733.44H354.9V740.9H338.18ZM371.02 733.44H387.74V740.9H371.02ZM904.68 848H937.82V855.46H904.68ZM863.63 855.16H872.14V862.62H863.63ZM822.58 862.32H839.3V869.78H822.58ZM748.69 869.48H757.2V876.94H748.69ZM683.01 876.64H691.52V884.1H683.01Z"/>
<path fill="#7ad2e4" d="M650.17 182.1H765.41V189.56H650.17ZM625.54 189.26H642.26V196.72H625.54ZM806.16 189.26H831.09V196.72H806.16ZM617.33 196.42H625.84V203.88H617.33ZM839 196.42H855.72V203.88H839ZM609.12 203.58H617.63V211.04H609.12ZM855.42 203.58H872.14V211.04H855.42ZM600.91 210.74H609.42V218.2H600.91ZM871.84 210.74H888.56V218.2H871.84ZM592.7 217.9H601.21V225.36H592.7ZM880.05 217.9H888.56V225.36H880.05ZM584.49 225.06H593V232.53H584.49ZM880.05 225.06H896.77V232.53H880.05ZM584.49 232.22H593V239.69H584.49ZM880.05 232.22H896.77V239.69H880.05ZM576.28 239.39H584.79V246.85H576.28ZM880.05 239.39H904.98V246.85H880.05ZM568.07 246.55H576.58V254.01H568.07ZM880.05 246.55H904.98V254.01H880.05ZM568.07 253.71H576.58V261.17H568.07ZM880.05 253.71H896.77V261.17H880.05ZM559.86 260.87H568.37V268.33H559.86ZM880.05 260.87H896.77V268.33H880.05ZM551.65 268.03H560.16V275.49H551.65ZM871.84 268.03H888.56V275.49H871.84ZM543.44 275.19H551.95V282.65H543.44ZM863.63 275.19H880.35V282.65H863.63ZM535.23 282.35H543.74V289.81H535.23ZM855.42 282.35H872.14V289.81H855.42ZM518.81 289.51H527.32V296.97H518.81ZM839 289.51H855.72V296.97H839ZM502.39 296.67H510.9V304.13H502.39ZM830.79 296.67H847.51V304.13H830.79ZM485.97 303.83H494.48V311.29H485.97ZM830.79 303.83H839.3V311.29H830.79ZM469.55 310.99H486.27V318.45H469.55ZM814.37 310.99H831.09V318.45H814.37ZM436.7 318.15H453.43V325.61H436.7ZM797.95 318.15H814.67V325.61H797.95ZM428.49 325.31H437V332.77H428.49ZM781.53 325.31H798.25V332.77H781.53ZM412.07 332.47H420.58V339.93H412.07ZM756.9 332.47H773.62V339.93H756.9ZM395.65 339.63H404.16V347.09H395.65ZM748.69 339.63H757.2V347.09H748.69ZM732.27 346.79H757.2V354.25H732.27ZM371.02 353.95H379.53V361.41H371.02ZM724.06 353.95H740.78V361.41H724.06ZM362.81 361.11H371.32V368.57H362.81ZM707.64 361.11H724.36V368.57H707.64ZM354.6 368.27H363.11V375.73H354.6ZM699.43 368.27H716.15V375.73H699.43ZM691.22 375.43H699.73V382.89H691.22ZM329.97 382.59H338.48V390.05H329.97ZM683.01 382.59H691.52V390.05H683.01ZM321.76 389.75H330.27V397.21H321.76ZM674.8 389.75H691.52V397.21H674.8ZM674.8 396.91H683.31V404.37H674.8ZM666.59 404.07H675.1V411.53H666.59ZM305.34 411.23H313.85V418.69H305.34ZM658.38 411.23H666.89V418.69H658.38ZM658.38 418.39H666.89V425.85H658.38ZM297.13 425.55H305.64V433.01H297.13ZM650.17 425.55H658.68V433.01H650.17ZM297.13 432.71H305.64V440.17H297.13ZM641.96 432.71H650.47V440.17H641.96ZM633.75 454.19H642.26V461.65H633.75ZM633.75 461.35H642.26V468.81H633.75ZM297.13 468.51H305.64V475.97H297.13ZM297.13 475.67H305.64V483.13H297.13ZM625.54 475.67H634.05V483.13H625.54ZM617.33 482.83H625.84V490.29H617.33ZM953.94 482.83H987.09V490.29H953.94ZM305.34 489.99H313.85V497.45H305.34ZM617.33 489.99H625.84V497.45H617.33ZM929.31 489.99H962.45V497.45H929.31ZM970.36 489.99H995.3V497.45H970.36ZM305.34 497.15H313.85V504.61H305.34ZM609.12 497.15H617.63V504.61H609.12ZM896.47 497.15H921.4V504.61H896.47ZM986.79 497.15H1011.72V504.61H986.79ZM313.55 504.31H322.06V511.77H313.55ZM600.91 504.31H609.42V511.77H600.91ZM888.26 504.31H896.77V511.77H888.26ZM1003.21 504.31H1028.14V511.77H1003.21ZM592.7 511.47H601.21V518.93H592.7ZM871.84 511.47H888.56V518.93H871.84ZM1019.63 511.47H1036.35V518.93H1019.63ZM321.76 518.63H330.27V526.09H321.76ZM576.28 518.63H584.79V526.09H576.28ZM863.63 518.63H880.35V526.09H863.63ZM1036.05 518.63H1044.56V526.09H1036.05ZM329.97 525.79H338.48V533.25H329.97ZM559.86 525.79H568.37V533.25H559.86ZM855.42 525.79H863.93V533.25H855.42ZM1036.05 525.79H1052.77V533.25H1036.05ZM346.39 532.95H354.9V540.41H346.39ZM535.23 532.95H551.95V540.41H535.23ZM847.21 532.95H855.72V540.41H847.21ZM1044.26 532.95H1052.77V540.41H1044.26ZM354.6 540.11H371.32V547.57H354.6ZM510.6 540.11H519.11V547.57H510.6ZM830.79 540.11H847.51V547.57H830.79ZM1044.26 540.11H1052.77V547.57H1044.26ZM379.23 547.27H486.27V554.73H379.23ZM822.58 547.27H831.09V554.73H822.58ZM1052.47 547.27H1060.98V554.73H1052.47ZM814.37 554.43H822.88V561.89H814.37ZM1052.47 554.43H1060.98V561.89H1052.47ZM806.16 561.59H814.67V569.05H806.16ZM1052.47 561.59H1060.98V569.05H1052.47ZM797.95 568.75H806.46V576.21H797.95ZM1052.47 568.75H1060.98V576.21H1052.47ZM789.74 575.91H798.25V583.37H789.74ZM1052.47 575.91H1060.98V583.37H1052.47ZM781.53 583.07H790.04V590.53H781.53ZM1052.47 583.07H1060.98V590.53H1052.47ZM773.32 590.23H781.83V597.69H773.32ZM1052.47 590.23H1060.98V597.69H1052.47ZM1200.25 590.23H1208.76V597.69H1200.25ZM765.11 597.39H773.62V604.85H765.11ZM1052.47 597.39H1060.98V604.85H1052.47ZM1183.83 597.39H1192.34V604.85H1183.83ZM765.11 604.55H773.62V612.01H765.11ZM1052.47 604.55H1060.98V612.01H1052.47ZM1175.62 604.55H1184.13V612.01H1175.62ZM756.9 611.71H765.41V619.17H756.9ZM1052.47 611.71H1060.98V619.17H1052.47ZM1167.41 611.71H1175.92V619.17H1167.41ZM756.9 618.87H765.41V626.33H756.9ZM1044.26 618.87H1052.77V626.33H1044.26ZM748.69 626.03H757.2V633.49H748.69ZM1044.26 626.03H1052.77V633.49H1044.26ZM1159.2 626.03H1167.71V633.49H1159.2ZM748.69 633.19H757.2V640.65H748.69ZM1044.26 633.19H1052.77V640.65H1044.26ZM1159.2 633.19H1167.71V640.65H1159.2ZM748.69 640.35H757.2V647.81H748.69ZM1036.05 640.35H1044.56V647.81H1036.05ZM1159.2 640.35H1167.71V647.81H1159.2ZM321.76 647.51H363.11V654.97H321.76ZM748.69 647.51H757.2V654.97H748.69ZM1036.05 647.51H1044.56V654.97H1036.05ZM1159.2 647.51H1167.71V654.97H1159.2ZM313.55 654.67H330.27V662.13H313.55ZM362.81 654.67H371.32V662.13H362.81ZM748.69 654.67H757.2V662.13H748.69ZM1027.84 654.67H1036.35V662.13H1027.84ZM1159.2 654.67H1167.71V662.13H1159.2ZM313.55 661.83H322.06V669.29H313.55ZM371.02 661.83H379.53V669.29H371.02ZM756.9 661.83H765.41V669.29H756.9ZM1019.63 661.83H1028.14V669.29H1019.63ZM1159.2 661.83H1167.71V669.29H1159.2ZM305.34 668.99H313.85V676.45H305.34ZM379.23 668.99H387.74V676.45H379.23ZM756.9 668.99H765.41V676.45H756.9ZM1019.63 668.99H1028.14V676.45H1019.63ZM1159.2 668.99H1167.71V676.45H1159.2ZM305.34 676.15H313.85V683.61H305.34ZM387.44 676.15H395.95V683.61H387.44ZM765.11 676.15H781.83V683.61H765.11ZM1011.42 676.15H1019.93V683.61H1011.42ZM1159.2 676.15H1167.71V683.61H1159.2ZM305.34 683.31H313.85V690.77H305.34ZM781.53 683.31H798.25V690.77H781.53ZM995 683.31H1003.51V690.77H995ZM395.65 690.48H404.16V697.94H395.65ZM797.95 690.48H822.88V697.94H797.95ZM970.36 690.48H987.09V697.94H970.36ZM395.65 697.64H404.16V705.1H395.65ZM839 697.64H855.72V705.1H839ZM929.31 697.64H954.24V705.1H929.31ZM305.34 704.8H313.85V712.26H305.34ZM395.65 704.8H404.16V712.26H395.65ZM305.34 711.96H313.85V719.42H305.34ZM395.65 711.96H404.16V719.42H395.65ZM313.55 719.12H322.06V726.58H313.55ZM395.65 719.12H404.16V726.58H395.65ZM321.76 726.28H330.27V733.74H321.76ZM395.65 726.28H404.16V733.74H395.65ZM329.97 733.44H338.48V740.9H329.97ZM387.44 733.44H395.95V740.9H387.44ZM338.18 740.6H387.74V748.06H338.18ZM888.26 848H904.98V855.46H888.26ZM789.74 862.32H822.88V869.78H789.74ZM732.27 869.48H748.99V876.94H732.27ZM658.38 883.8H666.89V891.26H658.38ZM633.75 890.96H642.26V898.42H633.75ZM609.12 898.12H617.63V905.58H609.12Z"/>
<path fill="#8ad7dc" d="M625.54 182.1H650.47V189.56H625.54ZM765.11 182.1H822.88V189.56H765.11ZM617.33 189.26H625.84V196.72H617.33ZM830.79 189.26H855.72V196.72H830.79ZM600.91 196.42H617.63V203.88H600.91ZM855.42 196.42H880.35V203.88H855.42ZM600.91 203.58H609.42V211.04H600.91ZM871.84 203.58H888.56V211.04H871.84ZM592.7 210.74H601.21V218.2H592.7ZM888.26 210.74H904.98V218.2H888.26ZM584.49 217.9H593V225.36H584.49ZM888.26 217.9H913.19V225.36H888.26ZM576.28 225.06H584.79V232.53H576.28ZM896.47 225.06H913.19V232.53H896.47ZM576.28 232.22H584.79V239.69H576.28ZM896.47 232.22H921.4V239.69H896.47ZM568.07 239.39H576.58V246.85H568.07ZM904.68 239.39H921.4V246.85H904.68ZM904.68 246.55H921.4V254.01H904.68ZM559.86 253.71H568.37V261.17H559.86ZM896.47 253.71H921.4V261.17H896.47ZM551.65 260.87H560.16V268.33H551.65ZM896.47 260.87H913.19V268.33H896.47ZM543.44 268.03H551.95V275.49H543.44ZM888.26 268.03H913.19V275.49H888.26ZM535.23 275.19H543.74V282.65H535.23ZM880.05 275.19H904.98V282.65H880.05ZM518.81 282.35H535.53V289.81H518.81ZM871.84 282.35H888.56V289.81H871.84ZM502.39 289.51H519.11V296.97H502.39ZM855.42 289.51H872.14V296.97H855.42ZM494.18 296.67H502.69V304.13H494.18ZM847.21 296.67H855.72V304.13H847.21ZM477.76 303.83H486.27V311.29H477.76ZM839 303.83H847.51V311.29H839ZM453.12 310.99H469.85V318.45H453.12ZM830.79 310.99H839.3V318.45H830.79ZM814.37 318.15H831.09V325.61H814.37ZM420.28 325.31H428.79V332.77H420.28ZM797.95 325.31H806.46V332.77H797.95ZM403.86 332.47H412.37V339.93H403.86ZM773.32 332.47H790.04V339.93H773.32ZM756.9 339.63H773.62V347.09H756.9ZM379.23 346.79H387.74V354.25H379.23ZM756.9 346.79H765.41V354.25H756.9ZM740.48 353.95H757.2V361.41H740.48ZM724.06 361.11H740.78V368.57H724.06ZM346.39 368.27H354.9V375.73H346.39ZM715.85 368.27H724.36V375.73H715.85ZM338.18 375.43H346.69V382.89H338.18ZM699.43 375.43H716.15V382.89H699.43ZM691.22 382.59H707.94V390.05H691.22ZM691.22 389.75H699.73V397.21H691.22ZM313.55 396.91H322.06V404.37H313.55ZM683.01 396.91H691.52V404.37H683.01ZM305.34 404.07H313.85V411.53H305.34ZM674.8 404.07H683.31V411.53H674.8ZM666.59 411.23H675.1V418.69H666.59ZM297.13 418.39H305.64V425.85H297.13ZM658.38 425.55H666.89V433.01H658.38ZM650.17 432.71H658.68V440.17H650.17ZM641.96 439.87H650.47V447.33H641.96ZM288.92 447.03H297.43V454.49H288.92ZM641.96 447.03H650.47V454.49H641.96ZM288.92 454.19H297.43V461.65H288.92ZM641.96 454.19H650.47V461.65H641.96ZM288.92 461.35H297.43V468.81H288.92ZM288.92 468.51H297.43V475.97H288.92ZM633.75 468.51H642.26V475.97H633.75ZM970.36 468.51H978.87V475.97H970.36ZM633.75 475.67H642.26V483.13H633.75ZM945.73 475.67H995.3V483.13H945.73ZM297.13 482.83H305.64V490.29H297.13ZM625.54 482.83H634.05V490.29H625.54ZM929.31 482.83H954.24V490.29H929.31ZM986.79 482.83H1003.51V490.29H986.79ZM297.13 489.99H305.64V497.45H297.13ZM896.47 489.99H929.61V497.45H896.47ZM995 489.99H1028.14V497.45H995ZM617.33 497.15H625.84V504.61H617.33ZM888.26 497.15H896.77V504.61H888.26ZM1011.42 497.15H1044.56V504.61H1011.42ZM305.34 504.31H313.85V511.77H305.34ZM609.12 504.31H617.63V511.77H609.12ZM871.84 504.31H888.56V511.77H871.84ZM1027.84 504.31H1044.56V511.77H1027.84ZM313.55 511.47H322.06V518.93H313.55ZM600.91 511.47H609.42V518.93H600.91ZM863.63 511.47H872.14V518.93H863.63ZM1036.05 511.47H1052.77V518.93H1036.05ZM584.49 518.63H593V526.09H584.49ZM855.42 518.63H863.93V526.09H855.42ZM1044.26 518.63H1052.77V526.09H1044.26ZM568.07 525.79H584.79V533.25H568.07ZM847.21 525.79H855.72V533.25H847.21ZM1052.47 525.79H1060.98V533.25H1052.47ZM338.18 532.95H346.69V540.41H338.18ZM551.65 532.95H560.16V540.41H551.65ZM839 532.95H847.51V540.41H839ZM1052.47 532.95H1060.98V540.41H1052.47ZM346.39 540.11H354.9V547.57H346.39ZM518.81 540.11H543.74V547.57H518.81ZM822.58 540.11H831.09V547.57H822.58ZM1052.47 540.11H1060.98V547.57H1052.47ZM354.6 547.27H379.53V554.73H354.6ZM485.97 547.27H510.9V554.73H485.97ZM814.37 547.27H822.88V554.73H814.37ZM806.16 554.43H814.67V561.89H806.16ZM797.95 561.59H806.46V569.05H797.95ZM789.74 568.75H798.25V576.21H789.74ZM1060.68 568.75H1069.19V576.21H1060.68ZM781.53 575.91H790.04V583.37H781.53ZM1060.68 575.91H1069.19V583.37H1060.68ZM773.32 583.07H781.83V590.53H773.32ZM1060.68 583.07H1069.19V590.53H1060.68ZM1208.46 583.07H1216.97V590.53H1208.46ZM765.11 590.23H773.62V597.69H765.11ZM1060.68 590.23H1069.19V597.69H1060.68ZM1192.04 590.23H1200.55V597.69H1192.04ZM1060.68 597.39H1069.19V604.85H1060.68ZM1175.62 597.39H1184.13V604.85H1175.62ZM756.9 604.55H765.41V612.01H756.9ZM1060.68 604.55H1069.19V612.01H1060.68ZM1167.41 604.55H1175.92V612.01H1167.41ZM748.69 611.71H757.2V619.17H748.69ZM748.69 618.87H757.2V626.33H748.69ZM1052.47 618.87H1060.98V626.33H1052.47ZM1159.2 618.87H1167.71V626.33H1159.2ZM1052.47 626.03H1060.98V633.49H1052.47ZM740.48 633.19H748.99V640.65H740.48ZM1052.47 633.19H1060.98V640.65H1052.47ZM1150.99 633.19H1159.5V640.65H1150.99ZM321.76 640.35H354.9V647.81H321.76ZM740.48 640.35H748.99V647.81H740.48ZM1044.26 640.35H1052.77V647.81H1044.26ZM1150.99 640.35H1159.5V647.81H1150.99ZM313.55 647.51H322.06V654.97H313.55ZM362.81 647.51H371.32V654.97H362.81ZM740.48 647.51H748.99V654.97H740.48ZM1044.26 647.51H1052.77V654.97H1044.26ZM1150.99 647.51H1159.5V654.97H1150.99ZM305.34 654.67H313.85V662.13H305.34ZM371.02 654.67H379.53V662.13H371.02ZM1036.05 654.67H1044.56V662.13H1036.05ZM1150.99 654.67H1159.5V662.13H1150.99ZM305.34 661.83H313.85V669.29H305.34ZM379.23 661.83H387.74V669.29H379.23ZM748.69 661.83H757.2V669.29H748.69ZM1027.84 661.83H1036.35V669.29H1027.84ZM1150.99 661.83H1159.5V669.29H1150.99ZM387.44 668.99H395.95V676.45H387.44ZM748.69 668.99H757.2V676.45H748.69ZM297.13 676.15H305.64V683.61H297.13ZM395.65 676.15H404.16V683.61H395.65ZM756.9 676.15H765.41V683.61H756.9ZM1019.63 676.15H1028.14V683.61H1019.63ZM297.13 683.31H305.64V690.77H297.13ZM395.65 683.31H404.16V690.77H395.65ZM773.32 683.31H781.83V690.77H773.32ZM1003.21 683.31H1011.72V690.77H1003.21ZM1159.2 683.31H1167.71V690.77H1159.2ZM297.13 690.48H305.64V697.94H297.13ZM403.86 690.48H412.37V697.94H403.86ZM789.74 690.48H798.25V697.94H789.74ZM986.79 690.48H995.3V697.94H986.79ZM297.13 697.64H305.64V705.1H297.13ZM403.86 697.64H412.37V705.1H403.86ZM814.37 697.64H839.3V705.1H814.37ZM953.94 697.64H978.87V705.1H953.94ZM297.13 704.8H305.64V712.26H297.13ZM403.86 704.8H412.37V712.26H403.86ZM912.89 704.8H921.4V712.26H912.89ZM403.86 711.96H412.37V719.42H403.86ZM305.34 719.12H313.85V726.58H305.34ZM403.86 719.12H412.37V726.58H403.86ZM313.55 726.28H322.06V733.74H313.55ZM403.86 726.28H412.37V733.74H403.86ZM321.76 733.44H330.27V740.9H321.76ZM395.65 733.44H404.16V740.9H395.65ZM329.97 740.6H338.48V748.06H329.97ZM387.44 740.6H395.95V748.06H387.44ZM354.6 747.76H379.53V755.22H354.6ZM962.15 840.84H995.3V848.3H962.15ZM880.05 848H888.56V855.46H880.05ZM855.42 855.16H863.93V862.62H855.42ZM781.53 862.32H790.04V869.78H781.53ZM707.64 869.48H732.57V876.94H707.64ZM625.54 890.96H634.05V898.42H625.54ZM600.91 898.12H609.42V905.58H600.91Z"/>
<path fill="#94dad4" d="M641.96 174.94H765.41V182.4H641.96ZM617.33 182.1H625.84V189.56H617.33ZM822.58 182.1H847.51V189.56H822.58ZM600.91 189.26H617.63V196.72H600.91ZM855.42 189.26H880.35V196.72H855.42ZM592.7 196.42H601.21V203.88H592.7ZM880.05 196.42H896.77V203.88H880.05ZM584.49 203.58H601.21V211.04H584.49ZM888.26 203.58H913.19V211.04H888.26ZM584.49 210.74H593V218.2H584.49ZM904.68 210.74H921.4V218.2H904.68ZM576.28 217.9H584.79V225.36H576.28ZM912.89 217.9H929.61V225.36H912.89ZM568.07 225.06H576.58V232.53H568.07ZM912.89 225.06H937.82V232.53H912.89ZM568.07 232.22H576.58V239.69H568.07ZM921.1 232.22H937.82V239.69H921.1ZM559.86 239.39H568.37V246.85H559.86ZM921.1 239.39H946.03V246.85H921.1ZM559.86 246.55H568.37V254.01H559.86ZM921.1 246.55H946.03V254.01H921.1ZM551.65 253.71H560.16V261.17H551.65ZM921.1 253.71H937.82V261.17H921.1ZM543.44 260.87H551.95V268.33H543.44ZM912.89 260.87H937.82V268.33H912.89ZM535.23 268.03H543.74V275.49H535.23ZM912.89 268.03H929.61V275.49H912.89ZM527.02 275.19H535.53V282.65H527.02ZM904.68 275.19H929.61V282.65H904.68ZM510.6 282.35H519.11V289.81H510.6ZM888.26 282.35H921.4V289.81H888.26ZM494.18 289.51H502.69V296.97H494.18ZM871.84 289.51H913.19V296.97H871.84ZM477.76 296.67H494.48V304.13H477.76ZM855.42 296.67H880.35V304.13H855.42ZM461.34 303.83H478.06V311.29H461.34ZM847.21 303.83H863.93V311.29H847.21ZM436.7 310.99H453.43V318.45H436.7ZM839 310.99H855.72V318.45H839ZM428.49 318.15H437V325.61H428.49ZM830.79 318.15H847.51V325.61H830.79ZM412.07 325.31H420.58V332.77H412.07ZM806.16 325.31H839.3V332.77H806.16ZM395.65 332.47H404.16V339.93H395.65ZM789.74 332.47H806.46V339.93H789.74ZM387.44 339.63H395.95V347.09H387.44ZM773.32 339.63H790.04V347.09H773.32ZM371.02 346.79H379.53V354.25H371.02ZM765.11 346.79H781.83V354.25H765.11ZM362.81 353.95H371.32V361.41H362.81ZM756.9 353.95H765.41V361.41H756.9ZM354.6 361.11H363.11V368.57H354.6ZM740.48 361.11H757.2V368.57H740.48ZM724.06 368.27H740.78V375.73H724.06ZM329.97 375.43H338.48V382.89H329.97ZM715.85 375.43H724.36V382.89H715.85ZM321.76 382.59H330.27V390.05H321.76ZM707.64 382.59H716.15V390.05H707.64ZM313.55 389.75H322.06V397.21H313.55ZM699.43 389.75H707.94V397.21H699.43ZM691.22 396.91H699.73V404.37H691.22ZM683.01 404.07H691.52V411.53H683.01ZM297.13 411.23H305.64V418.69H297.13ZM674.8 411.23H683.31V418.69H674.8ZM666.59 418.39H675.1V425.85H666.59ZM666.59 425.55H675.1V433.01H666.59ZM288.92 432.71H297.43V440.17H288.92ZM658.38 432.71H666.89V440.17H658.38ZM288.92 439.87H297.43V447.33H288.92ZM650.17 439.87H658.68V447.33H650.17ZM650.17 447.03H658.68V454.49H650.17ZM650.17 454.19H658.68V461.65H650.17ZM970.36 454.19H1019.93V461.65H970.36ZM641.96 461.35H650.47V468.81H641.96ZM953.94 461.35H1019.93V468.81H953.94ZM641.96 468.51H650.47V475.97H641.96ZM945.73 468.51H970.66V475.97H945.73ZM978.57 468.51H1036.35V475.97H978.57ZM288.92 475.67H297.43V483.13H288.92ZM929.31 475.67H946.03V483.13H929.31ZM995 475.67H1044.56V483.13H995ZM288.92 482.83H297.43V490.29H288.92ZM633.75 482.83H642.26V490.29H633.75ZM896.47 482.83H929.61V490.29H896.47ZM1003.21 482.83H1052.77V490.29H1003.21ZM625.54 489.99H634.05V497.45H625.54ZM880.05 489.99H896.77V497.45H880.05ZM1027.84 489.99H1052.77V497.45H1027.84ZM297.13 497.15H305.64V504.61H297.13ZM871.84 497.15H888.56V504.61H871.84ZM1044.26 497.15H1060.98V504.61H1044.26ZM617.33 504.31H625.84V511.77H617.33ZM863.63 504.31H872.14V511.77H863.63ZM1044.26 504.31H1060.98V511.77H1044.26ZM305.34 511.47H313.85V518.93H305.34ZM855.42 511.47H863.93V518.93H855.42ZM1052.47 511.47H1060.98V518.93H1052.47ZM313.55 518.63H322.06V526.09H313.55ZM592.7 518.63H601.21V526.09H592.7ZM847.21 518.63H855.72V526.09H847.21ZM1052.47 518.63H1069.19V526.09H1052.47ZM321.76 525.79H330.27V533.25H321.76ZM584.49 525.79H593V533.25H584.49ZM839 525.79H847.51V533.25H839ZM1060.68 525.79H1069.19V533.25H1060.68ZM329.97 532.95H338.48V540.41H329.97ZM559.86 532.95H576.58V540.41H559.86ZM822.58 532.95H839.3V540.41H822.58ZM1060.68 532.95H1069.19V540.41H1060.68ZM338.18 540.11H346.69V547.57H338.18ZM543.44 540.11H551.95V547.57H543.44ZM806.16 540.11H822.88V547.57H806.16ZM1060.68 540.11H1069.19V547.57H1060.68ZM346.39 547.27H354.9V554.73H346.39ZM510.6 547.27H527.32V554.73H510.6ZM797.95 547.27H814.67V554.73H797.95ZM1060.68 547.27H1069.19V554.73H1060.68ZM362.81 554.43H453.43V561.89H362.81ZM797.95 554.43H806.46V561.89H797.95ZM1060.68 554.43H1069.19V561.89H1060.68ZM789.74 561.59H798.25V569.05H789.74ZM1060.68 561.59H1069.19V569.05H1060.68ZM1068.89 575.91H1077.4V583.37H1068.89ZM1068.89 583.07H1077.4V590.53H1068.89ZM1192.04 583.07H1208.76V590.53H1192.04ZM1068.89 590.23H1077.4V597.69H1068.89ZM1183.83 590.23H1192.34V597.69H1183.83ZM756.9 597.39H765.41V604.85H756.9ZM1068.89 597.39H1077.4V604.85H1068.89ZM1167.41 597.39H1175.92V604.85H1167.41ZM748.69 604.55H757.2V612.01H748.69ZM1068.89 604.55H1077.4V612.01H1068.89ZM740.48 611.71H748.99V619.17H740.48ZM1060.68 611.71H1069.19V619.17H1060.68ZM1159.2 611.71H1167.71V619.17H1159.2ZM740.48 618.87H748.99V626.33H740.48ZM1060.68 618.87H1069.19V626.33H1060.68ZM1150.99 618.87H1159.5V626.33H1150.99ZM740.48 626.03H748.99V633.49H740.48ZM1060.68 626.03H1069.19V633.49H1060.68ZM1150.99 626.03H1159.5V633.49H1150.99ZM321.76 633.19H346.69V640.65H321.76ZM1060.68 633.19H1069.19V640.65H1060.68ZM305.34 640.35H322.06V647.81H305.34ZM354.6 640.35H371.32V647.81H354.6ZM1052.47 640.35H1069.19V647.81H1052.47ZM305.34 647.51H313.85V654.97H305.34ZM371.02 647.51H379.53V654.97H371.02ZM1052.47 647.51H1060.98V654.97H1052.47ZM1142.78 647.51H1151.29V654.97H1142.78ZM297.13 654.67H305.64V662.13H297.13ZM379.23 654.67H387.74V662.13H379.23ZM740.48 654.67H748.99V662.13H740.48ZM1044.26 654.67H1052.77V662.13H1044.26ZM297.13 661.83H305.64V669.29H297.13ZM387.44 661.83H395.95V669.29H387.44ZM740.48 661.83H748.99V669.29H740.48ZM1036.05 661.83H1044.56V669.29H1036.05ZM297.13 668.99H305.64V676.45H297.13ZM395.65 668.99H404.16V676.45H395.65ZM1027.84 668.99H1036.35V676.45H1027.84ZM1150.99 668.99H1159.5V676.45H1150.99ZM748.69 676.15H757.2V683.61H748.69ZM1027.84 676.15H1036.35V683.61H1027.84ZM1150.99 676.15H1159.5V683.61H1150.99ZM288.92 683.31H297.43V690.77H288.92ZM403.86 683.31H412.37V690.77H403.86ZM765.11 683.31H773.62V690.77H765.11ZM1011.42 683.31H1028.14V690.77H1011.42ZM1150.99 683.31H1159.5V690.77H1150.99ZM288.92 690.48H297.43V697.94H288.92ZM773.32 690.48H790.04V697.94H773.32ZM995 690.48H1011.72V697.94H995ZM1150.99 690.48H1159.5V697.94H1150.99ZM412.07 697.64H420.58V705.1H412.07ZM797.95 697.64H814.67V705.1H797.95ZM978.57 697.64H987.09V705.1H978.57ZM1150.99 697.64H1159.5V705.1H1150.99ZM412.07 704.8H420.58V712.26H412.07ZM839 704.8H913.19V712.26H839ZM921.1 704.8H954.24V712.26H921.1ZM297.13 711.96H305.64V719.42H297.13ZM412.07 711.96H420.58V719.42H412.07ZM412.07 719.12H420.58V726.58H412.07ZM305.34 726.28H313.85V733.74H305.34ZM313.55 733.44H322.06V740.9H313.55ZM403.86 733.44H412.37V740.9H403.86ZM321.76 740.6H330.27V748.06H321.76ZM395.65 740.6H404.16V748.06H395.65ZM338.18 747.76H354.9V755.22H338.18ZM379.23 747.76H395.95V755.22H379.23ZM945.73 840.84H962.45V848.3H945.73ZM847.21 855.16H855.72V862.62H847.21ZM773.32 862.32H781.83V869.78H773.32ZM699.43 869.48H707.94V876.94H699.43ZM674.8 876.64H683.31V884.1H674.8ZM650.17 883.8H658.68V891.26H650.17ZM617.33 890.96H625.84V898.42H617.33Z"/>
<path fill="#92d9c8" d="M617.33 174.94H642.26V182.4H617.33ZM765.11 174.94H839.3V182.4H765.11ZM600.91 182.1H617.63V189.56H600.91ZM847.21 182.1H880.35V189.56H847.21ZM592.7 189.26H601.21V196.72H592.7ZM880.05 189.26H913.19V196.72H880.05ZM584.49 196.42H593V203.88H584.49ZM896.47 196.42H929.61V203.88H896.47ZM576.28 203.58H584.79V211.04H576.28ZM912.89 203.58H937.82V211.04H912.89ZM576.28 210.74H584.79V218.2H576.28ZM921.1 210.74H946.03V218.2H921.1ZM568.07 217.9H576.58V225.36H568.07ZM929.31 217.9H946.03V225.36H929.31ZM937.52 225.06H946.03V232.53H937.52ZM559.86 232.22H568.37V239.69H559.86ZM937.52 232.22H954.24V239.69H937.52ZM551.65 239.39H560.16V246.85H551.65ZM945.73 239.39H954.24V246.85H945.73ZM551.65 246.55H560.16V254.01H551.65ZM945.73 246.55H954.24V254.01H945.73ZM543.44 253.71H551.95V261.17H543.44ZM937.52 253.71H954.24V261.17H937.52ZM535.23 260.87H543.74V268.33H535.23ZM937.52 260.87H954.24V268.33H937.52ZM527.02 268.03H535.53V275.49H527.02ZM929.31 268.03H954.24V275.49H929.31ZM518.81 275.19H527.32V282.65H518.81ZM929.31 275.19H946.03V282.65H929.31ZM502.39 282.35H510.9V289.81H502.39ZM921.1 282.35H937.82V289.81H921.1ZM485.97 289.51H494.48V296.97H485.97ZM912.89 289.51H937.82V296.97H912.89ZM461.34 296.67H478.06V304.13H461.34ZM880.05 296.67H929.61V304.13H880.05ZM444.91 303.83H461.64V311.29H444.91ZM863.63 303.83H921.4V311.29H863.63ZM428.49 310.99H437V318.45H428.49ZM855.42 310.99H863.93V318.45H855.42ZM888.26 310.99H896.77V318.45H888.26ZM420.28 318.15H428.79V325.61H420.28ZM847.21 318.15H855.72V325.61H847.21ZM403.86 325.31H412.37V332.77H403.86ZM839 325.31H855.72V332.77H839ZM806.16 332.47H847.51V339.93H806.16ZM379.23 339.63H387.74V347.09H379.23ZM789.74 339.63H806.46V347.09H789.74ZM781.53 346.79H798.25V354.25H781.53ZM354.6 353.95H363.11V361.41H354.6ZM765.11 353.95H781.83V361.41H765.11ZM346.39 361.11H354.9V368.57H346.39ZM756.9 361.11H773.62V368.57H756.9ZM338.18 368.27H346.69V375.73H338.18ZM740.48 368.27H757.2V375.73H740.48ZM724.06 375.43H740.78V382.89H724.06ZM715.85 382.59H724.36V390.05H715.85ZM707.64 389.75H716.15V397.21H707.64ZM305.34 396.91H313.85V404.37H305.34ZM699.43 396.91H707.94V404.37H699.43ZM691.22 404.07H699.73V411.53H691.22ZM683.01 411.23H691.52V418.69H683.01ZM288.92 418.39H297.43V425.85H288.92ZM674.8 418.39H683.31V425.85H674.8ZM288.92 425.55H297.43V433.01H288.92ZM666.59 432.71H675.1V440.17H666.59ZM986.79 432.71H1019.93V440.17H986.79ZM658.38 439.87H666.89V447.33H658.38ZM970.36 439.87H1036.35V447.33H970.36ZM280.71 447.03H289.22V454.49H280.71ZM658.38 447.03H666.89V454.49H658.38ZM962.15 447.03H1044.56V454.49H962.15ZM280.71 454.19H289.22V461.65H280.71ZM945.73 454.19H970.66V461.65H945.73ZM1019.63 454.19H1052.77V461.65H1019.63ZM280.71 461.35H289.22V468.81H280.71ZM650.17 461.35H658.68V468.81H650.17ZM937.52 461.35H954.24V468.81H937.52ZM1019.63 461.35H1060.98V468.81H1019.63ZM280.71 468.51H289.22V475.97H280.71ZM650.17 468.51H658.68V475.97H650.17ZM921.1 468.51H946.03V475.97H921.1ZM1036.05 468.51H1060.98V475.97H1036.05ZM641.96 475.67H650.47V483.13H641.96ZM896.47 475.67H929.61V483.13H896.47ZM1044.26 475.67H1060.98V483.13H1044.26ZM641.96 482.83H650.47V490.29H641.96ZM880.05 482.83H896.77V490.29H880.05ZM1052.47 482.83H1069.19V490.29H1052.47ZM288.92 489.99H297.43V497.45H288.92ZM633.75 489.99H642.26V497.45H633.75ZM871.84 489.99H880.35V497.45H871.84ZM1052.47 489.99H1069.19V497.45H1052.47ZM625.54 497.15H634.05V504.61H625.54ZM863.63 497.15H872.14V504.61H863.63ZM1060.68 497.15H1069.19V504.61H1060.68ZM297.13 504.31H305.64V511.77H297.13ZM855.42 504.31H863.93V511.77H855.42ZM1060.68 504.31H1069.19V511.77H1060.68ZM609.12 511.47H617.63V518.93H609.12ZM847.21 511.47H855.72V518.93H847.21ZM1060.68 511.47H1077.4V518.93H1060.68ZM305.34 518.63H313.85V526.09H305.34ZM600.91 518.63H609.42V526.09H600.91ZM839 518.63H847.51V526.09H839ZM1068.89 518.63H1077.4V526.09H1068.89ZM313.55 525.79H322.06V533.25H313.55ZM592.7 525.79H601.21V533.25H592.7ZM822.58 525.79H839.3V533.25H822.58ZM1068.89 525.79H1077.4V533.25H1068.89ZM321.76 532.95H330.27V540.41H321.76ZM576.28 532.95H584.79V540.41H576.28ZM806.16 532.95H822.88V540.41H806.16ZM1068.89 532.95H1077.4V540.41H1068.89ZM329.97 540.11H338.48V547.57H329.97ZM551.65 540.11H568.37V547.57H551.65ZM797.95 540.11H806.46V547.57H797.95ZM1068.89 540.11H1077.4V547.57H1068.89ZM338.18 547.27H346.69V554.73H338.18ZM527.02 547.27H543.74V554.73H527.02ZM1068.89 547.27H1077.4V554.73H1068.89ZM346.39 554.43H363.11V561.89H346.39ZM453.12 554.43H510.9V561.89H453.12ZM789.74 554.43H798.25V561.89H789.74ZM1068.89 554.43H1077.4V561.89H1068.89ZM371.02 561.59H428.79V569.05H371.02ZM1068.89 561.59H1077.4V569.05H1068.89ZM781.53 568.75H790.04V576.21H781.53ZM1068.89 568.75H1077.4V576.21H1068.89ZM773.32 575.91H781.83V583.37H773.32ZM1200.25 575.91H1216.97V583.37H1200.25ZM765.11 583.07H773.62V590.53H765.11ZM1077.1 583.07H1085.61V590.53H1077.1ZM1183.83 583.07H1192.34V590.53H1183.83ZM756.9 590.23H765.41V597.69H756.9ZM1077.1 590.23H1085.61V597.69H1077.1ZM1175.62 590.23H1184.13V597.69H1175.62ZM748.69 597.39H757.2V604.85H748.69ZM1077.1 597.39H1085.61V604.85H1077.1ZM740.48 604.55H748.99V612.01H740.48ZM1077.1 604.55H1085.61V612.01H1077.1ZM1159.2 604.55H1167.71V612.01H1159.2ZM732.27 611.71H740.78V619.17H732.27ZM1068.89 611.71H1085.61V619.17H1068.89ZM1150.99 611.71H1159.5V619.17H1150.99ZM732.27 618.87H740.78V626.33H732.27ZM1068.89 618.87H1085.61V626.33H1068.89ZM321.76 626.03H346.69V633.49H321.76ZM732.27 626.03H740.78V633.49H732.27ZM1068.89 626.03H1085.61V633.49H1068.89ZM1142.78 626.03H1151.29V633.49H1142.78ZM305.34 633.19H322.06V640.65H305.34ZM346.39 633.19H363.11V640.65H346.39ZM732.27 633.19H740.78V640.65H732.27ZM1068.89 633.19H1085.61V640.65H1068.89ZM1142.78 633.19H1151.29V640.65H1142.78ZM297.13 640.35H305.64V647.81H297.13ZM371.02 640.35H379.53V647.81H371.02ZM732.27 640.35H740.78V647.81H732.27ZM1068.89 640.35H1085.61V647.81H1068.89ZM1142.78 640.35H1151.29V647.81H1142.78ZM297.13 647.51H305.64V654.97H297.13ZM379.23 647.51H387.74V654.97H379.23ZM732.27 647.51H740.78V654.97H732.27ZM1060.68 647.51H1085.61V654.97H1060.68ZM1134.57 647.51H1143.08V654.97H1134.57ZM387.44 654.67H395.95V662.13H387.44ZM732.27 654.67H740.78V662.13H732.27ZM1052.47 654.67H1069.19V662.13H1052.47ZM1134.57 654.67H1151.29V662.13H1134.57ZM288.92 661.83H297.43V669.29H288.92ZM395.65 661.83H404.16V669.29H395.65ZM732.27 661.83H740.78V669.29H732.27ZM1044.26 661.83H1060.98V669.29H1044.26ZM1142.78 661.83H1151.29V669.29H1142.78ZM288.92 668.99H297.43V676.45H288.92ZM403.86 668.99H412.37V676.45H403.86ZM740.48 668.99H748.99V676.45H740.48ZM1036.05 668.99H1044.56V676.45H1036.05ZM1142.78 668.99H1151.29V676.45H1142.78ZM288.92 676.15H297.43V683.61H288.92ZM403.86 676.15H412.37V683.61H403.86ZM740.48 676.15H748.99V683.61H740.48ZM1036.05 676.15H1044.56V683.61H1036.05ZM1142.78 676.15H1151.29V683.61H1142.78ZM412.07 683.31H420.58V690.77H412.07ZM748.69 683.31H765.41V690.77H748.69ZM1027.84 683.31H1036.35V690.77H1027.84ZM1142.78 683.31H1151.29V690.77H1142.78ZM412.07 690.48H420.58V697.94H412.07ZM765.11 690.48H773.62V697.94H765.11ZM1011.42 690.48H1019.93V697.94H1011.42ZM1142.78 690.48H1151.29V697.94H1142.78ZM288.92 697.64H297.43V705.1H288.92ZM781.53 697.64H798.25V705.1H781.53ZM986.79 697.64H1003.51V705.1H986.79ZM288.92 704.8H297.43V712.26H288.92ZM420.28 704.8H428.79V712.26H420.28ZM822.58 704.8H839.3V712.26H822.58ZM953.94 704.8H978.87V712.26H953.94ZM420.28 711.96H428.79V719.42H420.28ZM297.13 719.12H305.64V726.58H297.13ZM420.28 719.12H428.79V726.58H420.28ZM412.07 726.28H420.58V733.74H412.07ZM305.34 733.44H313.85V740.9H305.34ZM412.07 733.44H420.58V740.9H412.07ZM313.55 740.6H322.06V748.06H313.55ZM403.86 740.6H412.37V748.06H403.86ZM329.97 747.76H338.48V755.22H329.97ZM395.65 747.76H404.16V755.22H395.65ZM346.39 754.92H387.74V762.38H346.39ZM929.31 840.84H946.03V848.3H929.31ZM871.84 848H880.35V855.46H871.84ZM839 855.16H847.51V862.62H839ZM765.11 862.32H773.62V869.78H765.11ZM691.22 869.48H699.73V876.94H691.22ZM641.96 883.8H650.47V891.26H641.96Z"/>
<path fill="#91d7bc" d="M625.54 167.78H748.99V175.24H625.54ZM609.12 174.94H617.63V182.4H609.12ZM839 174.94H880.35V182.4H839ZM592.7 182.1H601.21V189.56H592.7ZM880.05 182.1H921.4V189.56H880.05ZM584.49 189.26H593V196.72H584.49ZM912.89 189.26H937.82V196.72H912.89ZM576.28 196.42H584.79V203.88H576.28ZM929.31 196.42H946.03V203.88H929.31ZM568.07 203.58H576.58V211.04H568.07ZM937.52 203.58H946.03V211.04H937.52ZM568.07 210.74H576.58V218.2H568.07ZM945.73 210.74H954.24V218.2H945.73ZM559.86 217.9H568.37V225.36H559.86ZM945.73 217.9H954.24V225.36H945.73ZM559.86 225.06H568.37V232.53H559.86ZM945.73 225.06H962.45V232.53H945.73ZM551.65 232.22H560.16V239.69H551.65ZM953.94 232.22H962.45V239.69H953.94ZM953.94 239.39H970.66V246.85H953.94ZM543.44 246.55H551.95V254.01H543.44ZM953.94 246.55H970.66V254.01H953.94ZM535.23 253.71H543.74V261.17H535.23ZM953.94 253.71H970.66V261.17H953.94ZM953.94 260.87H962.45V268.33H953.94ZM518.81 268.03H527.32V275.49H518.81ZM953.94 268.03H962.45V275.49H953.94ZM510.6 275.19H519.11V282.65H510.6ZM945.73 275.19H962.45V282.65H945.73ZM494.18 282.35H502.69V289.81H494.18ZM937.52 282.35H954.24V289.81H937.52ZM469.55 289.51H486.27V296.97H469.55ZM937.52 289.51H954.24V296.97H937.52ZM444.91 296.67H461.64V304.13H444.91ZM929.31 296.67H946.03V304.13H929.31ZM436.7 303.83H445.21V311.29H436.7ZM921.1 303.83H937.82V311.29H921.1ZM863.63 310.99H888.56V318.45H863.63ZM896.47 310.99H929.61V318.45H896.47ZM412.07 318.15H420.58V325.61H412.07ZM855.42 318.15H921.4V325.61H855.42ZM395.65 325.31H404.16V332.77H395.65ZM855.42 325.31H863.93V332.77H855.42ZM880.05 325.31H904.98V332.77H880.05ZM387.44 332.47H395.95V339.93H387.44ZM847.21 332.47H863.93V339.93H847.21ZM371.02 339.63H379.53V347.09H371.02ZM806.16 339.63H863.93V347.09H806.16ZM362.81 346.79H371.32V354.25H362.81ZM797.95 346.79H806.46V354.25H797.95ZM830.79 346.79H855.72V354.25H830.79ZM781.53 353.95H798.25V361.41H781.53ZM773.32 361.11H790.04V368.57H773.32ZM329.97 368.27H338.48V375.73H329.97ZM756.9 368.27H773.62V375.73H756.9ZM321.76 375.43H330.27V382.89H321.76ZM740.48 375.43H757.2V382.89H740.48ZM313.55 382.59H322.06V390.05H313.55ZM724.06 382.59H740.78V390.05H724.06ZM305.34 389.75H313.85V397.21H305.34ZM715.85 389.75H724.36V397.21H715.85ZM707.64 396.91H716.15V404.37H707.64ZM297.13 404.07H305.64V411.53H297.13ZM699.43 404.07H707.94V411.53H699.43ZM288.92 411.23H297.43V418.69H288.92ZM691.22 411.23H699.73V418.69H691.22ZM683.01 418.39H691.52V425.85H683.01ZM674.8 425.55H683.31V433.01H674.8ZM970.36 425.55H1028.14V433.01H970.36ZM280.71 432.71H289.22V440.17H280.71ZM674.8 432.71H683.31V440.17H674.8ZM962.15 432.71H987.09V440.17H962.15ZM1019.63 432.71H1044.56V440.17H1019.63ZM280.71 439.87H289.22V447.33H280.71ZM666.59 439.87H675.1V447.33H666.59ZM945.73 439.87H970.66V447.33H945.73ZM1036.05 439.87H1052.77V447.33H1036.05ZM666.59 447.03H675.1V454.49H666.59ZM937.52 447.03H962.45V454.49H937.52ZM1044.26 447.03H1060.98V454.49H1044.26ZM658.38 454.19H666.89V461.65H658.38ZM921.1 454.19H946.03V461.65H921.1ZM1052.47 454.19H1069.19V461.65H1052.47ZM658.38 461.35H666.89V468.81H658.38ZM912.89 461.35H937.82V468.81H912.89ZM1060.68 461.35H1069.19V468.81H1060.68ZM658.38 468.51H666.89V475.97H658.38ZM896.47 468.51H921.4V475.97H896.47ZM1060.68 468.51H1077.4V475.97H1060.68ZM280.71 475.67H289.22V483.13H280.71ZM650.17 475.67H658.68V483.13H650.17ZM880.05 475.67H896.77V483.13H880.05ZM1060.68 475.67H1077.4V483.13H1060.68ZM280.71 482.83H289.22V490.29H280.71ZM863.63 482.83H880.35V490.29H863.63ZM1068.89 482.83H1077.4V490.29H1068.89ZM641.96 489.99H650.47V497.45H641.96ZM855.42 489.99H872.14V497.45H855.42ZM1068.89 489.99H1077.4V497.45H1068.89ZM288.92 497.15H297.43V504.61H288.92ZM633.75 497.15H642.26V504.61H633.75ZM847.21 497.15H863.93V504.61H847.21ZM1068.89 497.15H1077.4V504.61H1068.89ZM288.92 504.31H297.43V511.77H288.92ZM625.54 504.31H634.05V511.77H625.54ZM839 504.31H855.72V511.77H839ZM1068.89 504.31H1077.4V511.77H1068.89ZM297.13 511.47H305.64V518.93H297.13ZM617.33 511.47H625.84V518.93H617.33ZM830.79 511.47H847.51V518.93H830.79ZM1077.1 511.47H1085.61V518.93H1077.1ZM297.13 518.63H305.64V526.09H297.13ZM609.12 518.63H617.63V526.09H609.12ZM822.58 518.63H839.3V526.09H822.58ZM1077.1 518.63H1085.61V526.09H1077.1ZM305.34 525.79H313.85V533.25H305.34ZM600.91 525.79H609.42V533.25H600.91ZM806.16 525.79H822.88V533.25H806.16ZM1077.1 525.79H1085.61V533.25H1077.1ZM313.55 532.95H322.06V540.41H313.55ZM584.49 532.95H593V540.41H584.49ZM797.95 532.95H806.46V540.41H797.95ZM1077.1 532.95H1085.61V540.41H1077.1ZM321.76 540.11H330.27V547.57H321.76ZM568.07 540.11H576.58V547.57H568.07ZM789.74 540.11H798.25V547.57H789.74ZM1077.1 540.11H1085.61V547.57H1077.1ZM321.76 547.27H338.48V554.73H321.76ZM543.44 547.27H551.95V554.73H543.44ZM789.74 547.27H798.25V554.73H789.74ZM1077.1 547.27H1085.61V554.73H1077.1ZM338.18 554.43H346.69V561.89H338.18ZM510.6 554.43H527.32V561.89H510.6ZM781.53 554.43H790.04V561.89H781.53ZM1077.1 554.43H1085.61V561.89H1077.1ZM346.39 561.59H371.32V569.05H346.39ZM428.49 561.59H453.43V569.05H428.49ZM781.53 561.59H790.04V569.05H781.53ZM1077.1 561.59H1085.61V569.05H1077.1ZM773.32 568.75H781.83V576.21H773.32ZM1077.1 568.75H1085.61V576.21H1077.1ZM765.11 575.91H773.62V583.37H765.11ZM1077.1 575.91H1085.61V583.37H1077.1ZM1192.04 575.91H1200.55V583.37H1192.04ZM756.9 583.07H765.41V590.53H756.9ZM1175.62 583.07H1184.13V590.53H1175.62ZM748.69 590.23H757.2V597.69H748.69ZM1085.31 590.23H1093.82V597.69H1085.31ZM1167.41 590.23H1175.92V597.69H1167.41ZM740.48 597.39H748.99V604.85H740.48ZM1085.31 597.39H1093.82V604.85H1085.31ZM1159.2 597.39H1167.71V604.85H1159.2ZM732.27 604.55H740.78V612.01H732.27ZM1085.31 604.55H1093.82V612.01H1085.31ZM1150.99 604.55H1159.5V612.01H1150.99ZM724.06 611.71H732.57V619.17H724.06ZM1085.31 611.71H1093.82V619.17H1085.31ZM1142.78 611.71H1151.29V619.17H1142.78ZM321.76 618.87H338.48V626.33H321.76ZM724.06 618.87H732.57V626.33H724.06ZM1085.31 618.87H1093.82V626.33H1085.31ZM1142.78 618.87H1151.29V626.33H1142.78ZM297.13 626.03H322.06V633.49H297.13ZM346.39 626.03H363.11V633.49H346.39ZM724.06 626.03H732.57V633.49H724.06ZM1085.31 626.03H1093.82V633.49H1085.31ZM1134.57 626.03H1143.08V633.49H1134.57ZM288.92 633.19H305.64V640.65H288.92ZM362.81 633.19H371.32V640.65H362.81ZM724.06 633.19H732.57V640.65H724.06ZM1085.31 633.19H1102.03V640.65H1085.31ZM1126.36 633.19H1143.08V640.65H1126.36ZM288.92 640.35H297.43V647.81H288.92ZM379.23 640.35H387.74V647.81H379.23ZM724.06 640.35H732.57V647.81H724.06ZM1085.31 640.35H1102.03V647.81H1085.31ZM1126.36 640.35H1143.08V647.81H1126.36ZM288.92 647.51H297.43V654.97H288.92ZM387.44 647.51H395.95V654.97H387.44ZM724.06 647.51H732.57V654.97H724.06ZM1085.31 647.51H1102.03V654.97H1085.31ZM1118.15 647.51H1134.87V654.97H1118.15ZM288.92 654.67H297.43V662.13H288.92ZM395.65 654.67H404.16V662.13H395.65ZM724.06 654.67H732.57V662.13H724.06ZM1068.89 654.67H1093.82V662.13H1068.89ZM1118.15 654.67H1134.87V662.13H1118.15ZM403.86 661.83H412.37V669.29H403.86ZM1060.68 661.83H1077.4V669.29H1060.68ZM1126.36 661.83H1143.08V669.29H1126.36ZM280.71 668.99H289.22V676.45H280.71ZM732.27 668.99H740.78V676.45H732.27ZM1044.26 668.99H1060.98V676.45H1044.26ZM1134.57 668.99H1143.08V676.45H1134.57ZM280.71 676.15H289.22V683.61H280.71ZM412.07 676.15H420.58V683.61H412.07ZM732.27 676.15H740.78V683.61H732.27ZM1044.26 676.15H1052.77V683.61H1044.26ZM1134.57 676.15H1143.08V683.61H1134.57ZM280.71 683.31H289.22V690.77H280.71ZM740.48 683.31H748.99V690.77H740.48ZM1036.05 683.31H1044.56V690.77H1036.05ZM1134.57 683.31H1143.08V690.77H1134.57ZM280.71 690.48H289.22V697.94H280.71ZM420.28 690.48H428.79V697.94H420.28ZM756.9 690.48H765.41V697.94H756.9ZM1019.63 690.48H1036.35V697.94H1019.63ZM280.71 697.64H289.22V705.1H280.71ZM420.28 697.64H428.79V705.1H420.28ZM773.32 697.64H781.83V705.1H773.32ZM1003.21 697.64H1011.72V705.1H1003.21ZM1142.78 697.64H1151.29V705.1H1142.78ZM797.95 704.8H822.88V712.26H797.95ZM978.57 704.8H987.09V712.26H978.57ZM1142.78 704.8H1151.29V712.26H1142.78ZM288.92 711.96H297.43V719.42H288.92ZM888.26 711.96H946.03V719.42H888.26ZM1142.78 711.96H1151.29V719.42H1142.78ZM297.13 726.28H305.64V733.74H297.13ZM420.28 726.28H428.79V733.74H420.28ZM420.28 733.44H428.79V740.9H420.28ZM412.07 740.6H420.58V748.06H412.07ZM321.76 747.76H330.27V755.22H321.76ZM403.86 747.76H412.37V755.22H403.86ZM329.97 754.92H346.69V762.38H329.97ZM387.44 754.92H395.95V762.38H387.44ZM978.57 833.68H1003.51V841.14H978.57ZM904.68 840.84H929.61V848.3H904.68ZM863.63 848H872.14V855.46H863.63ZM822.58 855.16H839.3V862.62H822.58ZM756.9 862.32H765.41V869.78H756.9ZM666.59 876.64H675.1V884.1H666.59ZM633.75 883.8H642.26V891.26H633.75ZM609.12 890.96H617.63V898.42H609.12Z"/>
<path fill="#8fd6ac" d="M609.12 167.78H625.84V175.24H609.12ZM748.69 167.78H863.93V175.24H748.69ZM592.7 174.94H609.42V182.4H592.7ZM880.05 174.94H929.61V182.4H880.05ZM584.49 182.1H593V189.56H584.49ZM921.1 182.1H937.82V189.56H921.1ZM576.28 189.26H584.79V196.72H576.28ZM937.52 189.26H954.24V196.72H937.52ZM568.07 196.42H576.58V203.88H568.07ZM945.73 196.42H954.24V203.88H945.73ZM559.86 203.58H568.37V211.04H559.86ZM945.73 203.58H962.45V211.04H945.73ZM559.86 210.74H568.37V218.2H559.86ZM953.94 210.74H962.45V218.2H953.94ZM551.65 217.9H560.16V225.36H551.65ZM953.94 217.9H970.66V225.36H953.94ZM551.65 225.06H560.16V232.53H551.65ZM962.15 225.06H970.66V232.53H962.15ZM543.44 232.22H551.95V239.69H543.44ZM962.15 232.22H970.66V239.69H962.15ZM543.44 239.39H551.95V246.85H543.44ZM970.36 239.39H978.87V246.85H970.36ZM535.23 246.55H543.74V254.01H535.23ZM970.36 246.55H978.87V254.01H970.36ZM970.36 253.71H978.87V261.17H970.36ZM527.02 260.87H535.53V268.33H527.02ZM962.15 260.87H978.87V268.33H962.15ZM510.6 268.03H519.11V275.49H510.6ZM962.15 268.03H970.66V275.49H962.15ZM494.18 275.19H510.9V282.65H494.18ZM962.15 275.19H970.66V282.65H962.15ZM477.76 282.35H494.48V289.81H477.76ZM953.94 282.35H970.66V289.81H953.94ZM444.91 289.51H469.85V296.97H444.91ZM953.94 289.51H962.45V296.97H953.94ZM436.7 296.67H445.21V304.13H436.7ZM945.73 296.67H962.45V304.13H945.73ZM428.49 303.83H437V311.29H428.49ZM937.52 303.83H954.24V311.29H937.52ZM420.28 310.99H428.79V318.45H420.28ZM929.31 310.99H946.03V318.45H929.31ZM403.86 318.15H412.37V325.61H403.86ZM921.1 318.15H937.82V325.61H921.1ZM863.63 325.31H880.35V332.77H863.63ZM904.68 325.31H929.61V332.77H904.68ZM379.23 332.47H387.74V339.93H379.23ZM863.63 332.47H913.19V339.93H863.63ZM863.63 339.63H880.35V347.09H863.63ZM354.6 346.79H363.11V354.25H354.6ZM806.16 346.79H831.09V354.25H806.16ZM855.42 346.79H872.14V354.25H855.42ZM346.39 353.95H354.9V361.41H346.39ZM797.95 353.95H863.93V361.41H797.95ZM338.18 361.11H346.69V368.57H338.18ZM789.74 361.11H806.46V368.57H789.74ZM773.32 368.27H790.04V375.73H773.32ZM756.9 375.43H773.62V382.89H756.9ZM740.48 382.59H748.99V390.05H740.48ZM724.06 389.75H732.57V397.21H724.06ZM297.13 396.91H305.64V404.37H297.13ZM715.85 396.91H724.36V404.37H715.85ZM288.92 404.07H297.43V411.53H288.92ZM707.64 404.07H716.15V411.53H707.64ZM699.43 411.23H707.94V418.69H699.43ZM986.79 411.23H1019.93V418.69H986.79ZM280.71 418.39H289.22V425.85H280.71ZM691.22 418.39H699.73V425.85H691.22ZM962.15 418.39H1044.56V425.85H962.15ZM280.71 425.55H289.22V433.01H280.71ZM683.01 425.55H691.52V433.01H683.01ZM953.94 425.55H970.66V433.01H953.94ZM1027.84 425.55H1052.77V433.01H1027.84ZM683.01 432.71H691.52V440.17H683.01ZM937.52 432.71H962.45V440.17H937.52ZM1044.26 432.71H1060.98V440.17H1044.26ZM674.8 439.87H683.31V447.33H674.8ZM929.31 439.87H946.03V447.33H929.31ZM1052.47 439.87H1069.19V447.33H1052.47ZM272.5 447.03H281.01V454.49H272.5ZM674.8 447.03H683.31V454.49H674.8ZM921.1 447.03H937.82V454.49H921.1ZM1060.68 447.03H1077.4V454.49H1060.68ZM272.5 454.19H281.01V461.65H272.5ZM666.59 454.19H675.1V461.65H666.59ZM912.89 454.19H921.4V461.65H912.89ZM1068.89 454.19H1077.4V461.65H1068.89ZM272.5 461.35H281.01V468.81H272.5ZM666.59 461.35H675.1V468.81H666.59ZM896.47 461.35H913.19V468.81H896.47ZM1068.89 461.35H1085.61V468.81H1068.89ZM272.5 468.51H281.01V475.97H272.5ZM880.05 468.51H896.77V475.97H880.05ZM1077.1 468.51H1085.61V475.97H1077.1ZM658.38 475.67H666.89V483.13H658.38ZM863.63 475.67H880.35V483.13H863.63ZM1077.1 475.67H1085.61V483.13H1077.1ZM650.17 482.83H658.68V490.29H650.17ZM855.42 482.83H863.93V490.29H855.42ZM1077.1 482.83H1085.61V490.29H1077.1ZM280.71 489.99H289.22V497.45H280.71ZM650.17 489.99H658.68V497.45H650.17ZM847.21 489.99H855.72V497.45H847.21ZM1077.1 489.99H1085.61V497.45H1077.1ZM280.71 497.15H289.22V504.61H280.71ZM641.96 497.15H650.47V504.61H641.96ZM839 497.15H847.51V504.61H839ZM1077.1 497.15H1085.61V504.61H1077.1ZM633.75 504.31H642.26V511.77H633.75ZM830.79 504.31H839.3V511.77H830.79ZM1077.1 504.31H1085.61V511.77H1077.1ZM288.92 511.47H297.43V518.93H288.92ZM625.54 511.47H634.05V518.93H625.54ZM822.58 511.47H831.09V518.93H822.58ZM1085.31 511.47H1093.82V518.93H1085.31ZM617.33 518.63H625.84V526.09H617.33ZM814.37 518.63H822.88V526.09H814.37ZM1085.31 518.63H1093.82V526.09H1085.31ZM297.13 525.79H305.64V533.25H297.13ZM609.12 525.79H617.63V533.25H609.12ZM797.95 525.79H806.46V533.25H797.95ZM1085.31 525.79H1093.82V533.25H1085.31ZM305.34 532.95H313.85V540.41H305.34ZM592.7 532.95H601.21V540.41H592.7ZM789.74 532.95H798.25V540.41H789.74ZM1085.31 532.95H1093.82V540.41H1085.31ZM305.34 540.11H322.06V547.57H305.34ZM576.28 540.11H593V547.57H576.28ZM313.55 547.27H322.06V554.73H313.55ZM551.65 547.27H568.37V554.73H551.65ZM781.53 547.27H790.04V554.73H781.53ZM321.76 554.43H338.48V561.89H321.76ZM527.02 554.43H543.74V561.89H527.02ZM329.97 561.59H346.69V569.05H329.97ZM453.12 561.59H510.9V569.05H453.12ZM773.32 561.59H781.83V569.05H773.32ZM346.39 568.75H428.79V576.21H346.39ZM765.11 568.75H773.62V576.21H765.11ZM1085.31 568.75H1093.82V576.21H1085.31ZM1200.25 568.75H1216.97V576.21H1200.25ZM756.9 575.91H765.41V583.37H756.9ZM1085.31 575.91H1093.82V583.37H1085.31ZM1183.83 575.91H1192.34V583.37H1183.83ZM748.69 583.07H757.2V590.53H748.69ZM1085.31 583.07H1093.82V590.53H1085.31ZM1167.41 583.07H1175.92V590.53H1167.41ZM740.48 590.23H748.99V597.69H740.48ZM1093.52 590.23H1102.03V597.69H1093.52ZM1159.2 590.23H1167.71V597.69H1159.2ZM732.27 597.39H740.78V604.85H732.27ZM1093.52 597.39H1102.03V604.85H1093.52ZM1142.78 597.39H1159.5V604.85H1142.78ZM724.06 604.55H732.57V612.01H724.06ZM1093.52 604.55H1102.03V612.01H1093.52ZM1134.57 604.55H1151.29V612.01H1134.57ZM1093.52 611.71H1110.24V619.17H1093.52ZM1134.57 611.71H1143.08V619.17H1134.57ZM297.13 618.87H322.06V626.33H297.13ZM338.18 618.87H363.11V626.33H338.18ZM715.85 618.87H724.36V626.33H715.85ZM1093.52 618.87H1110.24V626.33H1093.52ZM1126.36 618.87H1143.08V626.33H1126.36ZM288.92 626.03H297.43V633.49H288.92ZM362.81 626.03H371.32V633.49H362.81ZM715.85 626.03H724.36V633.49H715.85ZM1093.52 626.03H1134.87V633.49H1093.52ZM280.71 633.19H289.22V640.65H280.71ZM371.02 633.19H379.53V640.65H371.02ZM715.85 633.19H724.36V640.65H715.85ZM1101.73 633.19H1126.66V640.65H1101.73ZM280.71 640.35H289.22V647.81H280.71ZM387.44 640.35H395.95V647.81H387.44ZM715.85 640.35H724.36V647.81H715.85ZM1101.73 640.35H1126.66V647.81H1101.73ZM280.71 647.51H289.22V654.97H280.71ZM1101.73 647.51H1118.45V654.97H1101.73ZM280.71 654.67H289.22V662.13H280.71ZM1093.52 654.67H1118.45V662.13H1093.52ZM280.71 661.83H289.22V669.29H280.71ZM724.06 661.83H732.57V669.29H724.06ZM1077.1 661.83H1126.66V669.29H1077.1ZM412.07 668.99H420.58V676.45H412.07ZM724.06 668.99H732.57V676.45H724.06ZM1060.68 668.99H1085.61V676.45H1060.68ZM1109.94 668.99H1134.87V676.45H1109.94ZM420.28 676.15H428.79V683.61H420.28ZM1052.47 676.15H1060.98V683.61H1052.47ZM1126.36 676.15H1134.87V683.61H1126.36ZM420.28 683.31H428.79V690.77H420.28ZM732.27 683.31H740.78V690.77H732.27ZM1044.26 683.31H1052.77V690.77H1044.26ZM1126.36 683.31H1134.87V690.77H1126.36ZM428.49 690.48H437V697.94H428.49ZM748.69 690.48H757.2V697.94H748.69ZM1036.05 690.48H1044.56V697.94H1036.05ZM1134.57 690.48H1143.08V697.94H1134.57ZM428.49 697.64H437V705.1H428.49ZM765.11 697.64H773.62V705.1H765.11ZM1011.42 697.64H1028.14V705.1H1011.42ZM1134.57 697.64H1143.08V705.1H1134.57ZM280.71 704.8H289.22V712.26H280.71ZM428.49 704.8H437V712.26H428.49ZM781.53 704.8H798.25V712.26H781.53ZM986.79 704.8H1003.51V712.26H986.79ZM1134.57 704.8H1143.08V712.26H1134.57ZM428.49 711.96H437V719.42H428.49ZM839 711.96H888.56V719.42H839ZM945.73 711.96H970.66V719.42H945.73ZM1134.57 711.96H1143.08V719.42H1134.57ZM288.92 719.12H297.43V726.58H288.92ZM428.49 719.12H437V726.58H428.49ZM1134.57 719.12H1143.08V726.58H1134.57ZM428.49 726.28H437V733.74H428.49ZM297.13 733.44H305.64V740.9H297.13ZM305.34 740.6H313.85V748.06H305.34ZM420.28 740.6H428.79V748.06H420.28ZM313.55 747.76H322.06V755.22H313.55ZM412.07 747.76H420.58V755.22H412.07ZM321.76 754.92H330.27V762.38H321.76ZM395.65 754.92H404.16V762.38H395.65ZM346.39 762.08H387.74V769.54H346.39ZM1011.42 826.52H1019.93V833.98H1011.42ZM962.15 833.68H978.87V841.14H962.15ZM888.26 840.84H904.98V848.3H888.26ZM855.42 848H863.93V855.46H855.42ZM806.16 855.16H822.88V862.62H806.16ZM740.48 862.32H757.2V869.78H740.48ZM683.01 869.48H691.52V876.94H683.01ZM658.38 876.64H666.89V884.1H658.38ZM625.54 883.8H634.05V891.26H625.54ZM600.91 890.96H609.42V898.42H600.91Z"/>
<path fill="#8ed5a0" d="M617.33 160.62H732.57V168.08H617.33ZM592.7 167.78H609.42V175.24H592.7ZM863.63 167.78H929.61V175.24H863.63ZM584.49 174.94H593V182.4H584.49ZM929.31 174.94H946.03V182.4H929.31ZM568.07 182.1H584.79V189.56H568.07ZM937.52 182.1H954.24V189.56H937.52ZM559.86 189.26H576.58V196.72H559.86ZM953.94 189.26H962.45V196.72H953.94ZM559.86 196.42H568.37V203.88H559.86ZM953.94 196.42H970.66V203.88H953.94ZM551.65 203.58H560.16V211.04H551.65ZM962.15 203.58H970.66V211.04H962.15ZM551.65 210.74H560.16V218.2H551.65ZM962.15 210.74H978.87V218.2H962.15ZM543.44 217.9H551.95V225.36H543.44ZM970.36 217.9H978.87V225.36H970.36ZM543.44 225.06H551.95V232.53H543.44ZM970.36 225.06H978.87V232.53H970.36ZM535.23 232.22H543.74V239.69H535.23ZM970.36 232.22H987.09V239.69H970.36ZM535.23 239.39H543.74V246.85H535.23ZM978.57 239.39H987.09V246.85H978.57ZM527.02 246.55H535.53V254.01H527.02ZM978.57 246.55H987.09V254.01H978.57ZM527.02 253.71H535.53V261.17H527.02ZM978.57 253.71H987.09V261.17H978.57ZM518.81 260.87H527.32V268.33H518.81ZM978.57 260.87H987.09V268.33H978.57ZM502.39 268.03H510.9V275.49H502.39ZM970.36 268.03H987.09V275.49H970.36ZM485.97 275.19H494.48V282.65H485.97ZM970.36 275.19H987.09V282.65H970.36ZM453.12 282.35H478.06V289.81H453.12ZM970.36 282.35H987.09V289.81H970.36ZM436.7 289.51H445.21V296.97H436.7ZM962.15 289.51H978.87V296.97H962.15ZM428.49 296.67H437V304.13H428.49ZM962.15 296.67H978.87V304.13H962.15ZM953.94 303.83H970.66V311.29H953.94ZM412.07 310.99H420.58V318.45H412.07ZM945.73 310.99H962.45V318.45H945.73ZM937.52 318.15H954.24V325.61H937.52ZM387.44 325.31H395.95V332.77H387.44ZM929.31 325.31H946.03V332.77H929.31ZM912.89 332.47H937.82V339.93H912.89ZM362.81 339.63H371.32V347.09H362.81ZM880.05 339.63H921.4V347.09H880.05ZM871.84 346.79H896.77V354.25H871.84ZM863.63 353.95H880.35V361.41H863.63ZM329.97 361.11H338.48V368.57H329.97ZM806.16 361.11H872.14V368.57H806.16ZM321.76 368.27H330.27V375.73H321.76ZM789.74 368.27H855.72V375.73H789.74ZM313.55 375.43H322.06V382.89H313.55ZM773.32 375.43H798.25V382.89H773.32ZM305.34 382.59H313.85V390.05H305.34ZM748.69 382.59H773.62V390.05H748.69ZM297.13 389.75H305.64V397.21H297.13ZM732.27 389.75H748.99V397.21H732.27ZM724.06 396.91H732.57V404.37H724.06ZM715.85 404.07H724.36V411.53H715.85ZM970.36 404.07H1036.35V411.53H970.36ZM280.71 411.23H289.22V418.69H280.71ZM707.64 411.23H716.15V418.69H707.64ZM953.94 411.23H987.09V418.69H953.94ZM1019.63 411.23H1052.77V418.69H1019.63ZM699.43 418.39H707.94V425.85H699.43ZM945.73 418.39H962.45V425.85H945.73ZM1044.26 418.39H1060.98V425.85H1044.26ZM691.22 425.55H699.73V433.01H691.22ZM937.52 425.55H954.24V433.01H937.52ZM1052.47 425.55H1069.19V433.01H1052.47ZM272.5 432.71H281.01V440.17H272.5ZM691.22 432.71H699.73V440.17H691.22ZM929.31 432.71H937.82V440.17H929.31ZM1060.68 432.71H1077.4V440.17H1060.68ZM272.5 439.87H281.01V447.33H272.5ZM683.01 439.87H691.52V447.33H683.01ZM912.89 439.87H929.61V447.33H912.89ZM1068.89 439.87H1085.61V447.33H1068.89ZM683.01 447.03H691.52V454.49H683.01ZM904.68 447.03H921.4V454.49H904.68ZM1077.1 447.03H1085.61V454.49H1077.1ZM674.8 454.19H683.31V461.65H674.8ZM896.47 454.19H913.19V461.65H896.47ZM1077.1 454.19H1093.82V461.65H1077.1ZM674.8 461.35H683.31V468.81H674.8ZM871.84 461.35H896.77V468.81H871.84ZM1085.31 461.35H1093.82V468.81H1085.31ZM666.59 468.51H675.1V475.97H666.59ZM855.42 468.51H880.35V475.97H855.42ZM1085.31 468.51H1093.82V475.97H1085.31ZM272.5 475.67H281.01V483.13H272.5ZM666.59 475.67H675.1V483.13H666.59ZM847.21 475.67H863.93V483.13H847.21ZM1085.31 475.67H1093.82V483.13H1085.31ZM272.5 482.83H281.01V490.29H272.5ZM658.38 482.83H666.89V490.29H658.38ZM839 482.83H855.72V490.29H839ZM1085.31 482.83H1093.82V490.29H1085.31ZM272.5 489.99H281.01V497.45H272.5ZM658.38 489.99H666.89V497.45H658.38ZM839 489.99H847.51V497.45H839ZM1085.31 489.99H1093.82V497.45H1085.31ZM650.17 497.15H658.68V504.61H650.17ZM830.79 497.15H839.3V504.61H830.79ZM1085.31 497.15H1093.82V504.61H1085.31ZM280.71 504.31H289.22V511.77H280.71ZM641.96 504.31H650.47V511.77H641.96ZM822.58 504.31H831.09V511.77H822.58ZM1085.31 504.31H1093.82V511.77H1085.31ZM280.71 511.47H289.22V518.93H280.71ZM633.75 511.47H642.26V518.93H633.75ZM814.37 511.47H822.88V518.93H814.37ZM288.92 518.63H297.43V526.09H288.92ZM625.54 518.63H634.05V526.09H625.54ZM797.95 518.63H814.67V526.09H797.95ZM1093.52 518.63H1102.03V526.09H1093.52ZM288.92 525.79H297.43V533.25H288.92ZM617.33 525.79H625.84V533.25H617.33ZM789.74 525.79H798.25V533.25H789.74ZM1093.52 525.79H1102.03V533.25H1093.52ZM297.13 532.95H305.64V540.41H297.13ZM600.91 532.95H617.63V540.41H600.91ZM781.53 532.95H790.04V540.41H781.53ZM1093.52 532.95H1102.03V540.41H1093.52ZM297.13 540.11H305.64V547.57H297.13ZM592.7 540.11H601.21V547.57H592.7ZM781.53 540.11H790.04V547.57H781.53ZM1085.31 540.11H1093.82V547.57H1085.31ZM305.34 547.27H313.85V554.73H305.34ZM568.07 547.27H584.79V554.73H568.07ZM773.32 547.27H781.83V554.73H773.32ZM1085.31 547.27H1093.82V554.73H1085.31ZM313.55 554.43H322.06V561.89H313.55ZM543.44 554.43H560.16V561.89H543.44ZM773.32 554.43H781.83V561.89H773.32ZM1085.31 554.43H1093.82V561.89H1085.31ZM321.76 561.59H330.27V569.05H321.76ZM510.6 561.59H527.32V569.05H510.6ZM1085.31 561.59H1093.82V569.05H1085.31ZM1208.46 561.59H1225.18V569.05H1208.46ZM329.97 568.75H346.69V576.21H329.97ZM428.49 568.75H453.43V576.21H428.49ZM1183.83 568.75H1200.55V576.21H1183.83ZM338.18 575.91H387.74V583.37H338.18ZM748.69 575.91H757.2V583.37H748.69ZM1093.52 575.91H1102.03V583.37H1093.52ZM1167.41 575.91H1184.13V583.37H1167.41ZM740.48 583.07H748.99V590.53H740.48ZM1093.52 583.07H1110.24V590.53H1093.52ZM1159.2 583.07H1167.71V590.53H1159.2ZM724.06 590.23H740.78V597.69H724.06ZM1101.73 590.23H1110.24V597.69H1101.73ZM1142.78 590.23H1159.5V597.69H1142.78ZM715.85 597.39H732.57V604.85H715.85ZM1101.73 597.39H1143.08V604.85H1101.73ZM305.34 604.55H354.9V612.01H305.34ZM715.85 604.55H724.36V612.01H715.85ZM1101.73 604.55H1134.87V612.01H1101.73ZM288.92 611.71H363.11V619.17H288.92ZM715.85 611.71H724.36V619.17H715.85ZM1109.94 611.71H1134.87V619.17H1109.94ZM280.71 618.87H297.43V626.33H280.71ZM362.81 618.87H379.53V626.33H362.81ZM1109.94 618.87H1126.66V626.33H1109.94ZM280.71 626.03H289.22V633.49H280.71ZM371.02 626.03H387.74V633.49H371.02ZM272.5 633.19H281.01V640.65H272.5ZM379.23 633.19H395.95V640.65H379.23ZM272.5 640.35H281.01V647.81H272.5ZM272.5 647.51H281.01V654.97H272.5ZM395.65 647.51H404.16V654.97H395.65ZM715.85 647.51H724.36V654.97H715.85ZM272.5 654.67H281.01V662.13H272.5ZM403.86 654.67H412.37V662.13H403.86ZM715.85 654.67H724.36V662.13H715.85ZM272.5 661.83H281.01V669.29H272.5ZM412.07 661.83H420.58V669.29H412.07ZM715.85 661.83H724.36V669.29H715.85ZM272.5 668.99H281.01V676.45H272.5ZM420.28 668.99H428.79V676.45H420.28ZM715.85 668.99H724.36V676.45H715.85ZM1085.31 668.99H1110.24V676.45H1085.31ZM272.5 676.15H281.01V683.61H272.5ZM724.06 676.15H732.57V683.61H724.06ZM1060.68 676.15H1126.66V683.61H1060.68ZM272.5 683.31H281.01V690.77H272.5ZM428.49 683.31H437V690.77H428.49ZM724.06 683.31H732.57V690.77H724.06ZM1052.47 683.31H1060.98V690.77H1052.47ZM1118.15 683.31H1126.66V690.77H1118.15ZM272.5 690.48H281.01V697.94H272.5ZM740.48 690.48H748.99V697.94H740.48ZM1044.26 690.48H1052.77V697.94H1044.26ZM1118.15 690.48H1134.87V697.94H1118.15ZM272.5 697.64H281.01V705.1H272.5ZM436.7 697.64H445.21V705.1H436.7ZM756.9 697.64H765.41V705.1H756.9ZM1027.84 697.64H1036.35V705.1H1027.84ZM1126.36 697.64H1134.87V705.1H1126.36ZM436.7 704.8H445.21V712.26H436.7ZM773.32 704.8H781.83V712.26H773.32ZM1003.21 704.8H1019.93V712.26H1003.21ZM1126.36 704.8H1134.87V712.26H1126.36ZM280.71 711.96H289.22V719.42H280.71ZM436.7 711.96H445.21V719.42H436.7ZM814.37 711.96H839.3V719.42H814.37ZM970.36 711.96H987.09V719.42H970.36ZM1126.36 711.96H1134.87V719.42H1126.36ZM436.7 719.12H445.21V726.58H436.7ZM1126.36 719.12H1134.87V726.58H1126.36ZM1126.36 726.28H1134.87V733.74H1126.36ZM428.49 733.44H437V740.9H428.49ZM428.49 740.6H437V748.06H428.49ZM420.28 747.76H428.79V755.22H420.28ZM403.86 754.92H412.37V762.38H403.86ZM329.97 762.08H346.69V769.54H329.97ZM387.44 762.08H395.95V769.54H387.44ZM1003.21 826.52H1011.72V833.98H1003.21ZM945.73 833.68H962.45V841.14H945.73ZM880.05 840.84H888.56V848.3H880.05ZM789.74 855.16H806.46V862.62H789.74ZM724.06 862.32H740.78V869.78H724.06ZM650.17 876.64H658.68V884.1H650.17ZM592.7 890.96H601.21V898.42H592.7Z"/>
<path fill="#8cd491" d="M600.91 160.62H617.63V168.08H600.91ZM732.27 160.62H937.82V168.08H732.27ZM584.49 167.78H593V175.24H584.49ZM929.31 167.78H954.24V175.24H929.31ZM568.07 174.94H584.79V182.4H568.07ZM945.73 174.94H962.45V182.4H945.73ZM559.86 182.1H568.37V189.56H559.86ZM953.94 182.1H970.66V189.56H953.94ZM551.65 189.26H560.16V196.72H551.65ZM962.15 189.26H978.87V196.72H962.15ZM551.65 196.42H560.16V203.88H551.65ZM970.36 196.42H978.87V203.88H970.36ZM543.44 203.58H551.95V211.04H543.44ZM970.36 203.58H978.87V211.04H970.36ZM535.23 210.74H551.95V218.2H535.23ZM978.57 210.74H987.09V218.2H978.57ZM535.23 217.9H543.74V225.36H535.23ZM978.57 217.9H987.09V225.36H978.57ZM535.23 225.06H543.74V232.53H535.23ZM978.57 225.06H995.3V232.53H978.57ZM527.02 232.22H535.53V239.69H527.02ZM986.79 232.22H995.3V239.69H986.79ZM527.02 239.39H535.53V246.85H527.02ZM986.79 239.39H995.3V246.85H986.79ZM518.81 246.55H527.32V254.01H518.81ZM986.79 246.55H995.3V254.01H986.79ZM518.81 253.71H527.32V261.17H518.81ZM986.79 253.71H995.3V261.17H986.79ZM502.39 260.87H519.11V268.33H502.39ZM986.79 260.87H995.3V268.33H986.79ZM494.18 268.03H502.69V275.49H494.18ZM986.79 268.03H995.3V275.49H986.79ZM461.34 275.19H486.27V282.65H461.34ZM986.79 275.19H995.3V282.65H986.79ZM444.91 282.35H453.43V289.81H444.91ZM986.79 282.35H1003.51V289.81H986.79ZM428.49 289.51H437V296.97H428.49ZM978.57 289.51H995.3V296.97H978.57ZM978.57 296.67H995.3V304.13H978.57ZM420.28 303.83H428.79V311.29H420.28ZM970.36 303.83H995.3V311.29H970.36ZM962.15 310.99H987.09V318.45H962.15ZM395.65 318.15H404.16V325.61H395.65ZM953.94 318.15H978.87V325.61H953.94ZM379.23 325.31H387.74V332.77H379.23ZM945.73 325.31H970.66V332.77H945.73ZM371.02 332.47H379.53V339.93H371.02ZM937.52 332.47H962.45V339.93H937.52ZM354.6 339.63H363.11V347.09H354.6ZM921.1 339.63H954.24V347.09H921.1ZM346.39 346.79H354.9V354.25H346.39ZM896.47 346.79H946.03V354.25H896.47ZM338.18 353.95H346.69V361.41H338.18ZM880.05 353.95H921.4V361.41H880.05ZM871.84 361.11H888.56V368.57H871.84ZM313.55 368.27H322.06V375.73H313.55ZM855.42 368.27H872.14V375.73H855.42ZM305.34 375.43H313.85V382.89H305.34ZM797.95 375.43H863.93V382.89H797.95ZM773.32 382.59H806.46V390.05H773.32ZM995 382.59H1011.72V390.05H995ZM748.69 389.75H773.62V397.21H748.69ZM962.15 389.75H1036.35V397.21H962.15ZM288.92 396.91H297.43V404.37H288.92ZM732.27 396.91H748.99V404.37H732.27ZM945.73 396.91H1052.77V404.37H945.73ZM280.71 404.07H289.22V411.53H280.71ZM724.06 404.07H732.57V411.53H724.06ZM937.52 404.07H970.66V411.53H937.52ZM1036.05 404.07H1060.98V411.53H1036.05ZM715.85 411.23H724.36V418.69H715.85ZM929.31 411.23H954.24V418.69H929.31ZM1052.47 411.23H1069.19V418.69H1052.47ZM272.5 418.39H281.01V425.85H272.5ZM707.64 418.39H716.15V425.85H707.64ZM929.31 418.39H946.03V425.85H929.31ZM1060.68 418.39H1077.4V425.85H1060.68ZM272.5 425.55H281.01V433.01H272.5ZM699.43 425.55H707.94V433.01H699.43ZM921.1 425.55H937.82V433.01H921.1ZM1068.89 425.55H1085.61V433.01H1068.89ZM699.43 432.71H707.94V440.17H699.43ZM904.68 432.71H929.61V440.17H904.68ZM1077.1 432.71H1085.61V440.17H1077.1ZM264.29 439.87H272.8V447.33H264.29ZM691.22 439.87H699.73V447.33H691.22ZM896.47 439.87H913.19V447.33H896.47ZM1085.31 439.87H1093.82V447.33H1085.31ZM264.29 447.03H272.8V454.49H264.29ZM691.22 447.03H699.73V454.49H691.22ZM888.26 447.03H904.98V454.49H888.26ZM1085.31 447.03H1093.82V454.49H1085.31ZM264.29 454.19H272.8V461.65H264.29ZM683.01 454.19H691.52V461.65H683.01ZM863.63 454.19H896.77V461.65H863.63ZM1093.52 454.19H1102.03V461.65H1093.52ZM264.29 461.35H272.8V468.81H264.29ZM683.01 461.35H691.52V468.81H683.01ZM855.42 461.35H872.14V468.81H855.42ZM1093.52 461.35H1102.03V468.81H1093.52ZM264.29 468.51H272.8V475.97H264.29ZM674.8 468.51H683.31V475.97H674.8ZM847.21 468.51H855.72V475.97H847.21ZM1093.52 468.51H1102.03V475.97H1093.52ZM264.29 475.67H272.8V483.13H264.29ZM674.8 475.67H683.31V483.13H674.8ZM839 475.67H847.51V483.13H839ZM1093.52 475.67H1102.03V483.13H1093.52ZM666.59 482.83H675.1V490.29H666.59ZM830.79 482.83H839.3V490.29H830.79ZM1093.52 482.83H1102.03V490.29H1093.52ZM666.59 489.99H675.1V497.45H666.59ZM830.79 489.99H839.3V497.45H830.79ZM1093.52 489.99H1102.03V497.45H1093.52ZM272.5 497.15H281.01V504.61H272.5ZM658.38 497.15H666.89V504.61H658.38ZM822.58 497.15H831.09V504.61H822.58ZM1093.52 497.15H1102.03V504.61H1093.52ZM272.5 504.31H281.01V511.77H272.5ZM650.17 504.31H658.68V511.77H650.17ZM814.37 504.31H822.88V511.77H814.37ZM1093.52 504.31H1102.03V511.77H1093.52ZM641.96 511.47H650.47V518.93H641.96ZM806.16 511.47H814.67V518.93H806.16ZM1093.52 511.47H1102.03V518.93H1093.52ZM280.71 518.63H289.22V526.09H280.71ZM633.75 518.63H650.47V526.09H633.75ZM789.74 518.63H798.25V526.09H789.74ZM625.54 525.79H634.05V533.25H625.54ZM781.53 525.79H790.04V533.25H781.53ZM1101.73 525.79H1110.24V533.25H1101.73ZM288.92 532.95H297.43V540.41H288.92ZM617.33 532.95H625.84V540.41H617.33ZM1101.73 532.95H1110.24V540.41H1101.73ZM288.92 540.11H297.43V547.57H288.92ZM600.91 540.11H609.42V547.57H600.91ZM773.32 540.11H781.83V547.57H773.32ZM1093.52 540.11H1102.03V547.57H1093.52ZM297.13 547.27H305.64V554.73H297.13ZM584.49 547.27H601.21V554.73H584.49ZM1093.52 547.27H1102.03V554.73H1093.52ZM305.34 554.43H313.85V561.89H305.34ZM559.86 554.43H576.58V561.89H559.86ZM765.11 554.43H773.62V561.89H765.11ZM1093.52 554.43H1102.03V561.89H1093.52ZM1216.67 554.43H1225.18V561.89H1216.67ZM305.34 561.59H322.06V569.05H305.34ZM527.02 561.59H543.74V569.05H527.02ZM765.11 561.59H773.62V569.05H765.11ZM1093.52 561.59H1102.03V569.05H1093.52ZM1192.04 561.59H1208.76V569.05H1192.04ZM313.55 568.75H330.27V576.21H313.55ZM453.12 568.75H519.11V576.21H453.12ZM756.9 568.75H765.41V576.21H756.9ZM1093.52 568.75H1110.24V576.21H1093.52ZM1175.62 568.75H1184.13V576.21H1175.62ZM321.76 575.91H338.48V583.37H321.76ZM387.44 575.91H445.21V583.37H387.44ZM740.48 575.91H748.99V583.37H740.48ZM1101.73 575.91H1118.45V583.37H1101.73ZM1159.2 575.91H1167.71V583.37H1159.2ZM321.76 583.07H387.74V590.53H321.76ZM724.06 583.07H740.78V590.53H724.06ZM1109.94 583.07H1159.5V590.53H1109.94ZM313.55 590.23H379.53V597.69H313.55ZM715.85 590.23H724.36V597.69H715.85ZM1109.94 590.23H1143.08V597.69H1109.94ZM297.13 597.39H371.32V604.85H297.13ZM707.64 597.39H716.15V604.85H707.64ZM280.71 604.55H305.64V612.01H280.71ZM354.6 604.55H379.53V612.01H354.6ZM707.64 604.55H716.15V612.01H707.64ZM272.5 611.71H289.22V619.17H272.5ZM362.81 611.71H379.53V619.17H362.81ZM699.43 611.71H716.15V619.17H699.43ZM272.5 618.87H281.01V626.33H272.5ZM379.23 618.87H387.74V626.33H379.23ZM699.43 618.87H716.15V626.33H699.43ZM264.29 626.03H281.01V633.49H264.29ZM387.44 626.03H395.95V633.49H387.44ZM699.43 626.03H716.15V633.49H699.43ZM264.29 633.19H272.8V640.65H264.29ZM699.43 633.19H716.15V640.65H699.43ZM264.29 640.35H272.8V647.81H264.29ZM395.65 640.35H404.16V647.81H395.65ZM699.43 640.35H716.15V647.81H699.43ZM264.29 647.51H272.8V654.97H264.29ZM403.86 647.51H412.37V654.97H403.86ZM707.64 647.51H716.15V654.97H707.64ZM264.29 654.67H272.8V662.13H264.29ZM412.07 654.67H420.58V662.13H412.07ZM707.64 654.67H716.15V662.13H707.64ZM264.29 661.83H272.8V669.29H264.29ZM420.28 661.83H428.79V669.29H420.28ZM707.64 661.83H716.15V669.29H707.64ZM264.29 668.99H272.8V676.45H264.29ZM428.49 668.99H437V676.45H428.49ZM264.29 676.15H272.8V683.61H264.29ZM428.49 676.15H437V683.61H428.49ZM715.85 676.15H724.36V683.61H715.85ZM264.29 683.31H272.8V690.77H264.29ZM436.7 683.31H445.21V690.77H436.7ZM715.85 683.31H724.36V690.77H715.85ZM1060.68 683.31H1118.45V690.77H1060.68ZM436.7 690.48H445.21V697.94H436.7ZM724.06 690.48H740.78V697.94H724.06ZM1052.47 690.48H1069.19V697.94H1052.47ZM1109.94 690.48H1118.45V697.94H1109.94ZM748.69 697.64H757.2V705.1H748.69ZM1036.05 697.64H1052.77V705.1H1036.05ZM1109.94 697.64H1126.66V705.1H1109.94ZM765.11 704.8H773.62V712.26H765.11ZM1019.63 704.8H1036.35V712.26H1019.63ZM1118.15 704.8H1126.66V712.26H1118.15ZM789.74 711.96H814.67V719.42H789.74ZM986.79 711.96H1003.51V719.42H986.79ZM1118.15 711.96H1126.66V719.42H1118.15ZM888.26 719.12H962.45V726.58H888.26ZM1118.15 719.12H1126.66V726.58H1118.15ZM436.7 726.28H445.21V733.74H436.7ZM1118.15 726.28H1126.66V733.74H1118.15ZM436.7 733.44H445.21V740.9H436.7ZM1118.15 733.44H1126.66V740.9H1118.15ZM1118.15 740.6H1126.66V748.06H1118.15ZM428.49 747.76H437V755.22H428.49ZM412.07 754.92H420.58V762.38H412.07ZM395.65 762.08H404.16V769.54H395.65ZM346.39 769.24H387.74V776.7H346.39ZM1019.63 819.36H1028.14V826.82H1019.63ZM986.79 826.52H1003.51V833.98H986.79ZM937.52 833.68H946.03V841.14H937.52ZM871.84 840.84H880.35V848.3H871.84ZM847.21 848H855.72V855.46H847.21ZM781.53 855.16H790.04V862.62H781.53ZM707.64 862.32H724.36V869.78H707.64ZM674.8 869.48H683.31V876.94H674.8ZM617.33 883.8H625.84V891.26H617.33ZM584.49 890.96H593V898.42H584.49Z"/>
<path fill="#8ad287" d="M600.91 153.46H716.15V160.92H600.91ZM863.63 153.46H937.82V160.92H863.63ZM584.49 160.62H601.21V168.08H584.49ZM937.52 160.62H954.24V168.08H937.52ZM568.07 167.78H584.79V175.24H568.07ZM953.94 167.78H962.45V175.24H953.94ZM559.86 174.94H568.37V182.4H559.86ZM962.15 174.94H970.66V182.4H962.15ZM551.65 182.1H560.16V189.56H551.65ZM970.36 182.1H978.87V189.56H970.36ZM543.44 189.26H551.95V196.72H543.44ZM978.57 189.26H987.09V196.72H978.57ZM535.23 196.42H551.95V203.88H535.23ZM978.57 196.42H987.09V203.88H978.57ZM535.23 203.58H543.74V211.04H535.23ZM978.57 203.58H987.09V211.04H978.57ZM527.02 210.74H535.53V218.2H527.02ZM986.79 210.74H995.3V218.2H986.79ZM527.02 217.9H535.53V225.36H527.02ZM986.79 217.9H995.3V225.36H986.79ZM527.02 225.06H535.53V232.53H527.02ZM995 225.06H1003.51V232.53H995ZM518.81 232.22H527.32V239.69H518.81ZM995 232.22H1003.51V239.69H995ZM518.81 239.39H527.32V246.85H518.81ZM995 239.39H1011.72V246.85H995ZM510.6 246.55H519.11V254.01H510.6ZM995 246.55H1011.72V254.01H995ZM502.39 253.71H519.11V261.17H502.39ZM995 253.71H1011.72V261.17H995ZM494.18 260.87H502.69V268.33H494.18ZM995 260.87H1011.72V268.33H995ZM469.55 268.03H494.48V275.49H469.55ZM995 268.03H1011.72V275.49H995ZM444.91 275.19H461.64V282.65H444.91ZM995 275.19H1011.72V282.65H995ZM436.7 282.35H445.21V289.81H436.7ZM1003.21 282.35H1011.72V289.81H1003.21ZM995 289.51H1019.93V296.97H995ZM420.28 296.67H428.79V304.13H420.28ZM995 296.67H1019.93V304.13H995ZM412.07 303.83H420.58V311.29H412.07ZM995 303.83H1011.72V311.29H995ZM403.86 310.99H412.37V318.45H403.86ZM986.79 310.99H1011.72V318.45H986.79ZM387.44 318.15H395.95V325.61H387.44ZM978.57 318.15H1011.72V325.61H978.57ZM970.36 325.31H1011.72V332.77H970.36ZM362.81 332.47H371.32V339.93H362.81ZM962.15 332.47H1011.72V339.93H962.15ZM953.94 339.63H1011.72V347.09H953.94ZM338.18 346.79H346.69V354.25H338.18ZM945.73 346.79H1011.72V354.25H945.73ZM329.97 353.95H338.48V361.41H329.97ZM921.1 353.95H1028.14V361.41H921.1ZM321.76 361.11H330.27V368.57H321.76ZM888.26 361.11H1036.35V368.57H888.26ZM871.84 368.27H1044.56V375.73H871.84ZM863.63 375.43H1052.77V382.89H863.63ZM297.13 382.59H305.64V390.05H297.13ZM806.16 382.59H880.35V390.05H806.16ZM912.89 382.59H995.3V390.05H912.89ZM1011.42 382.59H1060.98V390.05H1011.42ZM288.92 389.75H297.43V397.21H288.92ZM773.32 389.75H863.93V397.21H773.32ZM912.89 389.75H962.45V397.21H912.89ZM1036.05 389.75H1069.19V397.21H1036.05ZM280.71 396.91H289.22V404.37H280.71ZM748.69 396.91H765.41V404.37H748.69ZM912.89 396.91H946.03V404.37H912.89ZM1052.47 396.91H1077.4V404.37H1052.47ZM732.27 404.07H740.78V411.53H732.27ZM912.89 404.07H937.82V411.53H912.89ZM1060.68 404.07H1085.61V411.53H1060.68ZM272.5 411.23H281.01V418.69H272.5ZM724.06 411.23H732.57V418.69H724.06ZM912.89 411.23H929.61V418.69H912.89ZM1068.89 411.23H1085.61V418.69H1068.89ZM715.85 418.39H724.36V425.85H715.85ZM904.68 418.39H929.61V425.85H904.68ZM1077.1 418.39H1093.82V425.85H1077.1ZM264.29 425.55H272.8V433.01H264.29ZM707.64 425.55H716.15V433.01H707.64ZM888.26 425.55H921.4V433.01H888.26ZM1085.31 425.55H1093.82V433.01H1085.31ZM264.29 432.71H272.8V440.17H264.29ZM707.64 432.71H716.15V440.17H707.64ZM880.05 432.71H904.98V440.17H880.05ZM1085.31 432.71H1102.03V440.17H1085.31ZM699.43 439.87H707.94V447.33H699.43ZM871.84 439.87H896.77V447.33H871.84ZM1093.52 439.87H1102.03V447.33H1093.52ZM699.43 447.03H707.94V454.49H699.43ZM855.42 447.03H888.56V454.49H855.42ZM1093.52 447.03H1102.03V454.49H1093.52ZM691.22 454.19H699.73V461.65H691.22ZM847.21 454.19H863.93V461.65H847.21ZM1101.73 454.19H1110.24V461.65H1101.73ZM691.22 461.35H699.73V468.81H691.22ZM839 461.35H855.72V468.81H839ZM1101.73 461.35H1110.24V468.81H1101.73ZM683.01 468.51H691.52V475.97H683.01ZM830.79 468.51H847.51V475.97H830.79ZM1101.73 468.51H1110.24V475.97H1101.73ZM683.01 475.67H691.52V483.13H683.01ZM830.79 475.67H839.3V483.13H830.79ZM1101.73 475.67H1110.24V483.13H1101.73ZM264.29 482.83H272.8V490.29H264.29ZM674.8 482.83H683.31V490.29H674.8ZM822.58 482.83H831.09V490.29H822.58ZM1101.73 482.83H1110.24V490.29H1101.73ZM264.29 489.99H272.8V497.45H264.29ZM674.8 489.99H683.31V497.45H674.8ZM814.37 489.99H831.09V497.45H814.37ZM1101.73 489.99H1110.24V497.45H1101.73ZM264.29 497.15H272.8V504.61H264.29ZM666.59 497.15H675.1V504.61H666.59ZM806.16 497.15H822.88V504.61H806.16ZM1101.73 497.15H1110.24V504.61H1101.73ZM658.38 504.31H675.1V511.77H658.38ZM797.95 504.31H814.67V511.77H797.95ZM1101.73 504.31H1110.24V511.77H1101.73ZM272.5 511.47H281.01V518.93H272.5ZM650.17 511.47H666.89V518.93H650.17ZM789.74 511.47H806.46V518.93H789.74ZM1101.73 511.47H1110.24V518.93H1101.73ZM272.5 518.63H281.01V526.09H272.5ZM650.17 518.63H658.68V526.09H650.17ZM781.53 518.63H790.04V526.09H781.53ZM1101.73 518.63H1110.24V526.09H1101.73ZM280.71 525.79H289.22V533.25H280.71ZM633.75 525.79H650.47V533.25H633.75ZM773.32 525.79H781.83V533.25H773.32ZM1109.94 525.79H1118.45V533.25H1109.94ZM280.71 532.95H289.22V540.41H280.71ZM625.54 532.95H642.26V540.41H625.54ZM773.32 532.95H781.83V540.41H773.32ZM1109.94 532.95H1118.45V540.41H1109.94ZM609.12 540.11H625.84V547.57H609.12ZM765.11 540.11H773.62V547.57H765.11ZM1101.73 540.11H1118.45V547.57H1101.73ZM288.92 547.27H297.43V554.73H288.92ZM600.91 547.27H617.63V554.73H600.91ZM765.11 547.27H773.62V554.73H765.11ZM1101.73 547.27H1118.45V554.73H1101.73ZM288.92 554.43H305.64V561.89H288.92ZM576.28 554.43H593V561.89H576.28ZM1101.73 554.43H1118.45V561.89H1101.73ZM1200.25 554.43H1216.97V561.89H1200.25ZM297.13 561.59H305.64V569.05H297.13ZM543.44 561.59H560.16V569.05H543.44ZM756.9 561.59H765.41V569.05H756.9ZM1101.73 561.59H1118.45V569.05H1101.73ZM1175.62 561.59H1192.34V569.05H1175.62ZM297.13 568.75H313.85V576.21H297.13ZM518.81 568.75H535.53V576.21H518.81ZM740.48 568.75H757.2V576.21H740.48ZM1109.94 568.75H1126.66V576.21H1109.94ZM1150.99 568.75H1175.92V576.21H1150.99ZM297.13 575.91H322.06V583.37H297.13ZM444.91 575.91H502.69V583.37H444.91ZM724.06 575.91H740.78V583.37H724.06ZM1118.15 575.91H1159.5V583.37H1118.15ZM288.92 583.07H322.06V590.53H288.92ZM387.44 583.07H437V590.53H387.44ZM699.43 583.07H724.36V590.53H699.43ZM288.92 590.23H313.85V597.69H288.92ZM379.23 590.23H404.16V597.69H379.23ZM683.01 590.23H716.15V597.69H683.01ZM280.71 597.39H297.43V604.85H280.71ZM371.02 597.39H395.95V604.85H371.02ZM683.01 597.39H707.94V604.85H683.01ZM272.5 604.55H281.01V612.01H272.5ZM379.23 604.55H387.74V612.01H379.23ZM683.01 604.55H707.94V612.01H683.01ZM264.29 611.71H272.8V619.17H264.29ZM379.23 611.71H395.95V619.17H379.23ZM683.01 611.71H699.73V619.17H683.01ZM264.29 618.87H272.8V626.33H264.29ZM387.44 618.87H395.95V626.33H387.44ZM683.01 618.87H699.73V626.33H683.01ZM395.65 626.03H404.16V633.49H395.65ZM683.01 626.03H699.73V633.49H683.01ZM256.08 633.19H264.59V640.65H256.08ZM395.65 633.19H404.16V640.65H395.65ZM683.01 633.19H699.73V640.65H683.01ZM256.08 640.35H264.59V647.81H256.08ZM403.86 640.35H412.37V647.81H403.86ZM691.22 640.35H699.73V647.81H691.22ZM256.08 647.51H264.59V654.97H256.08ZM412.07 647.51H420.58V654.97H412.07ZM691.22 647.51H707.94V654.97H691.22ZM256.08 654.67H264.59V662.13H256.08ZM420.28 654.67H428.79V662.13H420.28ZM699.43 654.67H707.94V662.13H699.43ZM428.49 661.83H437V669.29H428.49ZM699.43 661.83H707.94V669.29H699.43ZM707.64 668.99H716.15V676.45H707.64ZM436.7 676.15H445.21V683.61H436.7ZM707.64 676.15H716.15V683.61H707.64ZM264.29 690.48H272.8V697.94H264.29ZM444.91 690.48H453.43V697.94H444.91ZM715.85 690.48H724.36V697.94H715.85ZM1068.89 690.48H1110.24V697.94H1068.89ZM444.91 697.64H453.43V705.1H444.91ZM732.27 697.64H748.99V705.1H732.27ZM1052.47 697.64H1077.4V705.1H1052.47ZM1093.52 697.64H1110.24V705.1H1093.52ZM444.91 704.8H453.43V712.26H444.91ZM756.9 704.8H765.41V712.26H756.9ZM1036.05 704.8H1052.77V712.26H1036.05ZM1101.73 704.8H1118.45V712.26H1101.73ZM444.91 711.96H453.43V719.42H444.91ZM773.32 711.96H790.04V719.42H773.32ZM1003.21 711.96H1028.14V719.42H1003.21ZM1109.94 711.96H1118.45V719.42H1109.94ZM444.91 719.12H453.43V726.58H444.91ZM847.21 719.12H888.56V726.58H847.21ZM962.15 719.12H987.09V726.58H962.15ZM1109.94 719.12H1118.45V726.58H1109.94ZM444.91 726.28H453.43V733.74H444.91ZM1109.94 726.28H1118.45V733.74H1109.94ZM444.91 733.44H453.43V740.9H444.91ZM1109.94 733.44H1118.45V740.9H1109.94ZM436.7 740.6H445.21V748.06H436.7ZM1109.94 740.6H1118.45V748.06H1109.94ZM1109.94 747.76H1118.45V755.22H1109.94ZM420.28 754.92H428.79V762.38H420.28ZM403.86 762.08H412.37V769.54H403.86ZM338.18 769.24H346.69V776.7H338.18ZM387.44 769.24H395.95V776.7H387.44ZM1011.42 819.36H1019.93V826.82H1011.42ZM970.36 826.52H987.09V833.98H970.36ZM921.1 833.68H937.82V841.14H921.1ZM839 848H847.51V855.46H839ZM773.32 855.16H781.83V862.62H773.32ZM699.43 862.32H707.94V869.78H699.43ZM641.96 876.64H650.47V884.1H641.96ZM609.12 883.8H617.63V891.26H609.12ZM576.28 890.96H584.79V898.42H576.28Z"/>
<path fill="#84d078" d="M617.33 146.3H650.47V153.76H617.33ZM880.05 146.3H946.03V153.76H880.05ZM584.49 153.46H601.21V160.92H584.49ZM715.85 153.46H863.93V160.92H715.85ZM937.52 153.46H954.24V160.92H937.52ZM568.07 160.62H584.79V168.08H568.07ZM953.94 160.62H962.45V168.08H953.94ZM551.65 167.78H568.37V175.24H551.65ZM962.15 167.78H978.87V175.24H962.15ZM543.44 174.94H560.16V182.4H543.44ZM970.36 174.94H987.09V182.4H970.36ZM535.23 182.1H551.95V189.56H535.23ZM978.57 182.1H987.09V189.56H978.57ZM527.02 189.26H543.74V196.72H527.02ZM986.79 189.26H995.3V196.72H986.79ZM527.02 196.42H535.53V203.88H527.02ZM986.79 196.42H995.3V203.88H986.79ZM518.81 203.58H535.53V211.04H518.81ZM986.79 203.58H995.3V211.04H986.79ZM518.81 210.74H527.32V218.2H518.81ZM995 210.74H1003.51V218.2H995ZM518.81 217.9H527.32V225.36H518.81ZM995 217.9H1003.51V225.36H995ZM510.6 225.06H527.32V232.53H510.6ZM1003.21 225.06H1011.72V232.53H1003.21ZM510.6 232.22H519.11V239.69H510.6ZM1003.21 232.22H1011.72V239.69H1003.21ZM510.6 239.39H519.11V246.85H510.6ZM1011.42 239.39H1019.93V246.85H1011.42ZM502.39 246.55H510.9V254.01H502.39ZM1011.42 246.55H1019.93V254.01H1011.42ZM494.18 253.71H502.69V261.17H494.18ZM1011.42 253.71H1019.93V261.17H1011.42ZM477.76 260.87H494.48V268.33H477.76ZM1011.42 260.87H1019.93V268.33H1011.42ZM444.91 268.03H469.85V275.49H444.91ZM1011.42 268.03H1019.93V275.49H1011.42ZM436.7 275.19H445.21V282.65H436.7ZM1011.42 275.19H1019.93V282.65H1011.42ZM428.49 282.35H437V289.81H428.49ZM1011.42 282.35H1028.14V289.81H1011.42ZM420.28 289.51H428.79V296.97H420.28ZM1019.63 289.51H1028.14V296.97H1019.63ZM412.07 296.67H420.58V304.13H412.07ZM1019.63 296.67H1028.14V304.13H1019.63ZM403.86 303.83H412.37V311.29H403.86ZM1011.42 303.83H1028.14V311.29H1011.42ZM395.65 310.99H404.16V318.45H395.65ZM1011.42 310.99H1028.14V318.45H1011.42ZM379.23 318.15H387.74V325.61H379.23ZM1011.42 318.15H1028.14V325.61H1011.42ZM371.02 325.31H379.53V332.77H371.02ZM1011.42 325.31H1028.14V332.77H1011.42ZM354.6 332.47H363.11V339.93H354.6ZM1011.42 332.47H1028.14V339.93H1011.42ZM346.39 339.63H354.9V347.09H346.39ZM1011.42 339.63H1036.35V347.09H1011.42ZM1011.42 346.79H1044.56V354.25H1011.42ZM321.76 353.95H330.27V361.41H321.76ZM1027.84 353.95H1060.98V361.41H1027.84ZM313.55 361.11H322.06V368.57H313.55ZM1036.05 361.11H1069.19V368.57H1036.05ZM305.34 368.27H313.85V375.73H305.34ZM1044.26 368.27H1077.4V375.73H1044.26ZM297.13 375.43H305.64V382.89H297.13ZM1052.47 375.43H1077.4V382.89H1052.47ZM288.92 382.59H297.43V390.05H288.92ZM880.05 382.59H913.19V390.05H880.05ZM1060.68 382.59H1077.4V390.05H1060.68ZM863.63 389.75H913.19V397.21H863.63ZM1068.89 389.75H1085.61V397.21H1068.89ZM765.11 396.91H913.19V404.37H765.11ZM1077.1 396.91H1093.82V404.37H1077.1ZM272.5 404.07H281.01V411.53H272.5ZM740.48 404.07H765.41V411.53H740.48ZM830.79 404.07H913.19V411.53H830.79ZM1085.31 404.07H1093.82V411.53H1085.31ZM732.27 411.23H740.78V418.69H732.27ZM855.42 411.23H913.19V418.69H855.42ZM1085.31 411.23H1102.03V418.69H1085.31ZM264.29 418.39H272.8V425.85H264.29ZM724.06 418.39H732.57V425.85H724.06ZM863.63 418.39H904.98V425.85H863.63ZM1093.52 418.39H1102.03V425.85H1093.52ZM715.85 425.55H724.36V433.01H715.85ZM855.42 425.55H888.56V433.01H855.42ZM1093.52 425.55H1102.03V433.01H1093.52ZM256.08 432.71H264.59V440.17H256.08ZM715.85 432.71H724.36V440.17H715.85ZM855.42 432.71H880.35V440.17H855.42ZM1101.73 432.71H1110.24V440.17H1101.73ZM256.08 439.87H264.59V447.33H256.08ZM707.64 439.87H716.15V447.33H707.64ZM847.21 439.87H872.14V447.33H847.21ZM1101.73 439.87H1110.24V447.33H1101.73ZM256.08 447.03H264.59V454.49H256.08ZM707.64 447.03H716.15V454.49H707.64ZM839 447.03H855.72V454.49H839ZM1101.73 447.03H1110.24V454.49H1101.73ZM256.08 454.19H264.59V461.65H256.08ZM699.43 454.19H707.94V461.65H699.43ZM830.79 454.19H847.51V461.65H830.79ZM1109.94 454.19H1118.45V461.65H1109.94ZM256.08 461.35H264.59V468.81H256.08ZM699.43 461.35H707.94V468.81H699.43ZM830.79 461.35H839.3V468.81H830.79ZM1109.94 461.35H1118.45V468.81H1109.94ZM256.08 468.51H264.59V475.97H256.08ZM691.22 468.51H699.73V475.97H691.22ZM822.58 468.51H831.09V475.97H822.58ZM1109.94 468.51H1118.45V475.97H1109.94ZM256.08 475.67H264.59V483.13H256.08ZM691.22 475.67H699.73V483.13H691.22ZM814.37 475.67H831.09V483.13H814.37ZM1109.94 475.67H1118.45V483.13H1109.94ZM256.08 482.83H264.59V490.29H256.08ZM683.01 482.83H691.52V490.29H683.01ZM806.16 482.83H822.88V490.29H806.16ZM1109.94 482.83H1118.45V490.29H1109.94ZM683.01 489.99H691.52V497.45H683.01ZM806.16 489.99H814.67V497.45H806.16ZM1109.94 489.99H1118.45V497.45H1109.94ZM674.8 497.15H691.52V504.61H674.8ZM797.95 497.15H806.46V504.61H797.95ZM1109.94 497.15H1118.45V504.61H1109.94ZM264.29 504.31H272.8V511.77H264.29ZM674.8 504.31H683.31V511.77H674.8ZM789.74 504.31H798.25V511.77H789.74ZM1109.94 504.31H1118.45V511.77H1109.94ZM264.29 511.47H272.8V518.93H264.29ZM666.59 511.47H675.1V518.93H666.59ZM781.53 511.47H790.04V518.93H781.53ZM1109.94 511.47H1118.45V518.93H1109.94ZM658.38 518.63H675.1V526.09H658.38ZM773.32 518.63H781.83V526.09H773.32ZM1109.94 518.63H1118.45V526.09H1109.94ZM272.5 525.79H281.01V533.25H272.5ZM650.17 525.79H666.89V533.25H650.17ZM765.11 525.79H773.62V533.25H765.11ZM1118.15 525.79H1126.66V533.25H1118.15ZM272.5 532.95H281.01V540.41H272.5ZM641.96 532.95H666.89V540.41H641.96ZM765.11 532.95H773.62V540.41H765.11ZM1118.15 532.95H1126.66V540.41H1118.15ZM280.71 540.11H289.22V547.57H280.71ZM625.54 540.11H658.68V547.57H625.54ZM756.9 540.11H765.41V547.57H756.9ZM1118.15 540.11H1126.66V547.57H1118.15ZM280.71 547.27H289.22V554.73H280.71ZM617.33 547.27H658.68V554.73H617.33ZM756.9 547.27H765.41V554.73H756.9ZM1118.15 547.27H1134.87V554.73H1118.15ZM1208.46 547.27H1225.18V554.73H1208.46ZM280.71 554.43H289.22V561.89H280.71ZM592.7 554.43H658.68V561.89H592.7ZM756.9 554.43H765.41V561.89H756.9ZM1118.15 554.43H1143.08V561.89H1118.15ZM1175.62 554.43H1200.55V561.89H1175.62ZM280.71 561.59H297.43V569.05H280.71ZM559.86 561.59H601.21V569.05H559.86ZM633.75 561.59H675.1V569.05H633.75ZM740.48 561.59H757.2V569.05H740.48ZM1118.15 561.59H1175.92V569.05H1118.15ZM280.71 568.75H297.43V576.21H280.71ZM535.23 568.75H543.74V576.21H535.23ZM633.75 568.75H740.78V576.21H633.75ZM1126.36 568.75H1151.29V576.21H1126.36ZM280.71 575.91H297.43V583.37H280.71ZM502.39 575.91H527.32V583.37H502.39ZM633.75 575.91H724.36V583.37H633.75ZM280.71 583.07H289.22V590.53H280.71ZM436.7 583.07H461.64V590.53H436.7ZM625.54 583.07H699.73V590.53H625.54ZM272.5 590.23H289.22V597.69H272.5ZM403.86 590.23H437V597.69H403.86ZM625.54 590.23H683.31V597.69H625.54ZM272.5 597.39H281.01V604.85H272.5ZM395.65 597.39H412.37V604.85H395.65ZM641.96 597.39H683.31V604.85H641.96ZM264.29 604.55H272.8V612.01H264.29ZM387.44 604.55H404.16V612.01H387.44ZM650.17 604.55H683.31V612.01H650.17ZM256.08 611.71H264.59V619.17H256.08ZM395.65 611.71H404.16V619.17H395.65ZM658.38 611.71H683.31V619.17H658.38ZM256.08 618.87H264.59V626.33H256.08ZM395.65 618.87H404.16V626.33H395.65ZM658.38 618.87H683.31V626.33H658.38ZM256.08 626.03H264.59V633.49H256.08ZM403.86 626.03H412.37V633.49H403.86ZM666.59 626.03H683.31V633.49H666.59ZM403.86 633.19H412.37V640.65H403.86ZM666.59 633.19H683.31V640.65H666.59ZM247.87 640.35H256.38V647.81H247.87ZM412.07 640.35H420.58V647.81H412.07ZM666.59 640.35H691.52V647.81H666.59ZM247.87 647.51H256.38V654.97H247.87ZM420.28 647.51H428.79V654.97H420.28ZM674.8 647.51H691.52V654.97H674.8ZM428.49 654.67H437V662.13H428.49ZM683.01 654.67H699.73V662.13H683.01ZM256.08 661.83H264.59V669.29H256.08ZM691.22 661.83H699.73V669.29H691.22ZM256.08 668.99H264.59V676.45H256.08ZM436.7 668.99H445.21V676.45H436.7ZM699.43 668.99H707.94V676.45H699.43ZM256.08 676.15H264.59V683.61H256.08ZM444.91 676.15H453.43V683.61H444.91ZM699.43 676.15H707.94V683.61H699.43ZM444.91 683.31H453.43V690.77H444.91ZM707.64 683.31H716.15V690.77H707.64ZM453.12 690.48H461.64V697.94H453.12ZM707.64 690.48H716.15V697.94H707.64ZM453.12 697.64H461.64V705.1H453.12ZM724.06 697.64H732.57V705.1H724.06ZM1077.1 697.64H1093.82V705.1H1077.1ZM453.12 704.8H461.64V712.26H453.12ZM748.69 704.8H757.2V712.26H748.69ZM1052.47 704.8H1102.03V712.26H1052.47ZM453.12 711.96H461.64V719.42H453.12ZM1027.84 711.96H1044.56V719.42H1027.84ZM1093.52 711.96H1110.24V719.42H1093.52ZM453.12 719.12H461.64V726.58H453.12ZM814.37 719.12H847.51V726.58H814.37ZM986.79 719.12H1011.72V726.58H986.79ZM1101.73 719.12H1110.24V726.58H1101.73ZM453.12 726.28H461.64V733.74H453.12ZM1101.73 726.28H1110.24V733.74H1101.73ZM1101.73 733.44H1110.24V740.9H1101.73ZM444.91 740.6H453.43V748.06H444.91ZM1101.73 740.6H1110.24V748.06H1101.73ZM436.7 747.76H445.21V755.22H436.7ZM1101.73 747.76H1110.24V755.22H1101.73ZM428.49 754.92H437V762.38H428.49ZM1101.73 754.92H1110.24V762.38H1101.73ZM412.07 762.08H420.58V769.54H412.07ZM1093.52 762.08H1102.03V769.54H1093.52ZM395.65 769.24H404.16V776.7H395.65ZM346.39 776.4H379.53V783.86H346.39ZM1052.47 797.88H1060.98V805.34H1052.47ZM1044.26 805.04H1052.77V812.5H1044.26ZM1027.84 812.2H1036.35V819.66H1027.84ZM1003.21 819.36H1011.72V826.82H1003.21ZM962.15 826.52H970.66V833.98H962.15ZM896.47 833.68H921.4V841.14H896.47ZM863.63 840.84H872.14V848.3H863.63ZM830.79 848H839.3V855.46H830.79ZM765.11 855.16H773.62V862.62H765.11ZM691.22 862.32H699.73V869.78H691.22ZM666.59 869.48H675.1V876.94H666.59ZM633.75 876.64H642.26V884.1H633.75ZM592.7 883.8H609.42V891.26H592.7ZM568.07 890.96H576.58V898.42H568.07Z"/>
<path fill="#80ce69" d="M970.36 67.54H978.87V75H970.36ZM986.79 74.7H995.3V82.16H986.79ZM995 81.86H1003.51V89.32H995ZM1003.21 89.02H1019.93V96.48H1003.21ZM1011.42 96.18H1028.14V103.64H1011.42ZM1019.63 103.34H1036.35V110.8H1019.63ZM1036.05 110.5H1052.77V117.96H1036.05ZM1052.47 117.66H1060.98V125.12H1052.47ZM888.26 139.14H946.03V146.6H888.26ZM592.7 146.3H617.63V153.76H592.7ZM650.17 146.3H699.73V153.76H650.17ZM847.21 146.3H880.35V153.76H847.21ZM945.73 146.3H954.24V153.76H945.73ZM568.07 153.46H584.79V160.92H568.07ZM953.94 153.46H970.66V160.92H953.94ZM551.65 160.62H568.37V168.08H551.65ZM962.15 160.62H978.87V168.08H962.15ZM535.23 167.78H551.95V175.24H535.23ZM978.57 167.78H987.09V175.24H978.57ZM527.02 174.94H543.74V182.4H527.02ZM986.79 174.94H995.3V182.4H986.79ZM527.02 182.1H535.53V189.56H527.02ZM986.79 182.1H995.3V189.56H986.79ZM518.81 189.26H527.32V196.72H518.81ZM510.6 196.42H527.32V203.88H510.6ZM995 196.42H1003.51V203.88H995ZM510.6 203.58H519.11V211.04H510.6ZM995 203.58H1003.51V211.04H995ZM510.6 210.74H519.11V218.2H510.6ZM502.39 217.9H519.11V225.36H502.39ZM1003.21 217.9H1011.72V225.36H1003.21ZM502.39 225.06H510.9V232.53H502.39ZM1011.42 225.06H1019.93V232.53H1011.42ZM502.39 232.22H510.9V239.69H502.39ZM1011.42 232.22H1019.93V239.69H1011.42ZM494.18 239.39H510.9V246.85H494.18ZM494.18 246.55H502.69V254.01H494.18ZM485.97 253.71H494.48V261.17H485.97ZM453.12 260.87H478.06V268.33H453.12ZM1019.63 260.87H1028.14V268.33H1019.63ZM1019.63 268.03H1028.14V275.49H1019.63ZM1183.83 268.03H1192.34V275.49H1183.83ZM428.49 275.19H437V282.65H428.49ZM1019.63 275.19H1028.14V282.65H1019.63ZM420.28 282.35H428.79V289.81H420.28ZM1027.84 282.35H1036.35V289.81H1027.84ZM1027.84 289.51H1036.35V296.97H1027.84ZM1027.84 296.67H1036.35V304.13H1027.84ZM1027.84 303.83H1036.35V311.29H1027.84ZM387.44 310.99H395.95V318.45H387.44ZM1027.84 310.99H1036.35V318.45H1027.84ZM1027.84 318.15H1036.35V325.61H1027.84ZM362.81 325.31H371.32V332.77H362.81ZM1027.84 325.31H1036.35V332.77H1027.84ZM346.39 332.47H354.9V339.93H346.39ZM1027.84 332.47H1044.56V339.93H1027.84ZM338.18 339.63H346.69V347.09H338.18ZM1036.05 339.63H1052.77V347.09H1036.05ZM329.97 346.79H338.48V354.25H329.97ZM1044.26 346.79H1060.98V354.25H1044.26ZM313.55 353.95H322.06V361.41H313.55ZM1060.68 353.95H1077.4V361.41H1060.68ZM305.34 361.11H313.85V368.57H305.34ZM1068.89 361.11H1085.61V368.57H1068.89ZM297.13 368.27H305.64V375.73H297.13ZM1077.1 368.27H1085.61V375.73H1077.1ZM288.92 375.43H297.43V382.89H288.92ZM1077.1 375.43H1085.61V382.89H1077.1ZM1077.1 382.59H1085.61V390.05H1077.1ZM280.71 389.75H289.22V397.21H280.71ZM1085.31 389.75H1093.82V397.21H1085.31ZM272.5 396.91H281.01V404.37H272.5ZM1093.52 396.91H1102.03V404.37H1093.52ZM264.29 404.07H272.8V411.53H264.29ZM765.11 404.07H831.09V411.53H765.11ZM1093.52 404.07H1110.24V411.53H1093.52ZM264.29 411.23H272.8V418.69H264.29ZM740.48 411.23H765.41V418.69H740.48ZM797.95 411.23H855.72V418.69H797.95ZM1101.73 411.23H1110.24V418.69H1101.73ZM256.08 418.39H264.59V425.85H256.08ZM732.27 418.39H748.99V425.85H732.27ZM822.58 418.39H863.93V425.85H822.58ZM1101.73 418.39H1110.24V425.85H1101.73ZM256.08 425.55H264.59V433.01H256.08ZM724.06 425.55H740.78V433.01H724.06ZM830.79 425.55H855.72V433.01H830.79ZM1101.73 425.55H1110.24V433.01H1101.73ZM724.06 432.71H732.57V440.17H724.06ZM830.79 432.71H855.72V440.17H830.79ZM1109.94 432.71H1118.45V440.17H1109.94ZM715.85 439.87H724.36V447.33H715.85ZM830.79 439.87H847.51V447.33H830.79ZM1109.94 439.87H1118.45V447.33H1109.94ZM247.87 447.03H256.38V454.49H247.87ZM715.85 447.03H724.36V454.49H715.85ZM822.58 447.03H839.3V454.49H822.58ZM1109.94 447.03H1118.45V454.49H1109.94ZM247.87 454.19H256.38V461.65H247.87ZM707.64 454.19H716.15V461.65H707.64ZM822.58 454.19H831.09V461.65H822.58ZM1118.15 454.19H1126.66V461.65H1118.15ZM247.87 461.35H256.38V468.81H247.87ZM707.64 461.35H716.15V468.81H707.64ZM814.37 461.35H831.09V468.81H814.37ZM1118.15 461.35H1126.66V468.81H1118.15ZM699.43 468.51H707.94V475.97H699.43ZM806.16 468.51H822.88V475.97H806.16ZM1118.15 468.51H1126.66V475.97H1118.15ZM699.43 475.67H707.94V483.13H699.43ZM797.95 475.67H814.67V483.13H797.95ZM1118.15 475.67H1126.66V483.13H1118.15ZM691.22 482.83H707.94V490.29H691.22ZM797.95 482.83H806.46V490.29H797.95ZM1118.15 482.83H1126.66V490.29H1118.15ZM256.08 489.99H264.59V497.45H256.08ZM691.22 489.99H699.73V497.45H691.22ZM789.74 489.99H806.46V497.45H789.74ZM1118.15 489.99H1126.66V497.45H1118.15ZM256.08 497.15H264.59V504.61H256.08ZM691.22 497.15H699.73V504.61H691.22ZM781.53 497.15H798.25V504.61H781.53ZM1118.15 497.15H1126.66V504.61H1118.15ZM256.08 504.31H264.59V511.77H256.08ZM683.01 504.31H699.73V511.77H683.01ZM773.32 504.31H790.04V511.77H773.32ZM1118.15 504.31H1126.66V511.77H1118.15ZM674.8 511.47H691.52V518.93H674.8ZM765.11 511.47H781.83V518.93H765.11ZM1118.15 511.47H1126.66V518.93H1118.15ZM264.29 518.63H272.8V526.09H264.29ZM674.8 518.63H691.52V526.09H674.8ZM756.9 518.63H773.62V526.09H756.9ZM1118.15 518.63H1134.87V526.09H1118.15ZM264.29 525.79H272.8V533.25H264.29ZM666.59 525.79H691.52V533.25H666.59ZM756.9 525.79H765.41V533.25H756.9ZM1126.36 525.79H1134.87V533.25H1126.36ZM666.59 532.95H691.52V540.41H666.59ZM748.69 532.95H765.41V540.41H748.69ZM1126.36 532.95H1143.08V540.41H1126.36ZM272.5 540.11H281.01V547.57H272.5ZM658.38 540.11H691.52V547.57H658.38ZM748.69 540.11H757.2V547.57H748.69ZM1126.36 540.11H1143.08V547.57H1126.36ZM1208.46 540.11H1225.18V547.57H1208.46ZM272.5 547.27H281.01V554.73H272.5ZM658.38 547.27H699.73V554.73H658.38ZM740.48 547.27H757.2V554.73H740.48ZM1134.57 547.27H1208.76V554.73H1134.57ZM272.5 554.43H281.01V561.89H272.5ZM658.38 554.43H757.2V561.89H658.38ZM1142.78 554.43H1175.92V561.89H1142.78ZM272.5 561.59H281.01V569.05H272.5ZM600.91 561.59H634.05V569.05H600.91ZM674.8 561.59H740.78V569.05H674.8ZM272.5 568.75H281.01V576.21H272.5ZM543.44 568.75H560.16V576.21H543.44ZM584.49 568.75H634.05V576.21H584.49ZM272.5 575.91H281.01V583.37H272.5ZM527.02 575.91H543.74V583.37H527.02ZM600.91 575.91H634.05V583.37H600.91ZM272.5 583.07H281.01V590.53H272.5ZM461.34 583.07H519.11V590.53H461.34ZM609.12 583.07H625.84V590.53H609.12ZM264.29 590.23H272.8V597.69H264.29ZM436.7 590.23H461.64V597.69H436.7ZM609.12 590.23H625.84V597.69H609.12ZM264.29 597.39H272.8V604.85H264.29ZM412.07 597.39H437V604.85H412.07ZM609.12 597.39H642.26V604.85H609.12ZM256.08 604.55H264.59V612.01H256.08ZM403.86 604.55H420.58V612.01H403.86ZM609.12 604.55H650.47V612.01H609.12ZM247.87 611.71H256.38V619.17H247.87ZM403.86 611.71H412.37V619.17H403.86ZM625.54 611.71H658.68V619.17H625.54ZM247.87 618.87H256.38V626.33H247.87ZM403.86 618.87H412.37V626.33H403.86ZM641.96 618.87H658.68V626.33H641.96ZM247.87 626.03H256.38V633.49H247.87ZM650.17 626.03H666.89V633.49H650.17ZM247.87 633.19H256.38V640.65H247.87ZM412.07 633.19H420.58V640.65H412.07ZM650.17 633.19H666.89V640.65H650.17ZM420.28 640.35H428.79V647.81H420.28ZM658.38 640.35H666.89V647.81H658.38ZM428.49 647.51H437V654.97H428.49ZM666.59 647.51H675.1V654.97H666.59ZM247.87 654.67H256.38V662.13H247.87ZM674.8 654.67H683.31V662.13H674.8ZM247.87 661.83H256.38V669.29H247.87ZM436.7 661.83H445.21V669.29H436.7ZM683.01 661.83H691.52V669.29H683.01ZM444.91 668.99H453.43V676.45H444.91ZM691.22 668.99H699.73V676.45H691.22ZM691.22 676.15H699.73V683.61H691.22ZM453.12 683.31H461.64V690.77H453.12ZM699.43 683.31H707.94V690.77H699.43ZM461.34 697.64H469.85V705.1H461.34ZM715.85 697.64H724.36V705.1H715.85ZM461.34 704.8H469.85V712.26H461.34ZM740.48 704.8H748.99V712.26H740.48ZM461.34 711.96H469.85V719.42H461.34ZM765.11 711.96H773.62V719.42H765.11ZM1044.26 711.96H1093.82V719.42H1044.26ZM461.34 719.12H469.85V726.58H461.34ZM789.74 719.12H814.67V726.58H789.74ZM1011.42 719.12H1036.35V726.58H1011.42ZM1068.89 719.12H1102.03V726.58H1068.89ZM896.47 726.28H987.09V733.74H896.47ZM1085.31 726.28H1102.03V733.74H1085.31ZM453.12 733.44H461.64V740.9H453.12ZM1093.52 733.44H1102.03V740.9H1093.52ZM453.12 740.6H461.64V748.06H453.12ZM1093.52 740.6H1102.03V748.06H1093.52ZM444.91 747.76H453.43V755.22H444.91ZM1093.52 747.76H1102.03V755.22H1093.52ZM436.7 754.92H445.21V762.38H436.7ZM1093.52 754.92H1102.03V762.38H1093.52ZM420.28 762.08H428.79V769.54H420.28ZM1085.31 762.08H1093.82V769.54H1085.31ZM403.86 769.24H412.37V776.7H403.86ZM1085.31 769.24H1093.82V776.7H1085.31ZM379.23 776.4H395.95V783.86H379.23ZM1077.1 776.4H1085.61V783.86H1077.1ZM1068.89 783.56H1077.4V791.02H1068.89ZM1060.68 790.72H1069.19V798.18H1060.68ZM1044.26 797.88H1052.77V805.34H1044.26ZM1036.05 805.04H1044.56V812.5H1036.05ZM1011.42 812.2H1028.14V819.66H1011.42ZM986.79 819.36H1003.51V826.82H986.79ZM945.73 826.52H962.45V833.98H945.73ZM888.26 833.68H896.77V841.14H888.26ZM855.42 840.84H863.93V848.3H855.42ZM814.37 848H831.09V855.46H814.37ZM748.69 855.16H765.41V862.62H748.69ZM658.38 869.48H666.89V876.94H658.38ZM625.54 876.64H634.05V884.1H625.54ZM584.49 883.8H593V891.26H584.49Z"/>
<path fill="#7ccc5a" d="M937.52 53.22H946.03V60.68H937.52ZM945.73 60.38H962.45V67.84H945.73ZM953.94 67.54H970.66V75H953.94ZM962.15 74.7H987.09V82.16H962.15ZM978.57 81.86H995.3V89.32H978.57ZM986.79 89.02H1003.51V96.48H986.79ZM995 96.18H1011.72V103.64H995ZM1003.21 103.34H1019.93V110.8H1003.21ZM1019.63 110.5H1036.35V117.96H1019.63ZM1036.05 117.66H1052.77V125.12H1036.05ZM1060.68 124.82H1069.19V132.28H1060.68ZM896.47 131.98H946.03V139.44H896.47ZM1068.89 131.98H1077.4V139.44H1068.89ZM600.91 139.14H650.47V146.6H600.91ZM871.84 139.14H888.56V146.6H871.84ZM945.73 139.14H954.24V146.6H945.73ZM568.07 146.3H593V153.76H568.07ZM699.43 146.3H757.2V153.76H699.43ZM781.53 146.3H847.51V153.76H781.53ZM953.94 146.3H970.66V153.76H953.94ZM543.44 153.46H568.37V160.92H543.44ZM970.36 153.46H978.87V160.92H970.36ZM535.23 160.62H551.95V168.08H535.23ZM978.57 160.62H987.09V168.08H978.57ZM527.02 167.78H535.53V175.24H527.02ZM986.79 167.78H995.3V175.24H986.79ZM518.81 174.94H527.32V182.4H518.81ZM995 174.94H1003.51V182.4H995ZM510.6 182.1H527.32V189.56H510.6ZM995 182.1H1003.51V189.56H995ZM510.6 189.26H519.11V196.72H510.6ZM995 189.26H1003.51V196.72H995ZM502.39 196.42H510.9V203.88H502.39ZM502.39 203.58H510.9V211.04H502.39ZM1003.21 203.58H1011.72V211.04H1003.21ZM494.18 210.74H510.9V218.2H494.18ZM1003.21 210.74H1011.72V218.2H1003.21ZM494.18 217.9H502.69V225.36H494.18ZM1011.42 217.9H1019.93V225.36H1011.42ZM494.18 225.06H502.69V232.53H494.18ZM1019.63 225.06H1028.14V232.53H1019.63ZM485.97 232.22H502.69V239.69H485.97ZM1019.63 232.22H1028.14V239.69H1019.63ZM485.97 239.39H494.48V246.85H485.97ZM1019.63 239.39H1028.14V246.85H1019.63ZM1167.41 239.39H1175.92V246.85H1167.41ZM477.76 246.55H494.48V254.01H477.76ZM1019.63 246.55H1028.14V254.01H1019.63ZM453.12 253.71H486.27V261.17H453.12ZM1019.63 253.71H1028.14V261.17H1019.63ZM1175.62 253.71H1184.13V261.17H1175.62ZM444.91 260.87H453.43V268.33H444.91ZM1175.62 260.87H1184.13V268.33H1175.62ZM436.7 268.03H445.21V275.49H436.7ZM1027.84 268.03H1036.35V275.49H1027.84ZM1027.84 275.19H1036.35V282.65H1027.84ZM1183.83 275.19H1192.34V282.65H1183.83ZM1036.05 282.35H1044.56V289.81H1036.05ZM412.07 289.51H420.58V296.97H412.07ZM1036.05 289.51H1044.56V296.97H1036.05ZM1192.04 289.51H1200.55V296.97H1192.04ZM403.86 296.67H412.37V304.13H403.86ZM1036.05 296.67H1044.56V304.13H1036.05ZM395.65 303.83H404.16V311.29H395.65ZM1036.05 303.83H1044.56V311.29H1036.05ZM1200.25 303.83H1208.76V311.29H1200.25ZM379.23 310.99H387.74V318.45H379.23ZM1036.05 310.99H1044.56V318.45H1036.05ZM371.02 318.15H379.53V325.61H371.02ZM1036.05 318.15H1044.56V325.61H1036.05ZM354.6 325.31H363.11V332.77H354.6ZM1036.05 325.31H1044.56V332.77H1036.05ZM338.18 332.47H346.69V339.93H338.18ZM1044.26 332.47H1052.77V339.93H1044.26ZM329.97 339.63H338.48V347.09H329.97ZM1052.47 339.63H1060.98V347.09H1052.47ZM321.76 346.79H330.27V354.25H321.76ZM1060.68 346.79H1077.4V354.25H1060.68ZM305.34 353.95H313.85V361.41H305.34ZM1077.1 353.95H1085.61V361.41H1077.1ZM297.13 361.11H305.64V368.57H297.13ZM1085.31 361.11H1093.82V368.57H1085.31ZM288.92 368.27H297.43V375.73H288.92ZM1085.31 368.27H1093.82V375.73H1085.31ZM1085.31 375.43H1093.82V382.89H1085.31ZM280.71 382.59H289.22V390.05H280.71ZM1085.31 382.59H1093.82V390.05H1085.31ZM272.5 389.75H281.01V397.21H272.5ZM1093.52 389.75H1102.03V397.21H1093.52ZM264.29 396.91H272.8V404.37H264.29ZM1101.73 396.91H1110.24V404.37H1101.73ZM1109.94 404.07H1118.45V411.53H1109.94ZM256.08 411.23H264.59V418.69H256.08ZM765.11 411.23H798.25V418.69H765.11ZM1109.94 411.23H1118.45V418.69H1109.94ZM748.69 418.39H822.88V425.85H748.69ZM1109.94 418.39H1118.45V425.85H1109.94ZM247.87 425.55H256.38V433.01H247.87ZM740.48 425.55H757.2V433.01H740.48ZM797.95 425.55H831.09V433.01H797.95ZM1109.94 425.55H1118.45V433.01H1109.94ZM247.87 432.71H256.38V440.17H247.87ZM732.27 432.71H748.99V440.17H732.27ZM806.16 432.71H831.09V440.17H806.16ZM1118.15 432.71H1126.66V440.17H1118.15ZM247.87 439.87H256.38V447.33H247.87ZM724.06 439.87H740.78V447.33H724.06ZM806.16 439.87H831.09V447.33H806.16ZM1118.15 439.87H1126.66V447.33H1118.15ZM724.06 447.03H732.57V454.49H724.06ZM806.16 447.03H822.88V454.49H806.16ZM1118.15 447.03H1126.66V454.49H1118.15ZM715.85 454.19H732.57V461.65H715.85ZM806.16 454.19H822.88V461.65H806.16ZM1126.36 454.19H1134.87V461.65H1126.36ZM715.85 461.35H724.36V468.81H715.85ZM797.95 461.35H814.67V468.81H797.95ZM1126.36 461.35H1134.87V468.81H1126.36ZM247.87 468.51H256.38V475.97H247.87ZM707.64 468.51H724.36V475.97H707.64ZM789.74 468.51H806.46V475.97H789.74ZM1126.36 468.51H1134.87V475.97H1126.36ZM247.87 475.67H256.38V483.13H247.87ZM707.64 475.67H724.36V483.13H707.64ZM789.74 475.67H798.25V483.13H789.74ZM1126.36 475.67H1134.87V483.13H1126.36ZM247.87 482.83H256.38V490.29H247.87ZM707.64 482.83H716.15V490.29H707.64ZM781.53 482.83H798.25V490.29H781.53ZM247.87 489.99H256.38V497.45H247.87ZM699.43 489.99H716.15V497.45H699.43ZM781.53 489.99H790.04V497.45H781.53ZM247.87 497.15H256.38V504.61H247.87ZM699.43 497.15H716.15V504.61H699.43ZM773.32 497.15H781.83V504.61H773.32ZM1126.36 497.15H1134.87V504.61H1126.36ZM699.43 504.31H716.15V511.77H699.43ZM756.9 504.31H773.62V511.77H756.9ZM1126.36 504.31H1134.87V511.77H1126.36ZM256.08 511.47H264.59V518.93H256.08ZM691.22 511.47H716.15V518.93H691.22ZM748.69 511.47H765.41V518.93H748.69ZM1126.36 511.47H1134.87V518.93H1126.36ZM256.08 518.63H264.59V526.09H256.08ZM691.22 518.63H716.15V526.09H691.22ZM740.48 518.63H757.2V526.09H740.48ZM1134.57 518.63H1143.08V526.09H1134.57ZM256.08 525.79H264.59V533.25H256.08ZM691.22 525.79H716.15V533.25H691.22ZM732.27 525.79H757.2V533.25H732.27ZM1134.57 525.79H1151.29V533.25H1134.57ZM1224.88 525.79H1233.39V533.25H1224.88ZM264.29 532.95H272.8V540.41H264.29ZM691.22 532.95H748.99V540.41H691.22ZM1142.78 532.95H1159.5V540.41H1142.78ZM1216.67 532.95H1225.18V540.41H1216.67ZM264.29 540.11H272.8V547.57H264.29ZM691.22 540.11H748.99V547.57H691.22ZM1142.78 540.11H1208.76V547.57H1142.78ZM264.29 547.27H272.8V554.73H264.29ZM699.43 547.27H740.78V554.73H699.43ZM264.29 554.43H272.8V561.89H264.29ZM559.86 568.75H584.79V576.21H559.86ZM264.29 575.91H272.8V583.37H264.29ZM543.44 575.91H551.95V583.37H543.44ZM584.49 575.91H601.21V583.37H584.49ZM264.29 583.07H272.8V590.53H264.29ZM518.81 583.07H535.53V590.53H518.81ZM592.7 583.07H609.42V590.53H592.7ZM256.08 590.23H264.59V597.69H256.08ZM461.34 590.23H519.11V597.69H461.34ZM592.7 590.23H609.42V597.69H592.7ZM256.08 597.39H264.59V604.85H256.08ZM436.7 597.39H478.06V604.85H436.7ZM592.7 597.39H609.42V604.85H592.7ZM247.87 604.55H256.38V612.01H247.87ZM420.28 604.55H445.21V612.01H420.28ZM592.7 604.55H609.42V612.01H592.7ZM412.07 611.71H428.79V619.17H412.07ZM592.7 611.71H625.84V619.17H592.7ZM239.66 618.87H248.17V626.33H239.66ZM412.07 618.87H420.58V626.33H412.07ZM609.12 618.87H642.26V626.33H609.12ZM239.66 626.03H248.17V633.49H239.66ZM412.07 626.03H428.79V633.49H412.07ZM625.54 626.03H650.47V633.49H625.54ZM239.66 633.19H248.17V640.65H239.66ZM420.28 633.19H428.79V640.65H420.28ZM633.75 633.19H650.47V640.65H633.75ZM239.66 640.35H248.17V647.81H239.66ZM428.49 640.35H437V647.81H428.49ZM641.96 640.35H658.68V647.81H641.96ZM239.66 647.51H248.17V654.97H239.66ZM436.7 647.51H445.21V654.97H436.7ZM641.96 647.51H666.89V654.97H641.96ZM436.7 654.67H445.21V662.13H436.7ZM650.17 654.67H675.1V662.13H650.17ZM444.91 661.83H453.43V669.29H444.91ZM658.38 661.83H683.31V669.29H658.38ZM453.12 668.99H461.64V676.45H453.12ZM674.8 668.99H691.52V676.45H674.8ZM453.12 676.15H469.85V683.61H453.12ZM683.01 676.15H691.52V683.61H683.01ZM461.34 683.31H469.85V690.77H461.34ZM691.22 683.31H699.73V690.77H691.22ZM461.34 690.48H469.85V697.94H461.34ZM691.22 690.48H707.94V697.94H691.22ZM469.55 697.64H478.06V705.1H469.55ZM707.64 697.64H716.15V705.1H707.64ZM469.55 704.8H478.06V712.26H469.55ZM724.06 704.8H740.78V712.26H724.06ZM469.55 711.96H478.06V719.42H469.55ZM756.9 711.96H765.41V719.42H756.9ZM469.55 719.12H478.06V726.58H469.55ZM781.53 719.12H790.04V726.58H781.53ZM1036.05 719.12H1069.19V726.58H1036.05ZM461.34 726.28H469.85V733.74H461.34ZM871.84 726.28H896.77V733.74H871.84ZM986.79 726.28H1036.35V733.74H986.79ZM1052.47 726.28H1085.61V733.74H1052.47ZM461.34 733.44H469.85V740.9H461.34ZM1077.1 733.44H1093.82V740.9H1077.1ZM1085.31 740.6H1093.82V748.06H1085.31ZM453.12 747.76H461.64V755.22H453.12ZM1085.31 747.76H1093.82V755.22H1085.31ZM444.91 754.92H453.43V762.38H444.91ZM1077.1 754.92H1093.82V762.38H1077.1ZM428.49 762.08H437V769.54H428.49ZM1077.1 762.08H1085.61V769.54H1077.1ZM412.07 769.24H420.58V776.7H412.07ZM1077.1 769.24H1085.61V776.7H1077.1ZM395.65 776.4H404.16V783.86H395.65ZM1068.89 776.4H1077.4V783.86H1068.89ZM354.6 783.56H363.11V791.02H354.6ZM1060.68 783.56H1069.19V791.02H1060.68ZM1052.47 790.72H1060.98V798.18H1052.47ZM1036.05 797.88H1044.56V805.34H1036.05ZM1027.84 805.04H1036.35V812.5H1027.84ZM1003.21 812.2H1011.72V819.66H1003.21ZM978.57 819.36H987.09V826.82H978.57ZM937.52 826.52H946.03V833.98H937.52ZM880.05 833.68H888.56V841.14H880.05ZM806.16 848H814.67V855.46H806.16ZM740.48 855.16H748.99V862.62H740.48ZM683.01 862.32H691.52V869.78H683.01ZM650.17 869.48H658.68V876.94H650.17ZM617.33 876.64H625.84V884.1H617.33ZM568.07 883.8H584.79V891.26H568.07Z"/>
<path fill="#80cd4e" d="M904.68 38.9H913.19V46.36H904.68ZM912.89 46.06H929.61V53.52H912.89ZM921.1 53.22H937.82V60.68H921.1ZM937.52 60.38H946.03V67.84H937.52ZM937.52 67.54H954.24V75H937.52ZM945.73 74.7H962.45V82.16H945.73ZM945.73 81.86H978.87V89.32H945.73ZM945.73 89.02H987.09V96.48H945.73ZM978.57 96.18H995.3V103.64H978.57ZM986.79 103.34H1003.51V110.8H986.79ZM1003.21 110.5H1019.93V117.96H1003.21ZM921.1 117.66H946.03V125.12H921.1ZM1019.63 117.66H1036.35V125.12H1019.63ZM904.68 124.82H954.24V132.28H904.68ZM1044.26 124.82H1060.98V132.28H1044.26ZM617.33 131.98H634.05V139.44H617.33ZM880.05 131.98H896.77V139.44H880.05ZM945.73 131.98H962.45V139.44H945.73ZM1060.68 131.98H1069.19V139.44H1060.68ZM568.07 139.14H601.21V146.6H568.07ZM650.17 139.14H699.73V146.6H650.17ZM839 139.14H872.14V146.6H839ZM953.94 139.14H970.66V146.6H953.94ZM1068.89 139.14H1085.61V146.6H1068.89ZM543.44 146.3H568.37V153.76H543.44ZM756.9 146.3H781.83V153.76H756.9ZM970.36 146.3H978.87V153.76H970.36ZM1085.31 146.3H1093.82V153.76H1085.31ZM535.23 153.46H543.74V160.92H535.23ZM978.57 153.46H995.3V160.92H978.57ZM1093.52 153.46H1102.03V160.92H1093.52ZM527.02 160.62H535.53V168.08H527.02ZM986.79 160.62H1003.51V168.08H986.79ZM1101.73 160.62H1110.24V168.08H1101.73ZM518.81 167.78H527.32V175.24H518.81ZM995 167.78H1003.51V175.24H995ZM1109.94 167.78H1118.45V175.24H1109.94ZM510.6 174.94H519.11V182.4H510.6ZM1118.15 174.94H1126.66V182.4H1118.15ZM502.39 182.1H510.9V189.56H502.39ZM1003.21 182.1H1011.72V189.56H1003.21ZM502.39 189.26H510.9V196.72H502.39ZM1003.21 189.26H1011.72V196.72H1003.21ZM494.18 196.42H502.69V203.88H494.18ZM1003.21 196.42H1011.72V203.88H1003.21ZM494.18 203.58H502.69V211.04H494.18ZM485.97 210.74H494.48V218.2H485.97ZM1011.42 210.74H1019.93V218.2H1011.42ZM485.97 217.9H494.48V225.36H485.97ZM477.76 225.06H494.48V232.53H477.76ZM477.76 232.22H486.27V239.69H477.76ZM1027.84 232.22H1036.35V239.69H1027.84ZM1159.2 232.22H1167.71V239.69H1159.2ZM469.55 239.39H486.27V246.85H469.55ZM1027.84 239.39H1036.35V246.85H1027.84ZM453.12 246.55H478.06V254.01H453.12ZM1027.84 246.55H1036.35V254.01H1027.84ZM1167.41 246.55H1175.92V254.01H1167.41ZM444.91 253.71H453.43V261.17H444.91ZM1027.84 253.71H1036.35V261.17H1027.84ZM436.7 260.87H445.21V268.33H436.7ZM1027.84 260.87H1036.35V268.33H1027.84ZM428.49 268.03H437V275.49H428.49ZM1036.05 268.03H1044.56V275.49H1036.05ZM1175.62 268.03H1184.13V275.49H1175.62ZM420.28 275.19H428.79V282.65H420.28ZM1036.05 275.19H1044.56V282.65H1036.05ZM412.07 282.35H420.58V289.81H412.07ZM1044.26 282.35H1052.77V289.81H1044.26ZM1183.83 282.35H1192.34V289.81H1183.83ZM403.86 289.51H412.37V296.97H403.86ZM1044.26 289.51H1052.77V296.97H1044.26ZM395.65 296.67H404.16V304.13H395.65ZM1044.26 296.67H1052.77V304.13H1044.26ZM1192.04 296.67H1200.55V304.13H1192.04ZM387.44 303.83H395.95V311.29H387.44ZM1044.26 303.83H1052.77V311.29H1044.26ZM371.02 310.99H379.53V318.45H371.02ZM1044.26 310.99H1052.77V318.45H1044.26ZM1200.25 310.99H1208.76V318.45H1200.25ZM362.81 318.15H371.32V325.61H362.81ZM1044.26 318.15H1052.77V325.61H1044.26ZM346.39 325.31H354.9V332.77H346.39ZM1044.26 325.31H1052.77V332.77H1044.26ZM329.97 332.47H338.48V339.93H329.97ZM1052.47 332.47H1069.19V339.93H1052.47ZM321.76 339.63H330.27V347.09H321.76ZM1060.68 339.63H1077.4V347.09H1060.68ZM305.34 346.79H322.06V354.25H305.34ZM1077.1 346.79H1085.61V354.25H1077.1ZM297.13 353.95H305.64V361.41H297.13ZM1085.31 353.95H1093.82V361.41H1085.31ZM288.92 361.11H297.43V368.57H288.92ZM280.71 368.27H289.22V375.73H280.71ZM280.71 375.43H289.22V382.89H280.71ZM1093.52 375.43H1102.03V382.89H1093.52ZM272.5 382.59H281.01V390.05H272.5ZM1093.52 382.59H1102.03V390.05H1093.52ZM264.29 389.75H272.8V397.21H264.29ZM1101.73 389.75H1110.24V397.21H1101.73ZM256.08 396.91H264.59V404.37H256.08ZM1109.94 396.91H1118.45V404.37H1109.94ZM256.08 404.07H264.59V411.53H256.08ZM247.87 411.23H256.38V418.69H247.87ZM1118.15 411.23H1126.66V418.69H1118.15ZM247.87 418.39H256.38V425.85H247.87ZM1118.15 418.39H1126.66V425.85H1118.15ZM239.66 425.55H248.17V433.01H239.66ZM756.9 425.55H798.25V433.01H756.9ZM1118.15 425.55H1126.66V433.01H1118.15ZM239.66 432.71H248.17V440.17H239.66ZM748.69 432.71H806.46V440.17H748.69ZM1126.36 432.71H1134.87V440.17H1126.36ZM239.66 439.87H248.17V447.33H239.66ZM740.48 439.87H757.2V447.33H740.48ZM781.53 439.87H806.46V447.33H781.53ZM1126.36 439.87H1134.87V447.33H1126.36ZM239.66 447.03H248.17V454.49H239.66ZM732.27 447.03H748.99V454.49H732.27ZM789.74 447.03H806.46V454.49H789.74ZM1126.36 447.03H1134.87V454.49H1126.36ZM239.66 454.19H248.17V461.65H239.66ZM732.27 454.19H748.99V461.65H732.27ZM789.74 454.19H806.46V461.65H789.74ZM1134.57 454.19H1143.08V461.65H1134.57ZM239.66 461.35H248.17V468.81H239.66ZM724.06 461.35H740.78V468.81H724.06ZM781.53 461.35H798.25V468.81H781.53ZM1134.57 461.35H1143.08V468.81H1134.57ZM239.66 468.51H248.17V475.97H239.66ZM724.06 468.51H740.78V475.97H724.06ZM773.32 468.51H790.04V475.97H773.32ZM1134.57 468.51H1143.08V475.97H1134.57ZM239.66 475.67H248.17V483.13H239.66ZM724.06 475.67H740.78V483.13H724.06ZM773.32 475.67H790.04V483.13H773.32ZM1134.57 475.67H1143.08V483.13H1134.57ZM239.66 482.83H248.17V490.29H239.66ZM715.85 482.83H740.78V490.29H715.85ZM765.11 482.83H781.83V490.29H765.11ZM1126.36 482.83H1134.87V490.29H1126.36ZM239.66 489.99H248.17V497.45H239.66ZM715.85 489.99H740.78V497.45H715.85ZM756.9 489.99H781.83V497.45H756.9ZM1126.36 489.99H1134.87V497.45H1126.36ZM239.66 497.15H248.17V504.61H239.66ZM715.85 497.15H773.62V504.61H715.85ZM1134.57 497.15H1143.08V504.61H1134.57ZM247.87 504.31H256.38V511.77H247.87ZM715.85 504.31H757.2V511.77H715.85ZM1134.57 504.31H1143.08V511.77H1134.57ZM247.87 511.47H256.38V518.93H247.87ZM715.85 511.47H748.99V518.93H715.85ZM1134.57 511.47H1151.29V518.93H1134.57ZM247.87 518.63H256.38V526.09H247.87ZM715.85 518.63H740.78V526.09H715.85ZM1142.78 518.63H1151.29V526.09H1142.78ZM1224.88 518.63H1233.39V526.09H1224.88ZM715.85 525.79H732.57V533.25H715.85ZM1150.99 525.79H1167.71V533.25H1150.99ZM1216.67 525.79H1225.18V533.25H1216.67ZM256.08 532.95H264.59V540.41H256.08ZM1159.2 532.95H1216.97V540.41H1159.2ZM256.08 540.11H264.59V547.57H256.08ZM256.08 547.27H264.59V554.73H256.08ZM264.29 561.59H272.8V569.05H264.29ZM264.29 568.75H272.8V576.21H264.29ZM551.65 575.91H584.79V583.37H551.65ZM256.08 583.07H264.59V590.53H256.08ZM535.23 583.07H560.16V590.53H535.23ZM568.07 583.07H593V590.53H568.07ZM247.87 590.23H256.38V597.69H247.87ZM518.81 590.23H543.74V597.69H518.81ZM576.28 590.23H593V597.69H576.28ZM239.66 597.39H256.38V604.85H239.66ZM477.76 597.39H527.32V604.85H477.76ZM576.28 597.39H593V604.85H576.28ZM239.66 604.55H248.17V612.01H239.66ZM444.91 604.55H494.48V612.01H444.91ZM576.28 604.55H593V612.01H576.28ZM231.45 611.71H248.17V619.17H231.45ZM428.49 611.71H461.64V619.17H428.49ZM576.28 611.71H593V619.17H576.28ZM231.45 618.87H239.96V626.33H231.45ZM420.28 618.87H445.21V626.33H420.28ZM576.28 618.87H609.42V626.33H576.28ZM231.45 626.03H239.96V633.49H231.45ZM428.49 626.03H437V633.49H428.49ZM584.49 626.03H625.84V633.49H584.49ZM231.45 633.19H239.96V640.65H231.45ZM428.49 633.19H445.21V640.65H428.49ZM592.7 633.19H634.05V640.65H592.7ZM436.7 640.35H445.21V647.81H436.7ZM592.7 640.35H642.26V647.81H592.7ZM444.91 647.51H453.43V654.97H444.91ZM600.91 647.51H642.26V654.97H600.91ZM444.91 654.67H453.43V662.13H444.91ZM600.91 654.67H650.47V662.13H600.91ZM453.12 661.83H461.64V669.29H453.12ZM609.12 661.83H658.68V669.29H609.12ZM461.34 668.99H469.85V676.45H461.34ZM617.33 668.99H675.1V676.45H617.33ZM469.55 676.15H478.06V683.61H469.55ZM625.54 676.15H683.31V683.61H625.54ZM469.55 683.31H478.06V690.77H469.55ZM674.8 683.31H691.52V690.77H674.8ZM469.55 690.48H486.27V697.94H469.55ZM683.01 690.48H691.52V697.94H683.01ZM477.76 697.64H486.27V705.1H477.76ZM691.22 697.64H707.94V705.1H691.22ZM477.76 704.8H486.27V712.26H477.76ZM707.64 704.8H724.36V712.26H707.64ZM477.76 711.96H486.27V719.42H477.76ZM748.69 711.96H757.2V719.42H748.69ZM477.76 719.12H486.27V726.58H477.76ZM773.32 719.12H781.83V726.58H773.32ZM469.55 726.28H478.06V733.74H469.55ZM822.58 726.28H872.14V733.74H822.58ZM1036.05 726.28H1052.77V733.74H1036.05ZM469.55 733.44H478.06V740.9H469.55ZM945.73 733.44H995.3V740.9H945.73ZM1027.84 733.44H1077.4V740.9H1027.84ZM461.34 740.6H478.06V748.06H461.34ZM1060.68 740.6H1085.61V748.06H1060.68ZM461.34 747.76H469.85V755.22H461.34ZM1068.89 747.76H1085.61V755.22H1068.89ZM453.12 754.92H461.64V762.38H453.12ZM1068.89 754.92H1077.4V762.38H1068.89ZM436.7 762.08H445.21V769.54H436.7ZM1068.89 762.08H1077.4V769.54H1068.89ZM420.28 769.24H428.79V776.7H420.28ZM1060.68 769.24H1077.4V776.7H1060.68ZM403.86 776.4H412.37V783.86H403.86ZM1060.68 776.4H1069.19V783.86H1060.68ZM362.81 783.56H387.74V791.02H362.81ZM1052.47 783.56H1060.98V791.02H1052.47ZM1044.26 790.72H1052.77V798.18H1044.26ZM1027.84 797.88H1036.35V805.34H1027.84ZM1011.42 805.04H1028.14V812.5H1011.42ZM995 812.2H1003.51V819.66H995ZM962.15 819.36H978.87V826.82H962.15ZM929.31 826.52H937.82V833.98H929.31ZM871.84 833.68H880.35V841.14H871.84ZM847.21 840.84H855.72V848.3H847.21ZM789.74 848H806.46V855.46H789.74ZM724.06 855.16H740.78V862.62H724.06ZM641.96 869.48H650.47V876.94H641.96ZM600.91 876.64H617.63V884.1H600.91ZM559.86 883.8H568.37V891.26H559.86Z"/>
<path fill="#8ad044" d="M658.38 10.26H781.83V17.72H658.38ZM822.58 17.42H831.09V24.88H822.58ZM847.21 24.58H863.93V32.04H847.21ZM871.84 31.74H888.56V39.2H871.84ZM888.26 38.9H904.98V46.36H888.26ZM896.47 46.06H913.19V53.52H896.47ZM904.68 53.22H921.4V60.68H904.68ZM912.89 60.38H937.82V67.84H912.89ZM921.1 67.54H937.82V75H921.1ZM929.31 74.7H946.03V82.16H929.31ZM929.31 81.86H946.03V89.32H929.31ZM929.31 89.02H946.03V96.48H929.31ZM929.31 96.18H978.87V103.64H929.31ZM929.31 103.34H987.09V110.8H929.31ZM921.1 110.5H1003.51V117.96H921.1ZM904.68 117.66H921.4V125.12H904.68ZM945.73 117.66H970.66V125.12H945.73ZM986.79 117.66H1019.93V125.12H986.79ZM888.26 124.82H904.98V132.28H888.26ZM953.94 124.82H970.66V132.28H953.94ZM1011.42 124.82H1044.56V132.28H1011.42ZM576.28 131.98H617.63V139.44H576.28ZM633.75 131.98H666.89V139.44H633.75ZM863.63 131.98H880.35V139.44H863.63ZM962.15 131.98H978.87V139.44H962.15ZM1044.26 131.98H1060.98V139.44H1044.26ZM543.44 139.14H568.37V146.6H543.44ZM699.43 139.14H740.78V146.6H699.43ZM797.95 139.14H839.3V146.6H797.95ZM970.36 139.14H987.09V146.6H970.36ZM1060.68 139.14H1069.19V146.6H1060.68ZM535.23 146.3H543.74V153.76H535.23ZM978.57 146.3H995.3V153.76H978.57ZM1077.1 146.3H1085.61V153.76H1077.1ZM527.02 153.46H535.53V160.92H527.02ZM995 153.46H1003.51V160.92H995ZM1085.31 153.46H1093.82V160.92H1085.31ZM518.81 160.62H527.32V168.08H518.81ZM1003.21 160.62H1011.72V168.08H1003.21ZM1093.52 160.62H1102.03V168.08H1093.52ZM510.6 167.78H519.11V175.24H510.6ZM1003.21 167.78H1011.72V175.24H1003.21ZM1101.73 167.78H1110.24V175.24H1101.73ZM502.39 174.94H510.9V182.4H502.39ZM1003.21 174.94H1011.72V182.4H1003.21ZM1109.94 174.94H1118.45V182.4H1109.94ZM494.18 182.1H502.69V189.56H494.18ZM1118.15 182.1H1126.66V189.56H1118.15ZM494.18 189.26H502.69V196.72H494.18ZM1011.42 189.26H1019.93V196.72H1011.42ZM485.97 196.42H494.48V203.88H485.97ZM1011.42 196.42H1019.93V203.88H1011.42ZM1134.57 196.42H1143.08V203.88H1134.57ZM485.97 203.58H494.48V211.04H485.97ZM1011.42 203.58H1019.93V211.04H1011.42ZM477.76 210.74H486.27V218.2H477.76ZM477.76 217.9H486.27V225.36H477.76ZM1019.63 217.9H1028.14V225.36H1019.63ZM1150.99 217.9H1159.5V225.36H1150.99ZM469.55 225.06H478.06V232.53H469.55ZM1027.84 225.06H1036.35V232.53H1027.84ZM1150.99 225.06H1159.5V232.53H1150.99ZM461.34 232.22H478.06V239.69H461.34ZM453.12 239.39H469.85V246.85H453.12ZM1036.05 239.39H1044.56V246.85H1036.05ZM1159.2 239.39H1167.71V246.85H1159.2ZM444.91 246.55H453.43V254.01H444.91ZM1036.05 246.55H1044.56V254.01H1036.05ZM436.7 253.71H445.21V261.17H436.7ZM1036.05 253.71H1044.56V261.17H1036.05ZM1167.41 253.71H1175.92V261.17H1167.41ZM428.49 260.87H437V268.33H428.49ZM1036.05 260.87H1044.56V268.33H1036.05ZM420.28 268.03H428.79V275.49H420.28ZM1044.26 268.03H1052.77V275.49H1044.26ZM412.07 275.19H420.58V282.65H412.07ZM1044.26 275.19H1052.77V282.65H1044.26ZM1175.62 275.19H1184.13V282.65H1175.62ZM403.86 282.35H412.37V289.81H403.86ZM1052.47 282.35H1060.98V289.81H1052.47ZM395.65 289.51H404.16V296.97H395.65ZM1052.47 289.51H1060.98V296.97H1052.47ZM1183.83 289.51H1192.34V296.97H1183.83ZM387.44 296.67H395.95V304.13H387.44ZM1052.47 296.67H1060.98V304.13H1052.47ZM379.23 303.83H387.74V311.29H379.23ZM1052.47 303.83H1060.98V311.29H1052.47ZM1192.04 303.83H1200.55V311.29H1192.04ZM362.81 310.99H371.32V318.45H362.81ZM1052.47 310.99H1060.98V318.45H1052.47ZM346.39 318.15H363.11V325.61H346.39ZM1052.47 318.15H1060.98V325.61H1052.47ZM1200.25 318.15H1208.76V325.61H1200.25ZM338.18 325.31H346.69V332.77H338.18ZM1052.47 325.31H1069.19V332.77H1052.47ZM1208.46 325.31H1216.97V332.77H1208.46ZM321.76 332.47H330.27V339.93H321.76ZM1068.89 332.47H1077.4V339.93H1068.89ZM305.34 339.63H322.06V347.09H305.34ZM1077.1 339.63H1085.61V347.09H1077.1ZM297.13 346.79H305.64V354.25H297.13ZM1085.31 346.79H1093.82V354.25H1085.31ZM288.92 353.95H297.43V361.41H288.92ZM280.71 361.11H289.22V368.57H280.71ZM1093.52 361.11H1102.03V368.57H1093.52ZM272.5 368.27H281.01V375.73H272.5ZM1093.52 368.27H1102.03V375.73H1093.52ZM272.5 375.43H281.01V382.89H272.5ZM264.29 382.59H272.8V390.05H264.29ZM1101.73 382.59H1110.24V390.05H1101.73ZM256.08 389.75H264.59V397.21H256.08ZM1109.94 389.75H1118.45V397.21H1109.94ZM247.87 396.91H256.38V404.37H247.87ZM1118.15 396.91H1126.66V404.37H1118.15ZM247.87 404.07H256.38V411.53H247.87ZM1118.15 404.07H1126.66V411.53H1118.15ZM239.66 411.23H248.17V418.69H239.66ZM231.45 418.39H248.17V425.85H231.45ZM1126.36 418.39H1134.87V425.85H1126.36ZM231.45 425.55H239.96V433.01H231.45ZM1126.36 425.55H1134.87V433.01H1126.36ZM231.45 432.71H239.96V440.17H231.45ZM223.24 439.87H239.96V447.33H223.24ZM756.9 439.87H781.83V447.33H756.9ZM1134.57 439.87H1143.08V447.33H1134.57ZM223.24 447.03H239.96V454.49H223.24ZM748.69 447.03H790.04V454.49H748.69ZM1134.57 447.03H1143.08V454.49H1134.57ZM223.24 454.19H239.96V461.65H223.24ZM748.69 454.19H790.04V461.65H748.69ZM1142.78 454.19H1151.29V461.65H1142.78ZM223.24 461.35H239.96V468.81H223.24ZM740.48 461.35H781.83V468.81H740.48ZM1142.78 461.35H1151.29V468.81H1142.78ZM231.45 468.51H239.96V475.97H231.45ZM740.48 468.51H773.62V475.97H740.48ZM1142.78 468.51H1151.29V475.97H1142.78ZM231.45 475.67H239.96V483.13H231.45ZM740.48 475.67H773.62V483.13H740.48ZM1142.78 475.67H1151.29V483.13H1142.78ZM231.45 482.83H239.96V490.29H231.45ZM740.48 482.83H765.41V490.29H740.48ZM1134.57 482.83H1143.08V490.29H1134.57ZM231.45 489.99H239.96V497.45H231.45ZM740.48 489.99H757.2V497.45H740.48ZM1134.57 489.99H1151.29V497.45H1134.57ZM231.45 497.15H239.96V504.61H231.45ZM1142.78 497.15H1151.29V504.61H1142.78ZM239.66 504.31H248.17V511.77H239.66ZM1142.78 504.31H1151.29V511.77H1142.78ZM239.66 511.47H248.17V518.93H239.66ZM1150.99 511.47H1159.5V518.93H1150.99ZM1224.88 511.47H1233.39V518.93H1224.88ZM239.66 518.63H248.17V526.09H239.66ZM1150.99 518.63H1175.92V526.09H1150.99ZM1208.46 518.63H1225.18V526.09H1208.46ZM247.87 525.79H256.38V533.25H247.87ZM1167.41 525.79H1216.97V533.25H1167.41ZM247.87 532.95H256.38V540.41H247.87ZM247.87 540.11H256.38V547.57H247.87ZM247.87 547.27H256.38V554.73H247.87ZM256.08 554.43H264.59V561.89H256.08ZM256.08 561.59H264.59V569.05H256.08ZM256.08 568.75H264.59V576.21H256.08ZM256.08 575.91H264.59V583.37H256.08ZM247.87 583.07H256.38V590.53H247.87ZM559.86 583.07H568.37V590.53H559.86ZM239.66 590.23H248.17V597.69H239.66ZM543.44 590.23H576.58V597.69H543.44ZM231.45 597.39H239.96V604.85H231.45ZM527.02 597.39H576.58V604.85H527.02ZM223.24 604.55H239.96V612.01H223.24ZM494.18 604.55H576.58V612.01H494.18ZM223.24 611.71H231.75V619.17H223.24ZM461.34 611.71H527.32V619.17H461.34ZM535.23 611.71H576.58V619.17H535.23ZM444.91 618.87H494.48V626.33H444.91ZM559.86 618.87H576.58V626.33H559.86ZM436.7 626.03H478.06V633.49H436.7ZM568.07 626.03H584.79V633.49H568.07ZM444.91 633.19H469.85V640.65H444.91ZM568.07 633.19H593V640.65H568.07ZM444.91 640.35H461.64V647.81H444.91ZM568.07 640.35H593V647.81H568.07ZM453.12 647.51H469.85V654.97H453.12ZM568.07 647.51H601.21V654.97H568.07ZM453.12 654.67H478.06V662.13H453.12ZM576.28 654.67H601.21V662.13H576.28ZM461.34 661.83H478.06V669.29H461.34ZM576.28 661.83H609.42V669.29H576.28ZM469.55 668.99H486.27V676.45H469.55ZM584.49 668.99H617.63V676.45H584.49ZM477.76 676.15H494.48V683.61H477.76ZM600.91 676.15H625.84V683.61H600.91ZM477.76 683.31H494.48V690.77H477.76ZM617.33 683.31H675.1V690.77H617.33ZM485.97 690.48H502.69V697.94H485.97ZM650.17 690.48H683.31V697.94H650.17ZM485.97 697.64H502.69V705.1H485.97ZM683.01 697.64H691.52V705.1H683.01ZM485.97 704.8H502.69V712.26H485.97ZM699.43 704.8H707.94V712.26H699.43ZM485.97 711.96H494.48V719.42H485.97ZM732.27 711.96H748.99V719.42H732.27ZM485.97 719.12H494.48V726.58H485.97ZM765.11 719.12H773.62V726.58H765.11ZM477.76 726.28H494.48V733.74H477.76ZM806.16 726.28H822.88V733.74H806.16ZM477.76 733.44H486.27V740.9H477.76ZM896.47 733.44H946.03V740.9H896.47ZM995 733.44H1028.14V740.9H995ZM477.76 740.6H486.27V748.06H477.76ZM1027.84 740.6H1060.98V748.06H1027.84ZM469.55 747.76H478.06V755.22H469.55ZM1044.26 747.76H1069.19V755.22H1044.26ZM461.34 754.92H469.85V762.38H461.34ZM1044.26 754.92H1069.19V762.38H1044.26ZM444.91 762.08H453.43V769.54H444.91ZM1052.47 762.08H1069.19V769.54H1052.47ZM428.49 769.24H445.21V776.7H428.49ZM1052.47 769.24H1060.98V776.7H1052.47ZM412.07 776.4H420.58V783.86H412.07ZM1044.26 776.4H1060.98V783.86H1044.26ZM387.44 783.56H395.95V791.02H387.44ZM1044.26 783.56H1052.77V791.02H1044.26ZM1027.84 790.72H1044.56V798.18H1027.84ZM1019.63 797.88H1028.14V805.34H1019.63ZM1003.21 805.04H1011.72V812.5H1003.21ZM986.79 812.2H995.3V819.66H986.79ZM953.94 819.36H962.45V826.82H953.94ZM912.89 826.52H929.61V833.98H912.89ZM839 840.84H847.51V848.3H839ZM781.53 848H790.04V855.46H781.53ZM715.85 855.16H724.36V862.62H715.85ZM674.8 862.32H683.31V869.78H674.8ZM633.75 869.48H642.26V876.94H633.75ZM584.49 876.64H601.21V884.1H584.49ZM551.65 883.8H560.16V891.26H551.65Z"/>
<path fill="#96d43a" d="M650.17 10.26H658.68V17.72H650.17ZM641.96 17.42H740.78V24.88H641.96ZM773.32 17.42H822.88V24.88H773.32ZM830.79 24.58H847.51V32.04H830.79ZM855.42 31.74H872.14V39.2H855.42ZM871.84 38.9H888.56V46.36H871.84ZM888.26 46.06H896.77V53.52H888.26ZM896.47 53.22H904.98V60.68H896.47ZM904.68 60.38H913.19V67.84H904.68ZM912.89 67.54H921.4V75H912.89ZM921.1 74.7H929.61V82.16H921.1ZM921.1 81.86H929.61V89.32H921.1ZM921.1 89.02H929.61V96.48H921.1ZM921.1 96.18H929.61V103.64H921.1ZM912.89 103.34H929.61V110.8H912.89ZM904.68 110.5H921.4V117.96H904.68ZM896.47 117.66H904.98V125.12H896.47ZM970.36 117.66H987.09V125.12H970.36ZM584.49 124.82H650.47V132.28H584.49ZM871.84 124.82H888.56V132.28H871.84ZM970.36 124.82H1011.72V132.28H970.36ZM551.65 131.98H576.58V139.44H551.65ZM666.59 131.98H707.94V139.44H666.59ZM839 131.98H863.93V139.44H839ZM978.57 131.98H1044.56V139.44H978.57ZM535.23 139.14H543.74V146.6H535.23ZM740.48 139.14H798.25V146.6H740.48ZM986.79 139.14H1011.72V146.6H986.79ZM1052.47 139.14H1060.98V146.6H1052.47ZM527.02 146.3H535.53V153.76H527.02ZM995 146.3H1011.72V153.76H995ZM1068.89 146.3H1077.4V153.76H1068.89ZM510.6 153.46H527.32V160.92H510.6ZM1003.21 153.46H1011.72V160.92H1003.21ZM1077.1 153.46H1085.61V160.92H1077.1ZM510.6 160.62H519.11V168.08H510.6ZM1085.31 160.62H1093.82V168.08H1085.31ZM502.39 167.78H510.9V175.24H502.39ZM1011.42 167.78H1019.93V175.24H1011.42ZM1093.52 167.78H1102.03V175.24H1093.52ZM494.18 174.94H502.69V182.4H494.18ZM1011.42 174.94H1019.93V182.4H1011.42ZM1101.73 174.94H1110.24V182.4H1101.73ZM1011.42 182.1H1019.93V189.56H1011.42ZM485.97 189.26H494.48V196.72H485.97ZM1126.36 189.26H1134.87V196.72H1126.36ZM477.76 196.42H486.27V203.88H477.76ZM477.76 203.58H486.27V211.04H477.76ZM1019.63 203.58H1028.14V211.04H1019.63ZM469.55 210.74H478.06V218.2H469.55ZM1019.63 210.74H1028.14V218.2H1019.63ZM1142.78 210.74H1151.29V218.2H1142.78ZM469.55 217.9H478.06V225.36H469.55ZM1027.84 217.9H1036.35V225.36H1027.84ZM461.34 225.06H469.85V232.53H461.34ZM1036.05 225.06H1044.56V232.53H1036.05ZM453.12 232.22H461.64V239.69H453.12ZM1036.05 232.22H1044.56V239.69H1036.05ZM1150.99 232.22H1159.5V239.69H1150.99ZM444.91 239.39H453.43V246.85H444.91ZM436.7 246.55H445.21V254.01H436.7ZM1159.2 246.55H1167.71V254.01H1159.2ZM428.49 253.71H437V261.17H428.49ZM1044.26 253.71H1052.77V261.17H1044.26ZM420.28 260.87H428.79V268.33H420.28ZM1044.26 260.87H1052.77V268.33H1044.26ZM1167.41 260.87H1175.92V268.33H1167.41ZM412.07 268.03H420.58V275.49H412.07ZM1167.41 268.03H1175.92V275.49H1167.41ZM403.86 275.19H412.37V282.65H403.86ZM1052.47 275.19H1060.98V282.65H1052.47ZM1060.68 282.35H1069.19V289.81H1060.68ZM1175.62 282.35H1184.13V289.81H1175.62ZM1060.68 289.51H1069.19V296.97H1060.68ZM379.23 296.67H387.74V304.13H379.23ZM1060.68 296.67H1069.19V304.13H1060.68ZM1183.83 296.67H1192.34V304.13H1183.83ZM371.02 303.83H379.53V311.29H371.02ZM1060.68 303.83H1069.19V311.29H1060.68ZM354.6 310.99H363.11V318.45H354.6ZM1060.68 310.99H1069.19V318.45H1060.68ZM1192.04 310.99H1200.55V318.45H1192.04ZM338.18 318.15H346.69V325.61H338.18ZM1060.68 318.15H1069.19V325.61H1060.68ZM321.76 325.31H338.48V332.77H321.76ZM1068.89 325.31H1077.4V332.77H1068.89ZM1200.25 325.31H1208.76V332.77H1200.25ZM288.92 332.47H322.06V339.93H288.92ZM1077.1 332.47H1085.61V339.93H1077.1ZM1208.46 332.47H1216.97V339.93H1208.46ZM288.92 339.63H305.64V347.09H288.92ZM1085.31 339.63H1093.82V347.09H1085.31ZM280.71 346.79H297.43V354.25H280.71ZM1093.52 346.79H1102.03V354.25H1093.52ZM280.71 353.95H289.22V361.41H280.71ZM1093.52 353.95H1102.03V361.41H1093.52ZM272.5 361.11H281.01V368.57H272.5ZM264.29 368.27H272.8V375.73H264.29ZM1101.73 368.27H1110.24V375.73H1101.73ZM256.08 375.43H272.8V382.89H256.08ZM1101.73 375.43H1110.24V382.89H1101.73ZM198.61 382.59H207.12V390.05H198.61ZM247.87 382.59H264.59V390.05H247.87ZM1109.94 382.59H1118.45V390.05H1109.94ZM247.87 389.75H256.38V397.21H247.87ZM1118.15 389.75H1126.66V397.21H1118.15ZM198.61 396.91H207.12V404.37H198.61ZM231.45 396.91H248.17V404.37H231.45ZM198.61 404.07H248.17V411.53H198.61ZM1126.36 404.07H1134.87V411.53H1126.36ZM198.61 411.23H239.96V418.69H198.61ZM1126.36 411.23H1134.87V418.69H1126.36ZM198.61 418.39H231.75V425.85H198.61ZM198.61 425.55H231.75V433.01H198.61ZM1134.57 425.55H1143.08V433.01H1134.57ZM198.61 432.71H231.75V440.17H198.61ZM1134.57 432.71H1143.08V440.17H1134.57ZM198.61 439.87H223.54V447.33H198.61ZM1142.78 439.87H1151.29V447.33H1142.78ZM198.61 447.03H223.54V454.49H198.61ZM1142.78 447.03H1151.29V454.49H1142.78ZM198.61 454.19H223.54V461.65H198.61ZM1150.99 454.19H1159.5V461.65H1150.99ZM198.61 461.35H223.54V468.81H198.61ZM1150.99 461.35H1159.5V468.81H1150.99ZM198.61 468.51H231.75V475.97H198.61ZM1150.99 468.51H1159.5V475.97H1150.99ZM198.61 475.67H231.75V483.13H198.61ZM1150.99 475.67H1159.5V483.13H1150.99ZM198.61 482.83H231.75V490.29H198.61ZM1142.78 482.83H1159.5V490.29H1142.78ZM198.61 489.99H231.75V497.45H198.61ZM1150.99 489.99H1159.5V497.45H1150.99ZM206.82 497.15H231.75V504.61H206.82ZM1150.99 497.15H1159.5V504.61H1150.99ZM1224.88 497.15H1233.39V504.61H1224.88ZM215.03 504.31H239.96V511.77H215.03ZM1150.99 504.31H1167.71V511.77H1150.99ZM1216.67 504.31H1233.39V511.77H1216.67ZM223.24 511.47H239.96V518.93H223.24ZM1159.2 511.47H1184.13V518.93H1159.2ZM1208.46 511.47H1225.18V518.93H1208.46ZM223.24 518.63H239.96V526.09H223.24ZM1175.62 518.63H1208.76V526.09H1175.62ZM231.45 525.79H248.17V533.25H231.45ZM231.45 532.95H248.17V540.41H231.45ZM239.66 540.11H248.17V547.57H239.66ZM239.66 547.27H248.17V554.73H239.66ZM239.66 554.43H256.38V561.89H239.66ZM239.66 561.59H256.38V569.05H239.66ZM239.66 568.75H256.38V576.21H239.66ZM239.66 575.91H256.38V583.37H239.66ZM223.24 583.07H248.17V590.53H223.24ZM215.03 590.23H239.96V597.69H215.03ZM223.24 597.39H231.75V604.85H223.24ZM527.02 611.71H535.53V619.17H527.02ZM494.18 618.87H560.16V626.33H494.18ZM477.76 626.03H568.37V633.49H477.76ZM469.55 633.19H568.37V640.65H469.55ZM461.34 640.35H568.37V647.81H461.34ZM469.55 647.51H510.9V654.97H469.55ZM535.23 647.51H568.37V654.97H535.23ZM477.76 654.67H510.9V662.13H477.76ZM543.44 654.67H576.58V662.13H543.44ZM477.76 661.83H510.9V669.29H477.76ZM551.65 661.83H576.58V669.29H551.65ZM485.97 668.99H519.11V676.45H485.97ZM568.07 668.99H584.79V676.45H568.07ZM494.18 676.15H519.11V683.61H494.18ZM576.28 676.15H601.21V683.61H576.28ZM494.18 683.31H519.11V690.77H494.18ZM584.49 683.31H617.63V690.77H584.49ZM502.39 690.48H519.11V697.94H502.39ZM609.12 690.48H650.47V697.94H609.12ZM502.39 697.64H519.11V705.1H502.39ZM666.59 697.64H683.31V705.1H666.59ZM502.39 704.8H519.11V712.26H502.39ZM691.22 704.8H699.73V712.26H691.22ZM494.18 711.96H510.9V719.42H494.18ZM715.85 711.96H732.57V719.42H715.85ZM494.18 719.12H510.9V726.58H494.18ZM756.9 719.12H765.41V726.58H756.9ZM494.18 726.28H502.69V733.74H494.18ZM789.74 726.28H806.46V733.74H789.74ZM485.97 733.44H502.69V740.9H485.97ZM880.05 733.44H896.77V740.9H880.05ZM485.97 740.6H494.48V748.06H485.97ZM962.15 740.6H1028.14V748.06H962.15ZM477.76 747.76H486.27V755.22H477.76ZM1019.63 747.76H1044.56V755.22H1019.63ZM469.55 754.92H478.06V762.38H469.55ZM1036.05 754.92H1044.56V762.38H1036.05ZM453.12 762.08H461.64V769.54H453.12ZM1036.05 762.08H1052.77V769.54H1036.05ZM444.91 769.24H453.43V776.7H444.91ZM1036.05 769.24H1052.77V776.7H1036.05ZM420.28 776.4H428.79V783.86H420.28ZM1036.05 776.4H1044.56V783.86H1036.05ZM395.65 783.56H412.37V791.02H395.65ZM1027.84 783.56H1044.56V791.02H1027.84ZM362.81 790.72H379.53V798.18H362.81ZM1019.63 790.72H1028.14V798.18H1019.63ZM1011.42 797.88H1019.93V805.34H1011.42ZM995 805.04H1003.51V812.5H995ZM970.36 812.2H987.09V819.66H970.36ZM945.73 819.36H954.24V826.82H945.73ZM896.47 826.52H913.19V833.98H896.47ZM863.63 833.68H872.14V841.14H863.63ZM830.79 840.84H839.3V848.3H830.79ZM773.32 848H781.83V855.46H773.32ZM699.43 855.16H716.15V862.62H699.43ZM666.59 862.32H675.1V869.78H666.59ZM625.54 869.48H634.05V876.94H625.54ZM559.86 876.64H584.79V884.1H559.86ZM543.44 883.8H551.95V891.26H543.44Z"/>
<path fill="#a8d930" d="M617.33 17.42H642.26V24.88H617.33ZM740.48 17.42H773.62V24.88H740.48ZM633.75 24.58H691.52V32.04H633.75ZM806.16 24.58H831.09V32.04H806.16ZM839 31.74H855.72V39.2H839ZM863.63 38.9H872.14V46.36H863.63ZM880.05 46.06H888.56V53.52H880.05ZM888.26 53.22H896.77V60.68H888.26ZM896.47 60.38H904.98V67.84H896.47ZM904.68 67.54H913.19V75H904.68ZM904.68 74.7H921.4V82.16H904.68ZM912.89 81.86H921.4V89.32H912.89ZM912.89 89.02H921.4V96.48H912.89ZM912.89 96.18H921.4V103.64H912.89ZM904.68 103.34H913.19V110.8H904.68ZM896.47 110.5H904.98V117.96H896.47ZM592.7 117.66H634.05V125.12H592.7ZM880.05 117.66H896.77V125.12H880.05ZM551.65 124.82H584.79V132.28H551.65ZM650.17 124.82H683.31V132.28H650.17ZM855.42 124.82H872.14V132.28H855.42ZM535.23 131.98H551.95V139.44H535.23ZM707.64 131.98H740.78V139.44H707.64ZM797.95 131.98H839.3V139.44H797.95ZM527.02 139.14H535.53V146.6H527.02ZM1011.42 139.14H1052.77V146.6H1011.42ZM518.81 146.3H527.32V153.76H518.81ZM1011.42 146.3H1019.93V153.76H1011.42ZM1052.47 146.3H1069.19V153.76H1052.47ZM502.39 153.46H510.9V160.92H502.39ZM1011.42 153.46H1019.93V160.92H1011.42ZM1068.89 153.46H1077.4V160.92H1068.89ZM502.39 160.62H510.9V168.08H502.39ZM1011.42 160.62H1019.93V168.08H1011.42ZM1077.1 160.62H1085.61V168.08H1077.1ZM494.18 167.78H502.69V175.24H494.18ZM485.97 174.94H494.48V182.4H485.97ZM1019.63 174.94H1028.14V182.4H1019.63ZM485.97 182.1H494.48V189.56H485.97ZM1019.63 182.1H1028.14V189.56H1019.63ZM1109.94 182.1H1118.45V189.56H1109.94ZM477.76 189.26H486.27V196.72H477.76ZM1019.63 189.26H1028.14V196.72H1019.63ZM1118.15 189.26H1126.66V196.72H1118.15ZM469.55 196.42H478.06V203.88H469.55ZM1019.63 196.42H1028.14V203.88H1019.63ZM1126.36 196.42H1134.87V203.88H1126.36ZM469.55 203.58H478.06V211.04H469.55ZM1134.57 203.58H1143.08V211.04H1134.57ZM461.34 210.74H469.85V218.2H461.34ZM1027.84 210.74H1036.35V218.2H1027.84ZM453.12 217.9H469.85V225.36H453.12ZM1036.05 217.9H1044.56V225.36H1036.05ZM1142.78 217.9H1151.29V225.36H1142.78ZM453.12 225.06H461.64V232.53H453.12ZM444.91 232.22H453.43V239.69H444.91ZM1044.26 232.22H1052.77V239.69H1044.26ZM436.7 239.39H445.21V246.85H436.7ZM1044.26 239.39H1052.77V246.85H1044.26ZM1150.99 239.39H1159.5V246.85H1150.99ZM428.49 246.55H437V254.01H428.49ZM1044.26 246.55H1052.77V254.01H1044.26ZM420.28 253.71H428.79V261.17H420.28ZM1159.2 253.71H1167.71V261.17H1159.2ZM412.07 260.87H420.58V268.33H412.07ZM1052.47 260.87H1060.98V268.33H1052.47ZM1052.47 268.03H1060.98V275.49H1052.47ZM1060.68 275.19H1069.19V282.65H1060.68ZM1167.41 275.19H1175.92V282.65H1167.41ZM395.65 282.35H404.16V289.81H395.65ZM387.44 289.51H395.95V296.97H387.44ZM1068.89 289.51H1077.4V296.97H1068.89ZM1175.62 289.51H1184.13V296.97H1175.62ZM371.02 296.67H379.53V304.13H371.02ZM1068.89 296.67H1077.4V304.13H1068.89ZM354.6 303.83H371.32V311.29H354.6ZM1068.89 303.83H1077.4V311.29H1068.89ZM1183.83 303.83H1192.34V311.29H1183.83ZM338.18 310.99H354.9V318.45H338.18ZM1068.89 310.99H1077.4V318.45H1068.89ZM1183.83 310.99H1192.34V318.45H1183.83ZM321.76 318.15H338.48V325.61H321.76ZM1068.89 318.15H1077.4V325.61H1068.89ZM1192.04 318.15H1200.55V325.61H1192.04ZM280.71 325.31H322.06V332.77H280.71ZM1077.1 325.31H1085.61V332.77H1077.1ZM215.03 332.47H223.54V339.93H215.03ZM272.5 332.47H289.22V339.93H272.5ZM1085.31 332.47H1093.82V339.93H1085.31ZM1200.25 332.47H1208.76V339.93H1200.25ZM215.03 339.63H231.75V347.09H215.03ZM272.5 339.63H289.22V347.09H272.5ZM1093.52 339.63H1102.03V347.09H1093.52ZM1208.46 339.63H1216.97V347.09H1208.46ZM206.82 346.79H231.75V354.25H206.82ZM264.29 346.79H281.01V354.25H264.29ZM1208.46 346.79H1216.97V354.25H1208.46ZM206.82 353.95H231.75V361.41H206.82ZM256.08 353.95H281.01V361.41H256.08ZM1101.73 353.95H1110.24V361.41H1101.73ZM1216.67 353.95H1225.18V361.41H1216.67ZM206.82 361.11H231.75V368.57H206.82ZM247.87 361.11H272.8V368.57H247.87ZM1101.73 361.11H1110.24V368.57H1101.73ZM1216.67 361.11H1225.18V368.57H1216.67ZM206.82 368.27H264.59V375.73H206.82ZM206.82 375.43H256.38V382.89H206.82ZM1109.94 375.43H1118.45V382.89H1109.94ZM206.82 382.59H248.17V390.05H206.82ZM198.61 389.75H248.17V397.21H198.61ZM206.82 396.91H231.75V404.37H206.82ZM1126.36 396.91H1134.87V404.37H1126.36ZM1134.57 411.23H1143.08V418.69H1134.57ZM1134.57 418.39H1143.08V425.85H1134.57ZM1142.78 425.55H1151.29V433.01H1142.78ZM1142.78 432.71H1151.29V440.17H1142.78ZM1150.99 439.87H1159.5V447.33H1150.99ZM1150.99 447.03H1159.5V454.49H1150.99ZM1159.2 468.51H1167.71V475.97H1159.2ZM1159.2 475.67H1167.71V483.13H1159.2ZM1159.2 482.83H1167.71V490.29H1159.2ZM1224.88 482.83H1233.39V490.29H1224.88ZM1159.2 489.99H1167.71V497.45H1159.2ZM1224.88 489.99H1233.39V497.45H1224.88ZM198.61 497.15H207.12V504.61H198.61ZM1159.2 497.15H1175.92V504.61H1159.2ZM1216.67 497.15H1225.18V504.61H1216.67ZM198.61 504.31H215.33V511.77H198.61ZM1167.41 504.31H1216.97V511.77H1167.41ZM198.61 511.47H223.54V518.93H198.61ZM1183.83 511.47H1208.76V518.93H1183.83ZM198.61 518.63H223.54V526.09H198.61ZM198.61 525.79H231.75V533.25H198.61ZM198.61 532.95H231.75V540.41H198.61ZM206.82 540.11H239.96V547.57H206.82ZM215.03 547.27H239.96V554.73H215.03ZM215.03 554.43H239.96V561.89H215.03ZM215.03 561.59H239.96V569.05H215.03ZM206.82 568.75H239.96V576.21H206.82ZM215.03 575.91H239.96V583.37H215.03ZM215.03 583.07H223.54V590.53H215.03ZM510.6 647.51H535.53V654.97H510.6ZM510.6 654.67H543.74V662.13H510.6ZM510.6 661.83H551.95V669.29H510.6ZM518.81 668.99H568.37V676.45H518.81ZM518.81 676.15H576.58V683.61H518.81ZM518.81 683.31H584.79V690.77H518.81ZM518.81 690.48H543.74V697.94H518.81ZM576.28 690.48H609.42V697.94H576.28ZM518.81 697.64H535.53V705.1H518.81ZM617.33 697.64H666.89V705.1H617.33ZM518.81 704.8H527.32V712.26H518.81ZM674.8 704.8H691.52V712.26H674.8ZM510.6 711.96H527.32V719.42H510.6ZM699.43 711.96H716.15V719.42H699.43ZM510.6 719.12H519.11V726.58H510.6ZM502.39 726.28H510.9V733.74H502.39ZM773.32 726.28H790.04V733.74H773.32ZM502.39 733.44H510.9V740.9H502.39ZM863.63 733.44H880.35V740.9H863.63ZM494.18 740.6H502.69V748.06H494.18ZM929.31 740.6H962.45V748.06H929.31ZM485.97 747.76H494.48V755.22H485.97ZM986.79 747.76H1019.93V755.22H986.79ZM477.76 754.92H486.27V762.38H477.76ZM1019.63 754.92H1036.35V762.38H1019.63ZM461.34 762.08H478.06V769.54H461.34ZM1027.84 762.08H1036.35V769.54H1027.84ZM453.12 769.24H461.64V776.7H453.12ZM1027.84 769.24H1036.35V776.7H1027.84ZM428.49 776.4H445.21V783.86H428.49ZM1027.84 776.4H1036.35V783.86H1027.84ZM412.07 783.56H420.58V791.02H412.07ZM1019.63 783.56H1028.14V791.02H1019.63ZM379.23 790.72H395.95V798.18H379.23ZM1011.42 790.72H1019.93V798.18H1011.42ZM1003.21 797.88H1011.72V805.34H1003.21ZM986.79 805.04H995.3V812.5H986.79ZM962.15 812.2H970.66V819.66H962.15ZM937.52 819.36H946.03V826.82H937.52ZM888.26 826.52H896.77V833.98H888.26ZM855.42 833.68H863.93V841.14H855.42ZM822.58 840.84H831.09V848.3H822.58ZM756.9 848H773.62V855.46H756.9ZM658.38 862.32H666.89V869.78H658.38ZM609.12 869.48H625.84V876.94H609.12ZM551.65 876.64H560.16V884.1H551.65Z"/>
<path fill="#c3e12d" d="M609.12 17.42H617.63V24.88H609.12ZM617.33 24.58H634.05V32.04H617.33ZM691.22 24.58H806.46V32.04H691.22ZM625.54 31.74H683.31V39.2H625.54ZM822.58 31.74H839.3V39.2H822.58ZM839 38.9H863.93V46.36H839ZM863.63 46.06H880.35V53.52H863.63ZM880.05 53.22H888.56V60.68H880.05ZM888.26 60.38H896.77V67.84H888.26ZM896.47 67.54H904.98V75H896.47ZM896.47 74.7H904.98V82.16H896.47ZM904.68 81.86H913.19V89.32H904.68ZM904.68 89.02H913.19V96.48H904.68ZM904.68 96.18H913.19V103.64H904.68ZM896.47 103.34H904.98V110.8H896.47ZM600.91 110.5H625.84V117.96H600.91ZM888.26 110.5H896.77V117.96H888.26ZM551.65 117.66H593V125.12H551.65ZM633.75 117.66H675.1V125.12H633.75ZM871.84 117.66H880.35V125.12H871.84ZM535.23 124.82H551.95V132.28H535.23ZM683.01 124.82H716.15V132.28H683.01ZM830.79 124.82H855.72V132.28H830.79ZM527.02 131.98H535.53V139.44H527.02ZM740.48 131.98H798.25V139.44H740.48ZM518.81 139.14H527.32V146.6H518.81ZM502.39 146.3H519.11V153.76H502.39ZM1019.63 146.3H1052.77V153.76H1019.63ZM1019.63 153.46H1028.14V160.92H1019.63ZM1060.68 153.46H1069.19V160.92H1060.68ZM494.18 160.62H502.69V168.08H494.18ZM1019.63 160.62H1028.14V168.08H1019.63ZM1068.89 160.62H1077.4V168.08H1068.89ZM485.97 167.78H494.48V175.24H485.97ZM1019.63 167.78H1028.14V175.24H1019.63ZM1085.31 167.78H1093.82V175.24H1085.31ZM1093.52 174.94H1102.03V182.4H1093.52ZM477.76 182.1H486.27V189.56H477.76ZM1101.73 182.1H1110.24V189.56H1101.73ZM469.55 189.26H478.06V196.72H469.55ZM1027.84 189.26H1036.35V196.72H1027.84ZM1109.94 189.26H1118.45V196.72H1109.94ZM1027.84 196.42H1036.35V203.88H1027.84ZM461.34 203.58H469.85V211.04H461.34ZM1027.84 203.58H1036.35V211.04H1027.84ZM453.12 210.74H461.64V218.2H453.12ZM1036.05 210.74H1044.56V218.2H1036.05ZM1134.57 210.74H1143.08V218.2H1134.57ZM444.91 225.06H453.43V232.53H444.91ZM1044.26 225.06H1052.77V232.53H1044.26ZM1142.78 225.06H1151.29V232.53H1142.78ZM436.7 232.22H445.21V239.69H436.7ZM1142.78 232.22H1151.29V239.69H1142.78ZM428.49 239.39H437V246.85H428.49ZM1052.47 239.39H1060.98V246.85H1052.47ZM420.28 246.55H428.79V254.01H420.28ZM1052.47 246.55H1060.98V254.01H1052.47ZM1150.99 246.55H1159.5V254.01H1150.99ZM412.07 253.71H420.58V261.17H412.07ZM1052.47 253.71H1060.98V261.17H1052.47ZM1159.2 260.87H1167.71V268.33H1159.2ZM403.86 268.03H412.37V275.49H403.86ZM1060.68 268.03H1069.19V275.49H1060.68ZM395.65 275.19H404.16V282.65H395.65ZM1068.89 275.19H1077.4V282.65H1068.89ZM387.44 282.35H395.95V289.81H387.44ZM1068.89 282.35H1077.4V289.81H1068.89ZM1167.41 282.35H1175.92V289.81H1167.41ZM371.02 289.51H387.74V296.97H371.02ZM1077.1 289.51H1085.61V296.97H1077.1ZM354.6 296.67H371.32V304.13H354.6ZM1077.1 296.67H1085.61V304.13H1077.1ZM1175.62 296.67H1184.13V304.13H1175.62ZM338.18 303.83H354.9V311.29H338.18ZM1077.1 303.83H1085.61V311.29H1077.1ZM313.55 310.99H338.48V318.45H313.55ZM1077.1 310.99H1085.61V318.45H1077.1ZM223.24 318.15H231.75V325.61H223.24ZM264.29 318.15H322.06V325.61H264.29ZM1077.1 318.15H1085.61V325.61H1077.1ZM1183.83 318.15H1192.34V325.61H1183.83ZM215.03 325.31H281.01V332.77H215.03ZM1085.31 325.31H1093.82V332.77H1085.31ZM1192.04 325.31H1200.55V332.77H1192.04ZM223.24 332.47H272.8V339.93H223.24ZM1093.52 332.47H1102.03V339.93H1093.52ZM231.45 339.63H272.8V347.09H231.45ZM1200.25 339.63H1208.76V347.09H1200.25ZM231.45 346.79H264.59V354.25H231.45ZM1101.73 346.79H1110.24V354.25H1101.73ZM231.45 353.95H256.38V361.41H231.45ZM1208.46 353.95H1216.97V361.41H1208.46ZM231.45 361.11H248.17V368.57H231.45ZM1109.94 361.11H1118.45V368.57H1109.94ZM1109.94 368.27H1118.45V375.73H1109.94ZM1216.67 368.27H1225.18V375.73H1216.67ZM1118.15 382.59H1126.66V390.05H1118.15ZM1126.36 389.75H1134.87V397.21H1126.36ZM1134.57 404.07H1143.08V411.53H1134.57ZM1142.78 418.39H1151.29V425.85H1142.78ZM1150.99 432.71H1159.5V440.17H1150.99ZM1159.2 447.03H1167.71V454.49H1159.2ZM1159.2 454.19H1167.71V461.65H1159.2ZM1224.88 454.19H1233.39V461.65H1224.88ZM1159.2 461.35H1167.71V468.81H1159.2ZM1224.88 461.35H1233.39V468.81H1224.88ZM1224.88 468.51H1233.39V475.97H1224.88ZM1167.41 475.67H1175.92V483.13H1167.41ZM1224.88 475.67H1233.39V483.13H1224.88ZM1167.41 482.83H1175.92V490.29H1167.41ZM1216.67 482.83H1225.18V490.29H1216.67ZM1167.41 489.99H1184.13V497.45H1167.41ZM1208.46 489.99H1225.18V497.45H1208.46ZM1175.62 497.15H1216.97V504.61H1175.62ZM206.82 547.27H215.33V554.73H206.82ZM206.82 554.43H215.33V561.89H206.82ZM206.82 561.59H215.33V569.05H206.82ZM543.44 690.48H576.58V697.94H543.44ZM535.23 697.64H617.63V705.1H535.23ZM527.02 704.8H543.74V712.26H527.02ZM633.75 704.8H675.1V712.26H633.75ZM527.02 711.96H535.53V719.42H527.02ZM683.01 711.96H699.73V719.42H683.01ZM518.81 719.12H527.32V726.58H518.81ZM740.48 719.12H757.2V726.58H740.48ZM510.6 726.28H527.32V733.74H510.6ZM510.6 733.44H519.11V740.9H510.6ZM814.37 733.44H863.93V740.9H814.37ZM502.39 740.6H510.9V748.06H502.39ZM896.47 740.6H929.61V748.06H896.47ZM494.18 747.76H502.69V755.22H494.18ZM962.15 747.76H987.09V755.22H962.15ZM485.97 754.92H494.48V762.38H485.97ZM995 754.92H1019.93V762.38H995ZM477.76 762.08H486.27V769.54H477.76ZM1011.42 762.08H1028.14V769.54H1011.42ZM461.34 769.24H469.85V776.7H461.34ZM1019.63 769.24H1028.14V776.7H1019.63ZM444.91 776.4H453.43V783.86H444.91ZM1019.63 776.4H1028.14V783.86H1019.63ZM420.28 783.56H437V791.02H420.28ZM1011.42 783.56H1019.93V791.02H1011.42ZM395.65 790.72H404.16V798.18H395.65ZM1003.21 790.72H1011.72V798.18H1003.21ZM371.02 797.88H379.53V805.34H371.02ZM995 797.88H1003.51V805.34H995ZM978.57 805.04H987.09V812.5H978.57ZM953.94 812.2H962.45V819.66H953.94ZM929.31 819.36H937.82V826.82H929.31ZM880.05 826.52H888.56V833.98H880.05ZM847.21 833.68H855.72V841.14H847.21ZM814.37 840.84H822.88V848.3H814.37ZM748.69 848H757.2V855.46H748.69ZM691.22 855.16H699.73V862.62H691.22ZM650.17 862.32H658.68V869.78H650.17ZM592.7 869.48H609.42V876.94H592.7ZM543.44 876.64H551.95V884.1H543.44Z"/>
<path fill="#dee82a" d="M600.91 17.42H609.42V24.88H600.91ZM600.91 24.58H617.63V32.04H600.91ZM609.12 31.74H625.84V39.2H609.12ZM683.01 31.74H732.57V39.2H683.01ZM789.74 31.74H822.88V39.2H789.74ZM617.33 38.9H675.1V46.36H617.33ZM822.58 38.9H839.3V46.36H822.58ZM847.21 46.06H863.93V53.52H847.21ZM863.63 53.22H880.35V60.68H863.63ZM880.05 60.38H888.56V67.84H880.05ZM888.26 67.54H896.77V75H888.26ZM888.26 74.7H896.77V82.16H888.26ZM896.47 81.86H904.98V89.32H896.47ZM896.47 89.02H904.98V96.48H896.47ZM896.47 96.18H904.98V103.64H896.47ZM888.26 103.34H896.77V110.8H888.26ZM559.86 110.5H601.21V117.96H559.86ZM625.54 110.5H658.68V117.96H625.54ZM871.84 110.5H888.56V117.96H871.84ZM543.44 117.66H551.95V125.12H543.44ZM674.8 117.66H699.73V125.12H674.8ZM847.21 117.66H872.14V125.12H847.21ZM527.02 124.82H535.53V132.28H527.02ZM715.85 124.82H740.78V132.28H715.85ZM797.95 124.82H831.09V132.28H797.95ZM518.81 131.98H527.32V139.44H518.81ZM510.6 139.14H519.11V146.6H510.6ZM494.18 153.46H502.69V160.92H494.18ZM1027.84 153.46H1060.98V160.92H1027.84ZM485.97 160.62H494.48V168.08H485.97ZM1027.84 160.62H1036.35V168.08H1027.84ZM1060.68 160.62H1069.19V168.08H1060.68ZM477.76 167.78H486.27V175.24H477.76ZM1027.84 167.78H1036.35V175.24H1027.84ZM1077.1 167.78H1085.61V175.24H1077.1ZM477.76 174.94H486.27V182.4H477.76ZM1027.84 174.94H1036.35V182.4H1027.84ZM1085.31 174.94H1093.82V182.4H1085.31ZM469.55 182.1H478.06V189.56H469.55ZM1027.84 182.1H1036.35V189.56H1027.84ZM1093.52 182.1H1102.03V189.56H1093.52ZM461.34 189.26H469.85V196.72H461.34ZM461.34 196.42H469.85V203.88H461.34ZM1036.05 196.42H1044.56V203.88H1036.05ZM1118.15 196.42H1126.66V203.88H1118.15ZM453.12 203.58H461.64V211.04H453.12ZM1036.05 203.58H1044.56V211.04H1036.05ZM1126.36 203.58H1134.87V211.04H1126.36ZM444.91 210.74H453.43V218.2H444.91ZM444.91 217.9H453.43V225.36H444.91ZM1044.26 217.9H1052.77V225.36H1044.26ZM1134.57 217.9H1143.08V225.36H1134.57ZM436.7 225.06H445.21V232.53H436.7ZM1052.47 225.06H1060.98V232.53H1052.47ZM428.49 232.22H437V239.69H428.49ZM1052.47 232.22H1060.98V239.69H1052.47ZM420.28 239.39H428.79V246.85H420.28ZM1142.78 239.39H1151.29V246.85H1142.78ZM412.07 246.55H420.58V254.01H412.07ZM1060.68 246.55H1069.19V254.01H1060.68ZM403.86 253.71H412.37V261.17H403.86ZM1060.68 253.71H1069.19V261.17H1060.68ZM395.65 260.87H412.37V268.33H395.65ZM1060.68 260.87H1069.19V268.33H1060.68ZM387.44 268.03H404.16V275.49H387.44ZM1068.89 268.03H1077.4V275.49H1068.89ZM1159.2 268.03H1167.71V275.49H1159.2ZM379.23 275.19H395.95V282.65H379.23ZM371.02 282.35H387.74V289.81H371.02ZM1077.1 282.35H1085.61V289.81H1077.1ZM354.6 289.51H371.32V296.97H354.6ZM1167.41 289.51H1175.92V296.97H1167.41ZM338.18 296.67H354.9V304.13H338.18ZM223.24 303.83H239.96V311.29H223.24ZM305.34 303.83H338.48V311.29H305.34ZM1085.31 303.83H1093.82V311.29H1085.31ZM1175.62 303.83H1184.13V311.29H1175.62ZM223.24 310.99H313.85V318.45H223.24ZM1085.31 310.99H1093.82V318.45H1085.31ZM231.45 318.15H264.59V325.61H231.45ZM1085.31 318.15H1093.82V325.61H1085.31ZM1093.52 325.31H1102.03V332.77H1093.52ZM1183.83 325.31H1192.34V332.77H1183.83ZM1192.04 332.47H1200.55V339.93H1192.04ZM1101.73 339.63H1110.24V347.09H1101.73ZM1192.04 339.63H1200.55V347.09H1192.04ZM1200.25 346.79H1208.76V354.25H1200.25ZM1109.94 353.95H1118.45V361.41H1109.94ZM1200.25 353.95H1208.76V361.41H1200.25ZM1208.46 361.11H1216.97V368.57H1208.46ZM1118.15 368.27H1126.66V375.73H1118.15ZM1208.46 368.27H1216.97V375.73H1208.46ZM1118.15 375.43H1126.66V382.89H1118.15ZM1216.67 375.43H1225.18V382.89H1216.67ZM1126.36 382.59H1134.87V390.05H1126.36ZM1216.67 382.59H1225.18V390.05H1216.67ZM1134.57 389.75H1143.08V397.21H1134.57ZM1224.88 389.75H1233.39V397.21H1224.88ZM1134.57 396.91H1143.08V404.37H1134.57ZM1224.88 396.91H1233.39V404.37H1224.88ZM1142.78 404.07H1151.29V411.53H1142.78ZM1224.88 404.07H1233.39V411.53H1224.88ZM1142.78 411.23H1151.29V418.69H1142.78ZM1150.99 418.39H1159.5V425.85H1150.99ZM1150.99 425.55H1159.5V433.01H1150.99ZM1224.88 425.55H1233.39V433.01H1224.88ZM1159.2 432.71H1167.71V440.17H1159.2ZM1224.88 432.71H1233.39V440.17H1224.88ZM1159.2 439.87H1167.71V447.33H1159.2ZM1224.88 439.87H1233.39V447.33H1224.88ZM1167.41 447.03H1175.92V454.49H1167.41ZM1224.88 447.03H1233.39V454.49H1224.88ZM1167.41 454.19H1175.92V461.65H1167.41ZM1216.67 454.19H1225.18V461.65H1216.67ZM1167.41 461.35H1175.92V468.81H1167.41ZM1216.67 461.35H1225.18V468.81H1216.67ZM1167.41 468.51H1184.13V475.97H1167.41ZM1216.67 468.51H1225.18V475.97H1216.67ZM1175.62 475.67H1184.13V483.13H1175.62ZM1216.67 475.67H1225.18V483.13H1216.67ZM1175.62 482.83H1192.34V490.29H1175.62ZM1208.46 482.83H1216.97V490.29H1208.46ZM1183.83 489.99H1208.76V497.45H1183.83ZM543.44 704.8H634.05V712.26H543.44ZM535.23 711.96H543.74V719.42H535.23ZM666.59 711.96H683.31V719.42H666.59ZM527.02 719.12H535.53V726.58H527.02ZM699.43 719.12H740.78V726.58H699.43ZM765.11 726.28H773.62V733.74H765.11ZM518.81 733.44H527.32V740.9H518.81ZM797.95 733.44H814.67V740.9H797.95ZM510.6 740.6H519.11V748.06H510.6ZM880.05 740.6H896.77V748.06H880.05ZM502.39 747.76H510.9V755.22H502.39ZM937.52 747.76H962.45V755.22H937.52ZM494.18 754.92H502.69V762.38H494.18ZM970.36 754.92H995.3V762.38H970.36ZM485.97 762.08H494.48V769.54H485.97ZM995 762.08H1011.72V769.54H995ZM469.55 769.24H478.06V776.7H469.55ZM1003.21 769.24H1019.93V776.7H1003.21ZM453.12 776.4H461.64V783.86H453.12ZM1011.42 776.4H1019.93V783.86H1011.42ZM436.7 783.56H445.21V791.02H436.7ZM1003.21 783.56H1011.72V791.02H1003.21ZM403.86 790.72H420.58V798.18H403.86ZM995 790.72H1003.51V798.18H995ZM379.23 797.88H387.74V805.34H379.23ZM986.79 797.88H995.3V805.34H986.79ZM970.36 805.04H978.87V812.5H970.36ZM945.73 812.2H954.24V819.66H945.73ZM912.89 819.36H929.61V826.82H912.89ZM871.84 826.52H880.35V833.98H871.84ZM806.16 840.84H814.67V848.3H806.16ZM732.27 848H748.99V855.46H732.27ZM683.01 855.16H691.52V862.62H683.01ZM633.75 862.32H650.47V869.78H633.75ZM559.86 869.48H593V876.94H559.86ZM535.23 876.64H543.74V884.1H535.23Z"/>
<path fill="#f5ee28" d="M592.7 24.58H601.21V32.04H592.7ZM600.91 31.74H609.42V39.2H600.91ZM732.27 31.74H790.04V39.2H732.27ZM609.12 38.9H617.63V46.36H609.12ZM674.8 38.9H707.94V46.36H674.8ZM806.16 38.9H822.88V46.36H806.16ZM617.33 46.06H666.89V53.52H617.33ZM830.79 46.06H847.51V53.52H830.79ZM847.21 53.22H863.93V60.68H847.21ZM863.63 60.38H880.35V67.84H863.63ZM880.05 67.54H888.56V75H880.05ZM880.05 74.7H888.56V82.16H880.05ZM888.26 81.86H896.77V89.32H888.26ZM888.26 89.02H896.77V96.48H888.26ZM880.05 96.18H896.77V103.64H880.05ZM559.86 103.34H658.68V110.8H559.86ZM871.84 103.34H888.56V110.8H871.84ZM543.44 110.5H560.16V117.96H543.44ZM658.38 110.5H691.52V117.96H658.38ZM855.42 110.5H872.14V117.96H855.42ZM527.02 117.66H543.74V125.12H527.02ZM699.43 117.66H724.36V125.12H699.43ZM822.58 117.66H847.51V125.12H822.58ZM518.81 124.82H527.32V132.28H518.81ZM740.48 124.82H798.25V132.28H740.48ZM510.6 131.98H519.11V139.44H510.6ZM502.39 139.14H510.9V146.6H502.39ZM494.18 146.3H502.69V153.76H494.18ZM485.97 153.46H494.48V160.92H485.97ZM477.76 160.62H486.27V168.08H477.76ZM1036.05 160.62H1060.98V168.08H1036.05ZM1036.05 167.78H1044.56V175.24H1036.05ZM1068.89 167.78H1077.4V175.24H1068.89ZM469.55 174.94H478.06V182.4H469.55ZM1036.05 174.94H1044.56V182.4H1036.05ZM1077.1 174.94H1085.61V182.4H1077.1ZM461.34 182.1H469.85V189.56H461.34ZM1036.05 182.1H1044.56V189.56H1036.05ZM453.12 189.26H461.64V196.72H453.12ZM1036.05 189.26H1044.56V196.72H1036.05ZM1101.73 189.26H1110.24V196.72H1101.73ZM453.12 196.42H461.64V203.88H453.12ZM1109.94 196.42H1118.45V203.88H1109.94ZM444.91 203.58H453.43V211.04H444.91ZM1044.26 203.58H1052.77V211.04H1044.26ZM1118.15 203.58H1126.66V211.04H1118.15ZM436.7 210.74H445.21V218.2H436.7ZM1044.26 210.74H1052.77V218.2H1044.26ZM1126.36 210.74H1134.87V218.2H1126.36ZM436.7 217.9H445.21V225.36H436.7ZM1052.47 217.9H1060.98V225.36H1052.47ZM428.49 225.06H437V232.53H428.49ZM1134.57 225.06H1143.08V232.53H1134.57ZM420.28 232.22H428.79V239.69H420.28ZM1060.68 232.22H1069.19V239.69H1060.68ZM412.07 239.39H420.58V246.85H412.07ZM1060.68 239.39H1069.19V246.85H1060.68ZM403.86 246.55H412.37V254.01H403.86ZM1142.78 246.55H1151.29V254.01H1142.78ZM395.65 253.71H404.16V261.17H395.65ZM1150.99 253.71H1159.5V261.17H1150.99ZM387.44 260.87H395.95V268.33H387.44ZM1068.89 260.87H1077.4V268.33H1068.89ZM379.23 268.03H387.74V275.49H379.23ZM371.02 275.19H379.53V282.65H371.02ZM1077.1 275.19H1085.61V282.65H1077.1ZM1159.2 275.19H1167.71V282.65H1159.2ZM354.6 282.35H371.32V289.81H354.6ZM231.45 289.51H248.17V296.97H231.45ZM338.18 289.51H354.9V296.97H338.18ZM1085.31 289.51H1093.82V296.97H1085.31ZM231.45 296.67H338.48V304.13H231.45ZM1085.31 296.67H1093.82V304.13H1085.31ZM1167.41 296.67H1175.92V304.13H1167.41ZM239.66 303.83H305.64V311.29H239.66ZM1093.52 310.99H1102.03V318.45H1093.52ZM1175.62 310.99H1184.13V318.45H1175.62ZM1093.52 318.15H1102.03V325.61H1093.52ZM1175.62 318.15H1184.13V325.61H1175.62ZM1101.73 332.47H1110.24V339.93H1101.73ZM1183.83 332.47H1192.34V339.93H1183.83ZM1109.94 339.63H1118.45V347.09H1109.94ZM1109.94 346.79H1118.45V354.25H1109.94ZM1192.04 346.79H1200.55V354.25H1192.04ZM1192.04 353.95H1200.55V361.41H1192.04ZM1118.15 361.11H1126.66V368.57H1118.15ZM1200.25 361.11H1208.76V368.57H1200.25ZM1200.25 368.27H1208.76V375.73H1200.25ZM1126.36 375.43H1134.87V382.89H1126.36ZM1208.46 375.43H1216.97V382.89H1208.46ZM1134.57 382.59H1143.08V390.05H1134.57ZM1208.46 382.59H1216.97V390.05H1208.46ZM1216.67 389.75H1225.18V397.21H1216.67ZM1142.78 396.91H1151.29V404.37H1142.78ZM1216.67 396.91H1225.18V404.37H1216.67ZM1150.99 404.07H1159.5V411.53H1150.99ZM1216.67 404.07H1225.18V411.53H1216.67ZM1150.99 411.23H1159.5V418.69H1150.99ZM1224.88 411.23H1233.39V418.69H1224.88ZM1159.2 418.39H1167.71V425.85H1159.2ZM1224.88 418.39H1233.39V425.85H1224.88ZM1159.2 425.55H1167.71V433.01H1159.2ZM1167.41 432.71H1175.92V440.17H1167.41ZM1216.67 432.71H1225.18V440.17H1216.67ZM1167.41 439.87H1175.92V447.33H1167.41ZM1216.67 439.87H1225.18V447.33H1216.67ZM1175.62 447.03H1184.13V454.49H1175.62ZM1208.46 447.03H1225.18V454.49H1208.46ZM1175.62 454.19H1184.13V461.65H1175.62ZM1208.46 454.19H1216.97V461.65H1208.46ZM1175.62 461.35H1192.34V468.81H1175.62ZM1208.46 461.35H1216.97V468.81H1208.46ZM1183.83 468.51H1216.97V475.97H1183.83ZM1183.83 475.67H1216.97V483.13H1183.83ZM1192.04 482.83H1208.76V490.29H1192.04ZM543.44 711.96H560.16V719.42H543.44ZM633.75 711.96H666.89V719.42H633.75ZM535.23 719.12H543.74V726.58H535.23ZM683.01 719.12H699.73V726.58H683.01ZM527.02 726.28H535.53V733.74H527.02ZM756.9 726.28H765.41V733.74H756.9ZM781.53 733.44H798.25V740.9H781.53ZM518.81 740.6H527.32V748.06H518.81ZM871.84 740.6H880.35V748.06H871.84ZM510.6 747.76H519.11V755.22H510.6ZM912.89 747.76H937.82V755.22H912.89ZM502.39 754.92H510.9V762.38H502.39ZM953.94 754.92H970.66V762.38H953.94ZM494.18 762.08H502.69V769.54H494.18ZM978.57 762.08H995.3V769.54H978.57ZM477.76 769.24H486.27V776.7H477.76ZM986.79 769.24H1003.51V776.7H986.79ZM461.34 776.4H478.06V783.86H461.34ZM995 776.4H1011.72V783.86H995ZM444.91 783.56H453.43V791.02H444.91ZM995 783.56H1003.51V791.02H995ZM420.28 790.72H437V798.18H420.28ZM986.79 790.72H995.3V798.18H986.79ZM387.44 797.88H412.37V805.34H387.44ZM970.36 797.88H987.09V805.34H970.36ZM953.94 805.04H970.66V812.5H953.94ZM937.52 812.2H946.03V819.66H937.52ZM896.47 819.36H913.19V826.82H896.47ZM863.63 826.52H872.14V833.98H863.63ZM839 833.68H847.51V841.14H839ZM789.74 840.84H806.46V848.3H789.74ZM724.06 848H732.57V855.46H724.06ZM674.8 855.16H683.31V862.62H674.8ZM617.33 862.32H634.05V869.78H617.33ZM551.65 869.48H560.16V876.94H551.65ZM527.02 876.64H535.53V884.1H527.02Z"/>
<path fill="#f3e826" d="M584.49 24.58H593V32.04H584.49ZM584.49 31.74H601.21V39.2H584.49ZM592.7 38.9H609.42V46.36H592.7ZM707.64 38.9H757.2V46.36H707.64ZM773.32 38.9H806.46V46.36H773.32ZM600.91 46.06H617.63V53.52H600.91ZM666.59 46.06H699.73V53.52H666.59ZM814.37 46.06H831.09V53.52H814.37ZM609.12 53.22H666.89V60.68H609.12ZM839 53.22H847.51V60.68H839ZM855.42 60.38H863.93V67.84H855.42ZM863.63 67.54H880.35V75H863.63ZM871.84 74.7H880.35V82.16H871.84ZM880.05 81.86H888.56V89.32H880.05ZM880.05 89.02H888.56V96.48H880.05ZM559.86 96.18H658.68V103.64H559.86ZM871.84 96.18H880.35V103.64H871.84ZM543.44 103.34H560.16V110.8H543.44ZM658.38 103.34H683.31V110.8H658.38ZM863.63 103.34H872.14V110.8H863.63ZM527.02 110.5H543.74V117.96H527.02ZM691.22 110.5H707.94V117.96H691.22ZM839 110.5H855.72V117.96H839ZM518.81 117.66H527.32V125.12H518.81ZM724.06 117.66H748.99V125.12H724.06ZM797.95 117.66H822.88V125.12H797.95ZM510.6 124.82H519.11V132.28H510.6ZM502.39 131.98H510.9V139.44H502.39ZM494.18 139.14H502.69V146.6H494.18ZM485.97 146.3H494.48V153.76H485.97ZM477.76 153.46H486.27V160.92H477.76ZM469.55 160.62H478.06V168.08H469.55ZM469.55 167.78H478.06V175.24H469.55ZM1044.26 167.78H1069.19V175.24H1044.26ZM461.34 174.94H469.85V182.4H461.34ZM1044.26 174.94H1052.77V182.4H1044.26ZM1068.89 174.94H1077.4V182.4H1068.89ZM453.12 182.1H461.64V189.56H453.12ZM1044.26 182.1H1052.77V189.56H1044.26ZM1085.31 182.1H1093.82V189.56H1085.31ZM444.91 189.26H453.43V196.72H444.91ZM1044.26 189.26H1052.77V196.72H1044.26ZM1093.52 189.26H1102.03V196.72H1093.52ZM444.91 196.42H453.43V203.88H444.91ZM1044.26 196.42H1052.77V203.88H1044.26ZM436.7 203.58H445.21V211.04H436.7ZM428.49 210.74H437V218.2H428.49ZM1052.47 210.74H1060.98V218.2H1052.47ZM420.28 217.9H437V225.36H420.28ZM1126.36 217.9H1134.87V225.36H1126.36ZM420.28 225.06H428.79V232.53H420.28ZM1060.68 225.06H1069.19V232.53H1060.68ZM412.07 232.22H420.58V239.69H412.07ZM1134.57 232.22H1143.08V239.69H1134.57ZM403.86 239.39H412.37V246.85H403.86ZM1068.89 239.39H1077.4V246.85H1068.89ZM395.65 246.55H404.16V254.01H395.65ZM1068.89 246.55H1077.4V254.01H1068.89ZM387.44 253.71H395.95V261.17H387.44ZM1068.89 253.71H1077.4V261.17H1068.89ZM371.02 260.87H387.74V268.33H371.02ZM1150.99 260.87H1159.5V268.33H1150.99ZM239.66 268.03H248.17V275.49H239.66ZM362.81 268.03H379.53V275.49H362.81ZM1077.1 268.03H1085.61V275.49H1077.1ZM239.66 275.19H264.59V282.65H239.66ZM346.39 275.19H371.32V282.65H346.39ZM231.45 282.35H272.8V289.81H231.45ZM321.76 282.35H354.9V289.81H321.76ZM1085.31 282.35H1093.82V289.81H1085.31ZM1159.2 282.35H1167.71V289.81H1159.2ZM247.87 289.51H338.48V296.97H247.87ZM1159.2 289.51H1167.71V296.97H1159.2ZM1093.52 296.67H1102.03V304.13H1093.52ZM1093.52 303.83H1102.03V311.29H1093.52ZM1167.41 303.83H1175.92V311.29H1167.41ZM1101.73 318.15H1110.24V325.61H1101.73ZM1101.73 325.31H1110.24V332.77H1101.73ZM1175.62 325.31H1184.13V332.77H1175.62ZM1109.94 332.47H1118.45V339.93H1109.94ZM1175.62 332.47H1184.13V339.93H1175.62ZM1183.83 339.63H1192.34V347.09H1183.83ZM1118.15 346.79H1126.66V354.25H1118.15ZM1183.83 346.79H1192.34V354.25H1183.83ZM1118.15 353.95H1126.66V361.41H1118.15ZM1183.83 353.95H1192.34V361.41H1183.83ZM1126.36 361.11H1134.87V368.57H1126.36ZM1192.04 361.11H1200.55V368.57H1192.04ZM1126.36 368.27H1134.87V375.73H1126.36ZM1192.04 368.27H1200.55V375.73H1192.04ZM1134.57 375.43H1143.08V382.89H1134.57ZM1192.04 375.43H1208.76V382.89H1192.04ZM1142.78 382.59H1151.29V390.05H1142.78ZM1200.25 382.59H1208.76V390.05H1200.25ZM1142.78 389.75H1151.29V397.21H1142.78ZM1208.46 389.75H1216.97V397.21H1208.46ZM1150.99 396.91H1159.5V404.37H1150.99ZM1208.46 396.91H1216.97V404.37H1208.46ZM1159.2 404.07H1167.71V411.53H1159.2ZM1208.46 404.07H1216.97V411.53H1208.46ZM1159.2 411.23H1167.71V418.69H1159.2ZM1216.67 411.23H1225.18V418.69H1216.67ZM1167.41 418.39H1175.92V425.85H1167.41ZM1216.67 418.39H1225.18V425.85H1216.67ZM1167.41 425.55H1175.92V433.01H1167.41ZM1208.46 425.55H1225.18V433.01H1208.46ZM1175.62 432.71H1184.13V440.17H1175.62ZM1208.46 432.71H1216.97V440.17H1208.46ZM1175.62 439.87H1192.34V447.33H1175.62ZM1200.25 439.87H1216.97V447.33H1200.25ZM1183.83 447.03H1208.76V454.49H1183.83ZM1183.83 454.19H1208.76V461.65H1183.83ZM1192.04 461.35H1208.76V468.81H1192.04ZM559.86 711.96H634.05V719.42H559.86ZM543.44 719.12H560.16V726.58H543.44ZM666.59 719.12H683.31V726.58H666.59ZM535.23 726.28H543.74V733.74H535.23ZM748.69 726.28H757.2V733.74H748.69ZM527.02 733.44H535.53V740.9H527.02ZM773.32 733.44H781.83V740.9H773.32ZM830.79 740.6H839.3V748.06H830.79ZM847.21 740.6H872.14V748.06H847.21ZM518.81 747.76H527.32V755.22H518.81ZM888.26 747.76H913.19V755.22H888.26ZM510.6 754.92H519.11V762.38H510.6ZM937.52 754.92H954.24V762.38H937.52ZM502.39 762.08H510.9V769.54H502.39ZM962.15 762.08H978.87V769.54H962.15ZM485.97 769.24H494.48V776.7H485.97ZM978.57 769.24H987.09V776.7H978.57ZM477.76 776.4H486.27V783.86H477.76ZM978.57 776.4H995.3V783.86H978.57ZM453.12 783.56H469.85V791.02H453.12ZM978.57 783.56H995.3V791.02H978.57ZM436.7 790.72H445.21V798.18H436.7ZM978.57 790.72H987.09V798.18H978.57ZM412.07 797.88H428.79V805.34H412.07ZM962.15 797.88H970.66V805.34H962.15ZM379.23 805.04H395.95V812.5H379.23ZM929.31 812.2H937.82V819.66H929.31ZM888.26 819.36H896.77V826.82H888.26ZM855.42 826.52H863.93V833.98H855.42ZM830.79 833.68H839.3V841.14H830.79ZM781.53 840.84H790.04V848.3H781.53ZM715.85 848H724.36V855.46H715.85ZM666.59 855.16H675.1V862.62H666.59ZM592.7 862.32H617.63V869.78H592.7ZM535.23 869.48H551.95V876.94H535.23ZM518.81 876.64H527.32V884.1H518.81Z"/>
<path fill="#f1d523" d="M576.28 24.58H584.79V32.04H576.28ZM576.28 31.74H584.79V39.2H576.28ZM584.49 38.9H593V46.36H584.49ZM756.9 38.9H773.62V46.36H756.9ZM584.49 46.06H601.21V53.52H584.49ZM699.43 46.06H732.57V53.52H699.43ZM789.74 46.06H814.67V53.52H789.74ZM592.7 53.22H609.42V60.68H592.7ZM666.59 53.22H699.73V60.68H666.59ZM822.58 53.22H839.3V60.68H822.58ZM600.91 60.38H675.1V67.84H600.91ZM839 60.38H855.72V67.84H839ZM609.12 67.54H650.47V75H609.12ZM847.21 67.54H863.93V75H847.21ZM609.12 74.7H634.05V82.16H609.12ZM855.42 74.7H872.14V82.16H855.42ZM584.49 81.86H642.26V89.32H584.49ZM863.63 81.86H880.35V89.32H863.63ZM559.86 89.02H658.68V96.48H559.86ZM863.63 89.02H880.35V96.48H863.63ZM543.44 96.18H560.16V103.64H543.44ZM658.38 96.18H683.31V103.64H658.38ZM855.42 96.18H872.14V103.64H855.42ZM527.02 103.34H543.74V110.8H527.02ZM683.01 103.34H707.94V110.8H683.01ZM839 103.34H863.93V110.8H839ZM518.81 110.5H527.32V117.96H518.81ZM707.64 110.5H732.57V117.96H707.64ZM814.37 110.5H839.3V117.96H814.37ZM510.6 117.66H519.11V125.12H510.6ZM748.69 117.66H798.25V125.12H748.69ZM502.39 124.82H510.9V132.28H502.39ZM494.18 131.98H502.69V139.44H494.18ZM485.97 139.14H494.48V146.6H485.97ZM477.76 146.3H486.27V153.76H477.76ZM469.55 153.46H478.06V160.92H469.55ZM461.34 160.62H469.85V168.08H461.34ZM461.34 167.78H469.85V175.24H461.34ZM453.12 174.94H461.64V182.4H453.12ZM1052.47 174.94H1069.19V182.4H1052.47ZM444.91 182.1H453.43V189.56H444.91ZM1052.47 182.1H1085.61V189.56H1052.47ZM436.7 189.26H445.21V196.72H436.7ZM1052.47 189.26H1060.98V196.72H1052.47ZM1085.31 189.26H1093.82V196.72H1085.31ZM436.7 196.42H445.21V203.88H436.7ZM1052.47 196.42H1060.98V203.88H1052.47ZM1101.73 196.42H1110.24V203.88H1101.73ZM428.49 203.58H437V211.04H428.49ZM1052.47 203.58H1060.98V211.04H1052.47ZM1109.94 203.58H1118.45V211.04H1109.94ZM420.28 210.74H428.79V218.2H420.28ZM1118.15 210.74H1126.66V218.2H1118.15ZM412.07 217.9H420.58V225.36H412.07ZM1060.68 217.9H1069.19V225.36H1060.68ZM403.86 225.06H420.58V232.53H403.86ZM1126.36 225.06H1134.87V232.53H1126.36ZM395.65 232.22H412.37V239.69H395.65ZM1068.89 232.22H1077.4V239.69H1068.89ZM256.08 239.39H264.59V246.85H256.08ZM387.44 239.39H404.16V246.85H387.44ZM1134.57 239.39H1143.08V246.85H1134.57ZM256.08 246.55H272.8V254.01H256.08ZM379.23 246.55H395.95V254.01H379.23ZM247.87 253.71H272.8V261.17H247.87ZM371.02 253.71H387.74V261.17H371.02ZM1077.1 253.71H1085.61V261.17H1077.1ZM1142.78 253.71H1151.29V261.17H1142.78ZM247.87 260.87H281.01V268.33H247.87ZM354.6 260.87H371.32V268.33H354.6ZM1077.1 260.87H1085.61V268.33H1077.1ZM247.87 268.03H297.43V275.49H247.87ZM338.18 268.03H363.11V275.49H338.18ZM1150.99 268.03H1159.5V275.49H1150.99ZM264.29 275.19H346.69V282.65H264.29ZM1085.31 275.19H1093.82V282.65H1085.31ZM1150.99 275.19H1159.5V282.65H1150.99ZM272.5 282.35H322.06V289.81H272.5ZM1093.52 289.51H1102.03V296.97H1093.52ZM1159.2 296.67H1167.71V304.13H1159.2ZM1101.73 303.83H1110.24V311.29H1101.73ZM1101.73 310.99H1110.24V318.45H1101.73ZM1167.41 310.99H1175.92V318.45H1167.41ZM1167.41 318.15H1175.92V325.61H1167.41ZM1109.94 325.31H1118.45V332.77H1109.94ZM1118.15 339.63H1126.66V347.09H1118.15ZM1175.62 339.63H1184.13V347.09H1175.62ZM1126.36 346.79H1134.87V354.25H1126.36ZM1175.62 346.79H1184.13V354.25H1175.62ZM1126.36 353.95H1134.87V361.41H1126.36ZM1175.62 353.95H1184.13V361.41H1175.62ZM1134.57 361.11H1143.08V368.57H1134.57ZM1175.62 361.11H1192.34V368.57H1175.62ZM1134.57 368.27H1151.29V375.73H1134.57ZM1183.83 368.27H1192.34V375.73H1183.83ZM1142.78 375.43H1151.29V382.89H1142.78ZM1183.83 375.43H1192.34V382.89H1183.83ZM1150.99 382.59H1159.5V390.05H1150.99ZM1192.04 382.59H1200.55V390.05H1192.04ZM1150.99 389.75H1167.71V397.21H1150.99ZM1192.04 389.75H1208.76V397.21H1192.04ZM1159.2 396.91H1167.71V404.37H1159.2ZM1200.25 396.91H1208.76V404.37H1200.25ZM1167.41 404.07H1175.92V411.53H1167.41ZM1200.25 404.07H1208.76V411.53H1200.25ZM1167.41 411.23H1175.92V418.69H1167.41ZM1200.25 411.23H1216.97V418.69H1200.25ZM1175.62 418.39H1184.13V425.85H1175.62ZM1200.25 418.39H1216.97V425.85H1200.25ZM1175.62 425.55H1208.76V433.01H1175.62ZM1183.83 432.71H1208.76V440.17H1183.83ZM1192.04 439.87H1200.55V447.33H1192.04ZM559.86 719.12H568.37V726.58H559.86ZM633.75 719.12H666.89V726.58H633.75ZM543.44 726.28H551.95V733.74H543.44ZM691.22 726.28H748.99V733.74H691.22ZM535.23 733.44H543.74V740.9H535.23ZM765.11 733.44H773.62V740.9H765.11ZM527.02 740.6H535.53V748.06H527.02ZM806.16 740.6H831.09V748.06H806.16ZM839 740.6H847.51V748.06H839ZM880.05 747.76H888.56V755.22H880.05ZM912.89 754.92H937.82V762.38H912.89ZM945.73 762.08H962.45V769.54H945.73ZM494.18 769.24H502.69V776.7H494.18ZM962.15 769.24H978.87V776.7H962.15ZM485.97 776.4H494.48V783.86H485.97ZM970.36 776.4H978.87V783.86H970.36ZM469.55 783.56H478.06V791.02H469.55ZM970.36 783.56H978.87V791.02H970.36ZM444.91 790.72H461.64V798.18H444.91ZM962.15 790.72H978.87V798.18H962.15ZM428.49 797.88H437V805.34H428.49ZM953.94 797.88H962.45V805.34H953.94ZM395.65 805.04H412.37V812.5H395.65ZM945.73 805.04H954.24V812.5H945.73ZM921.1 812.2H929.61V819.66H921.1ZM880.05 819.36H888.56V826.82H880.05ZM822.58 833.68H831.09V841.14H822.58ZM765.11 840.84H781.83V848.3H765.11ZM699.43 848H716.15V855.46H699.43ZM650.17 855.16H666.89V862.62H650.17ZM551.65 862.32H593V869.78H551.65ZM527.02 869.48H535.53V876.94H527.02Z"/>
<path fill="#f2c01e" d="M568.07 24.58H576.58V32.04H568.07ZM568.07 31.74H576.58V39.2H568.07ZM568.07 38.9H584.79V46.36H568.07ZM576.28 46.06H584.79V53.52H576.28ZM732.27 46.06H790.04V53.52H732.27ZM576.28 53.22H593V60.68H576.28ZM699.43 53.22H724.36V60.68H699.43ZM797.95 53.22H822.88V60.68H797.95ZM584.49 60.38H601.21V67.84H584.49ZM674.8 60.38H699.73V67.84H674.8ZM822.58 60.38H839.3V67.84H822.58ZM584.49 67.54H609.42V75H584.49ZM650.17 67.54H683.31V75H650.17ZM839 67.54H847.51V75H839ZM576.28 74.7H609.42V82.16H576.28ZM633.75 74.7H675.1V82.16H633.75ZM847.21 74.7H855.72V82.16H847.21ZM559.86 81.86H584.79V89.32H559.86ZM641.96 81.86H675.1V89.32H641.96ZM847.21 81.86H863.93V89.32H847.21ZM543.44 89.02H560.16V96.48H543.44ZM658.38 89.02H691.52V96.48H658.38ZM847.21 89.02H863.93V96.48H847.21ZM527.02 96.18H543.74V103.64H527.02ZM683.01 96.18H707.94V103.64H683.01ZM839 96.18H855.72V103.64H839ZM518.81 103.34H527.32V110.8H518.81ZM707.64 103.34H732.57V110.8H707.64ZM822.58 103.34H839.3V110.8H822.58ZM510.6 110.5H519.11V117.96H510.6ZM732.27 110.5H814.67V117.96H732.27ZM502.39 117.66H510.9V125.12H502.39ZM494.18 124.82H502.69V132.28H494.18ZM485.97 131.98H494.48V139.44H485.97ZM477.76 139.14H486.27V146.6H477.76ZM469.55 146.3H478.06V153.76H469.55ZM461.34 153.46H469.85V160.92H461.34ZM453.12 160.62H461.64V168.08H453.12ZM453.12 167.78H461.64V175.24H453.12ZM444.91 174.94H453.43V182.4H444.91ZM436.7 182.1H445.21V189.56H436.7ZM428.49 189.26H437V196.72H428.49ZM1060.68 189.26H1085.61V196.72H1060.68ZM420.28 196.42H437V203.88H420.28ZM1060.68 196.42H1069.19V203.88H1060.68ZM1093.52 196.42H1102.03V203.88H1093.52ZM412.07 203.58H428.79V211.04H412.07ZM1060.68 203.58H1069.19V211.04H1060.68ZM1101.73 203.58H1110.24V211.04H1101.73ZM403.86 210.74H420.58V218.2H403.86ZM1060.68 210.74H1069.19V218.2H1060.68ZM1109.94 210.74H1118.45V218.2H1109.94ZM272.5 217.9H281.01V225.36H272.5ZM403.86 217.9H412.37V225.36H403.86ZM1118.15 217.9H1126.66V225.36H1118.15ZM264.29 225.06H289.22V232.53H264.29ZM387.44 225.06H404.16V232.53H387.44ZM1068.89 225.06H1077.4V232.53H1068.89ZM264.29 232.22H297.43V239.69H264.29ZM379.23 232.22H395.95V239.69H379.23ZM1126.36 232.22H1134.87V239.69H1126.36ZM264.29 239.39H297.43V246.85H264.29ZM371.02 239.39H387.74V246.85H371.02ZM1077.1 239.39H1085.61V246.85H1077.1ZM272.5 246.55H305.64V254.01H272.5ZM362.81 246.55H379.53V254.01H362.81ZM1077.1 246.55H1085.61V254.01H1077.1ZM1134.57 246.55H1143.08V254.01H1134.57ZM272.5 253.71H313.85V261.17H272.5ZM338.18 253.71H371.32V261.17H338.18ZM280.71 260.87H354.9V268.33H280.71ZM1142.78 260.87H1151.29V268.33H1142.78ZM297.13 268.03H338.48V275.49H297.13ZM1085.31 268.03H1093.82V275.49H1085.31ZM1093.52 282.35H1102.03V289.81H1093.52ZM1150.99 282.35H1159.5V289.81H1150.99ZM1101.73 296.67H1110.24V304.13H1101.73ZM1159.2 303.83H1167.71V311.29H1159.2ZM1109.94 310.99H1118.45V318.45H1109.94ZM1109.94 318.15H1118.45V325.61H1109.94ZM1118.15 325.31H1126.66V332.77H1118.15ZM1167.41 325.31H1175.92V332.77H1167.41ZM1118.15 332.47H1126.66V339.93H1118.15ZM1167.41 332.47H1175.92V339.93H1167.41ZM1126.36 339.63H1134.87V347.09H1126.36ZM1167.41 339.63H1175.92V347.09H1167.41ZM1134.57 346.79H1143.08V354.25H1134.57ZM1167.41 346.79H1175.92V354.25H1167.41ZM1134.57 353.95H1151.29V361.41H1134.57ZM1159.2 353.95H1175.92V361.41H1159.2ZM1142.78 361.11H1175.92V368.57H1142.78ZM1150.99 368.27H1184.13V375.73H1150.99ZM1150.99 375.43H1184.13V382.89H1150.99ZM1159.2 382.59H1192.34V390.05H1159.2ZM1167.41 389.75H1192.34V397.21H1167.41ZM1167.41 396.91H1200.55V404.37H1167.41ZM1175.62 404.07H1200.55V411.53H1175.62ZM1175.62 411.23H1200.55V418.69H1175.62ZM1183.83 418.39H1200.55V425.85H1183.83ZM568.07 719.12H593V726.58H568.07ZM609.12 719.12H634.05V726.58H609.12ZM551.65 726.28H560.16V733.74H551.65ZM674.8 726.28H691.52V733.74H674.8ZM543.44 733.44H551.95V740.9H543.44ZM535.23 740.6H543.74V748.06H535.23ZM789.74 740.6H806.46V748.06H789.74ZM527.02 747.76H535.53V755.22H527.02ZM871.84 747.76H880.35V755.22H871.84ZM518.81 754.92H527.32V762.38H518.81ZM896.47 754.92H913.19V762.38H896.47ZM510.6 762.08H519.11V769.54H510.6ZM929.31 762.08H946.03V769.54H929.31ZM502.39 769.24H510.9V776.7H502.39ZM945.73 769.24H962.45V776.7H945.73ZM962.15 776.4H970.66V783.86H962.15ZM477.76 783.56H486.27V791.02H477.76ZM962.15 783.56H970.66V791.02H962.15ZM461.34 790.72H469.85V798.18H461.34ZM953.94 790.72H962.45V798.18H953.94ZM436.7 797.88H453.43V805.34H436.7ZM945.73 797.88H954.24V805.34H945.73ZM412.07 805.04H428.79V812.5H412.07ZM937.52 805.04H946.03V812.5H937.52ZM387.44 812.2H404.16V819.66H387.44ZM896.47 812.2H921.4V819.66H896.47ZM871.84 819.36H880.35V826.82H871.84ZM847.21 826.52H855.72V833.98H847.21ZM814.37 833.68H822.88V841.14H814.37ZM748.69 840.84H765.41V848.3H748.69ZM691.22 848H699.73V855.46H691.22ZM625.54 855.16H650.47V862.62H625.54ZM535.23 862.32H551.95V869.78H535.23ZM510.6 869.48H527.32V876.94H510.6Z"/>
<path fill="#f3ac1d" d="M551.65 31.74H568.37V39.2H551.65ZM559.86 38.9H568.37V46.36H559.86ZM559.86 46.06H576.58V53.52H559.86ZM568.07 53.22H576.58V60.68H568.07ZM724.06 53.22H798.25V60.68H724.06ZM568.07 60.38H584.79V67.84H568.07ZM699.43 60.38H732.57V67.84H699.43ZM797.95 60.38H822.88V67.84H797.95ZM559.86 67.54H584.79V75H559.86ZM683.01 67.54H707.94V75H683.01ZM814.37 67.54H839.3V75H814.37ZM551.65 74.7H576.58V82.16H551.65ZM674.8 74.7H699.73V82.16H674.8ZM830.79 74.7H847.51V82.16H830.79ZM543.44 81.86H560.16V89.32H543.44ZM674.8 81.86H699.73V89.32H674.8ZM830.79 81.86H847.51V89.32H830.79ZM527.02 89.02H543.74V96.48H527.02ZM691.22 89.02H707.94V96.48H691.22ZM830.79 89.02H847.51V96.48H830.79ZM518.81 96.18H527.32V103.64H518.81ZM707.64 96.18H732.57V103.64H707.64ZM814.37 96.18H839.3V103.64H814.37ZM510.6 103.34H519.11V110.8H510.6ZM732.27 103.34H757.2V110.8H732.27ZM789.74 103.34H822.88V110.8H789.74ZM502.39 110.5H510.9V117.96H502.39ZM494.18 117.66H502.69V125.12H494.18ZM485.97 124.82H494.48V132.28H485.97ZM477.76 131.98H486.27V139.44H477.76ZM469.55 139.14H478.06V146.6H469.55ZM461.34 146.3H469.85V153.76H461.34ZM453.12 153.46H461.64V160.92H453.12ZM444.91 160.62H453.43V168.08H444.91ZM436.7 167.78H453.43V175.24H436.7ZM428.49 174.94H445.21V182.4H428.49ZM428.49 182.1H437V189.56H428.49ZM420.28 189.26H428.79V196.72H420.28ZM288.92 196.42H305.64V203.88H288.92ZM412.07 196.42H420.58V203.88H412.07ZM1068.89 196.42H1093.82V203.88H1068.89ZM280.71 203.58H305.64V211.04H280.71ZM403.86 203.58H412.37V211.04H403.86ZM1068.89 203.58H1077.4V211.04H1068.89ZM280.71 210.74H313.85V218.2H280.71ZM387.44 210.74H404.16V218.2H387.44ZM1068.89 210.74H1077.4V218.2H1068.89ZM280.71 217.9H313.85V225.36H280.71ZM379.23 217.9H404.16V225.36H379.23ZM1068.89 217.9H1077.4V225.36H1068.89ZM288.92 225.06H313.85V232.53H288.92ZM371.02 225.06H387.74V232.53H371.02ZM1077.1 225.06H1085.61V232.53H1077.1ZM1118.15 225.06H1126.66V232.53H1118.15ZM297.13 232.22H322.06V239.69H297.13ZM362.81 232.22H379.53V239.69H362.81ZM1077.1 232.22H1085.61V239.69H1077.1ZM297.13 239.39H371.32V246.85H297.13ZM1126.36 239.39H1134.87V246.85H1126.36ZM305.34 246.55H363.11V254.01H305.34ZM313.55 253.71H338.48V261.17H313.55ZM1085.31 253.71H1093.82V261.17H1085.31ZM1085.31 260.87H1093.82V268.33H1085.31ZM1142.78 268.03H1151.29V275.49H1142.78ZM1093.52 275.19H1102.03V282.65H1093.52ZM1101.73 289.51H1110.24V296.97H1101.73ZM1150.99 289.51H1159.5V296.97H1150.99ZM1150.99 296.67H1159.5V304.13H1150.99ZM1109.94 303.83H1118.45V311.29H1109.94ZM1159.2 310.99H1167.71V318.45H1159.2ZM1118.15 318.15H1126.66V325.61H1118.15ZM1159.2 318.15H1167.71V325.61H1159.2ZM1126.36 325.31H1134.87V332.77H1126.36ZM1159.2 325.31H1167.71V332.77H1159.2ZM1126.36 332.47H1143.08V339.93H1126.36ZM1150.99 332.47H1167.71V339.93H1150.99ZM1134.57 339.63H1167.71V347.09H1134.57ZM1142.78 346.79H1167.71V354.25H1142.78ZM1150.99 353.95H1159.5V361.41H1150.99ZM592.7 719.12H609.42V726.58H592.7ZM559.86 726.28H568.37V733.74H559.86ZM650.17 726.28H675.1V733.74H650.17ZM551.65 733.44H560.16V740.9H551.65ZM748.69 733.44H765.41V740.9H748.69ZM543.44 740.6H551.95V748.06H543.44ZM781.53 740.6H790.04V748.06H781.53ZM535.23 747.76H543.74V755.22H535.23ZM863.63 747.76H872.14V755.22H863.63ZM527.02 754.92H535.53V762.38H527.02ZM888.26 754.92H896.77V762.38H888.26ZM518.81 762.08H527.32V769.54H518.81ZM912.89 762.08H929.61V769.54H912.89ZM929.31 769.24H946.03V776.7H929.31ZM494.18 776.4H502.69V783.86H494.18ZM945.73 776.4H962.45V783.86H945.73ZM485.97 783.56H494.48V791.02H485.97ZM953.94 783.56H962.45V791.02H953.94ZM469.55 790.72H478.06V798.18H469.55ZM945.73 790.72H954.24V798.18H945.73ZM453.12 797.88H461.64V805.34H453.12ZM937.52 797.88H946.03V805.34H937.52ZM428.49 805.04H445.21V812.5H428.49ZM929.31 805.04H937.82V812.5H929.31ZM403.86 812.2H420.58V819.66H403.86ZM888.26 812.2H896.77V819.66H888.26ZM863.63 819.36H872.14V826.82H863.63ZM839 826.52H847.51V833.98H839ZM806.16 833.68H814.67V841.14H806.16ZM740.48 840.84H748.99V848.3H740.48ZM683.01 848H691.52V855.46H683.01ZM609.12 855.16H625.84V862.62H609.12ZM518.81 862.32H535.53V869.78H518.81ZM502.39 869.48H510.9V876.94H502.39Z"/>
<path fill="#f49b1d" d="M543.44 31.74H551.95V39.2H543.44ZM543.44 38.9H560.16V46.36H543.44ZM543.44 46.06H560.16V53.52H543.44ZM551.65 53.22H568.37V60.68H551.65ZM551.65 60.38H568.37V67.84H551.65ZM732.27 60.38H798.25V67.84H732.27ZM543.44 67.54H560.16V75H543.44ZM707.64 67.54H740.78V75H707.64ZM797.95 67.54H814.67V75H797.95ZM535.23 74.7H551.95V82.16H535.23ZM699.43 74.7H732.57V82.16H699.43ZM806.16 74.7H831.09V82.16H806.16ZM527.02 81.86H543.74V89.32H527.02ZM699.43 81.86H732.57V89.32H699.43ZM814.37 81.86H831.09V89.32H814.37ZM518.81 89.02H527.32V96.48H518.81ZM707.64 89.02H740.78V96.48H707.64ZM806.16 89.02H831.09V96.48H806.16ZM510.6 96.18H519.11V103.64H510.6ZM732.27 96.18H757.2V103.64H732.27ZM789.74 96.18H814.67V103.64H789.74ZM502.39 103.34H510.9V110.8H502.39ZM756.9 103.34H790.04V110.8H756.9ZM494.18 110.5H502.69V117.96H494.18ZM485.97 117.66H494.48V125.12H485.97ZM477.76 124.82H486.27V132.28H477.76ZM469.55 131.98H478.06V139.44H469.55ZM461.34 139.14H469.85V146.6H461.34ZM453.12 146.3H461.64V153.76H453.12ZM444.91 153.46H453.43V160.92H444.91ZM436.7 160.62H445.21V168.08H436.7ZM428.49 167.78H437V175.24H428.49ZM305.34 174.94H313.85V182.4H305.34ZM420.28 174.94H428.79V182.4H420.28ZM305.34 182.1H322.06V189.56H305.34ZM412.07 182.1H428.79V189.56H412.07ZM297.13 189.26H330.27V196.72H297.13ZM395.65 189.26H420.58V196.72H395.65ZM305.34 196.42H330.27V203.88H305.34ZM387.44 196.42H412.37V203.88H387.44ZM305.34 203.58H338.48V211.04H305.34ZM371.02 203.58H404.16V211.04H371.02ZM1077.1 203.58H1102.03V211.04H1077.1ZM313.55 210.74H346.69V218.2H313.55ZM362.81 210.74H387.74V218.2H362.81ZM1077.1 210.74H1085.61V218.2H1077.1ZM1101.73 210.74H1110.24V218.2H1101.73ZM313.55 217.9H379.53V225.36H313.55ZM1077.1 217.9H1085.61V225.36H1077.1ZM1109.94 217.9H1118.45V225.36H1109.94ZM313.55 225.06H371.32V232.53H313.55ZM1109.94 225.06H1118.45V232.53H1109.94ZM321.76 232.22H363.11V239.69H321.76ZM1085.31 232.22H1093.82V239.69H1085.31ZM1118.15 232.22H1126.66V239.69H1118.15ZM1085.31 239.39H1093.82V246.85H1085.31ZM1085.31 246.55H1093.82V254.01H1085.31ZM1126.36 246.55H1134.87V254.01H1126.36ZM1134.57 253.71H1143.08V261.17H1134.57ZM1093.52 268.03H1102.03V275.49H1093.52ZM1142.78 275.19H1151.29V282.65H1142.78ZM1101.73 282.35H1110.24V289.81H1101.73ZM1142.78 282.35H1151.29V289.81H1142.78ZM1109.94 289.51H1118.45V296.97H1109.94ZM1109.94 296.67H1118.45V304.13H1109.94ZM1118.15 303.83H1126.66V311.29H1118.15ZM1150.99 303.83H1159.5V311.29H1150.99ZM1118.15 310.99H1126.66V318.45H1118.15ZM1150.99 310.99H1159.5V318.45H1150.99ZM1126.36 318.15H1134.87V325.61H1126.36ZM1150.99 318.15H1159.5V325.61H1150.99ZM1134.57 325.31H1159.5V332.77H1134.57ZM1142.78 332.47H1151.29V339.93H1142.78ZM568.07 726.28H576.58V733.74H568.07ZM625.54 726.28H650.47V733.74H625.54ZM683.01 733.44H716.15V740.9H683.01ZM732.27 733.44H748.99V740.9H732.27ZM773.32 740.6H781.83V748.06H773.32ZM806.16 747.76H863.93V755.22H806.16ZM880.05 754.92H888.56V762.38H880.05ZM904.68 762.08H913.19V769.54H904.68ZM510.6 769.24H519.11V776.7H510.6ZM921.1 769.24H929.61V776.7H921.1ZM502.39 776.4H510.9V783.86H502.39ZM929.31 776.4H946.03V783.86H929.31ZM937.52 783.56H954.24V791.02H937.52ZM477.76 790.72H486.27V798.18H477.76ZM937.52 790.72H946.03V798.18H937.52ZM461.34 797.88H469.85V805.34H461.34ZM929.31 797.88H937.82V805.34H929.31ZM444.91 805.04H461.64V812.5H444.91ZM912.89 805.04H929.61V812.5H912.89ZM420.28 812.2H437V819.66H420.28ZM880.05 812.2H888.56V819.66H880.05ZM403.86 819.36H420.58V826.82H403.86ZM830.79 826.52H839.3V833.98H830.79ZM797.95 833.68H806.46V841.14H797.95ZM732.27 840.84H740.78V848.3H732.27ZM666.59 848H683.31V855.46H666.59ZM543.44 855.16H609.42V862.62H543.44ZM502.39 862.32H519.11V869.78H502.39Z"/>
<path fill="#f4871e" d="M535.23 38.9H543.74V46.36H535.23ZM535.23 46.06H543.74V53.52H535.23ZM535.23 53.22H551.95V60.68H535.23ZM535.23 60.38H551.95V67.84H535.23ZM527.02 67.54H543.74V75H527.02ZM740.48 67.54H798.25V75H740.48ZM518.81 74.7H535.53V82.16H518.81ZM732.27 74.7H806.46V82.16H732.27ZM510.6 81.86H527.32V89.32H510.6ZM732.27 81.86H765.41V89.32H732.27ZM781.53 81.86H814.67V89.32H781.53ZM510.6 89.02H519.11V96.48H510.6ZM740.48 89.02H806.46V96.48H740.48ZM502.39 96.18H510.9V103.64H502.39ZM756.9 96.18H790.04V103.64H756.9ZM494.18 103.34H502.69V110.8H494.18ZM485.97 110.5H494.48V117.96H485.97ZM477.76 117.66H486.27V125.12H477.76ZM469.55 124.82H478.06V132.28H469.55ZM461.34 131.98H469.85V139.44H461.34ZM453.12 139.14H461.64V146.6H453.12ZM444.91 146.3H453.43V153.76H444.91ZM428.49 153.46H445.21V160.92H428.49ZM420.28 160.62H437V168.08H420.28ZM313.55 167.78H330.27V175.24H313.55ZM412.07 167.78H428.79V175.24H412.07ZM313.55 174.94H338.48V182.4H313.55ZM403.86 174.94H420.58V182.4H403.86ZM321.76 182.1H354.9V189.56H321.76ZM379.23 182.1H412.37V189.56H379.23ZM329.97 189.26H395.95V196.72H329.97ZM329.97 196.42H387.74V203.88H329.97ZM338.18 203.58H371.32V211.04H338.18ZM346.39 210.74H363.11V218.2H346.39ZM1085.31 210.74H1102.03V218.2H1085.31ZM1085.31 217.9H1110.24V225.36H1085.31ZM1085.31 225.06H1110.24V232.53H1085.31ZM1093.52 232.22H1102.03V239.69H1093.52ZM1109.94 232.22H1118.45V239.69H1109.94ZM1093.52 239.39H1102.03V246.85H1093.52ZM1118.15 239.39H1126.66V246.85H1118.15ZM1093.52 246.55H1102.03V254.01H1093.52ZM1093.52 253.71H1102.03V261.17H1093.52ZM1093.52 260.87H1102.03V268.33H1093.52ZM1134.57 260.87H1143.08V268.33H1134.57ZM1134.57 268.03H1143.08V275.49H1134.57ZM1101.73 275.19H1110.24V282.65H1101.73ZM1109.94 282.35H1118.45V289.81H1109.94ZM1142.78 289.51H1151.29V296.97H1142.78ZM1118.15 296.67H1126.66V304.13H1118.15ZM1142.78 296.67H1151.29V304.13H1142.78ZM1126.36 303.83H1151.29V311.29H1126.36ZM1126.36 310.99H1151.29V318.45H1126.36ZM1134.57 318.15H1151.29V325.61H1134.57ZM576.28 726.28H625.84V733.74H576.28ZM559.86 733.44H568.37V740.9H559.86ZM658.38 733.44H683.31V740.9H658.38ZM715.85 733.44H732.57V740.9H715.85ZM551.65 740.6H560.16V748.06H551.65ZM765.11 740.6H773.62V748.06H765.11ZM543.44 747.76H551.95V755.22H543.44ZM789.74 747.76H806.46V755.22H789.74ZM535.23 754.92H543.74V762.38H535.23ZM871.84 754.92H880.35V762.38H871.84ZM527.02 762.08H535.53V769.54H527.02ZM896.47 762.08H904.98V769.54H896.47ZM518.81 769.24H527.32V776.7H518.81ZM912.89 769.24H921.4V776.7H912.89ZM921.1 776.4H929.61V783.86H921.1ZM494.18 783.56H502.69V791.02H494.18ZM929.31 783.56H937.82V791.02H929.31ZM485.97 790.72H494.48V798.18H485.97ZM929.31 790.72H937.82V798.18H929.31ZM469.55 797.88H478.06V805.34H469.55ZM921.1 797.88H929.61V805.34H921.1ZM461.34 805.04H469.85V812.5H461.34ZM896.47 805.04H913.19V812.5H896.47ZM436.7 812.2H453.43V819.66H436.7ZM420.28 819.36H437V826.82H420.28ZM855.42 819.36H863.93V826.82H855.42ZM412.07 826.52H420.58V833.98H412.07ZM822.58 826.52H831.09V833.98H822.58ZM781.53 833.68H798.25V841.14H781.53ZM715.85 840.84H732.57V848.3H715.85ZM658.38 848H666.89V855.46H658.38ZM510.6 855.16H543.74V862.62H510.6ZM485.97 862.32H502.69V869.78H485.97Z"/>
<path fill="#f3781f" d="M518.81 38.9H535.53V46.36H518.81ZM518.81 46.06H535.53V53.52H518.81ZM518.81 53.22H535.53V60.68H518.81ZM518.81 60.38H535.53V67.84H518.81ZM518.81 67.54H527.32V75H518.81ZM510.6 74.7H519.11V82.16H510.6ZM502.39 81.86H510.9V89.32H502.39ZM765.11 81.86H781.83V89.32H765.11ZM494.18 89.02H510.9V96.48H494.18ZM494.18 96.18H502.69V103.64H494.18ZM485.97 103.34H494.48V110.8H485.97ZM477.76 110.5H486.27V117.96H477.76ZM469.55 117.66H478.06V125.12H469.55ZM461.34 124.82H469.85V132.28H461.34ZM444.91 131.98H461.64V139.44H444.91ZM436.7 139.14H453.43V146.6H436.7ZM428.49 146.3H445.21V153.76H428.49ZM412.07 153.46H428.79V160.92H412.07ZM321.76 160.62H346.69V168.08H321.76ZM403.86 160.62H420.58V168.08H403.86ZM329.97 167.78H412.37V175.24H329.97ZM338.18 174.94H404.16V182.4H338.18ZM354.6 182.1H379.53V189.56H354.6ZM1101.73 232.22H1110.24V239.69H1101.73ZM1101.73 239.39H1118.45V246.85H1101.73ZM1101.73 246.55H1110.24V254.01H1101.73ZM1118.15 246.55H1126.66V254.01H1118.15ZM1126.36 253.71H1134.87V261.17H1126.36ZM1101.73 260.87H1110.24V268.33H1101.73ZM1101.73 268.03H1110.24V275.49H1101.73ZM1109.94 275.19H1118.45V282.65H1109.94ZM1134.57 275.19H1143.08V282.65H1134.57ZM1118.15 282.35H1143.08V289.81H1118.15ZM1118.15 289.51H1143.08V296.97H1118.15ZM1126.36 296.67H1143.08V304.13H1126.36ZM568.07 733.44H576.58V740.9H568.07ZM633.75 733.44H658.68V740.9H633.75ZM559.86 740.6H568.37V748.06H559.86ZM756.9 740.6H765.41V748.06H756.9ZM551.65 747.76H560.16V755.22H551.65ZM781.53 747.76H790.04V755.22H781.53ZM543.44 754.92H551.95V762.38H543.44ZM863.63 754.92H872.14V762.38H863.63ZM535.23 762.08H543.74V769.54H535.23ZM888.26 762.08H896.77V769.54H888.26ZM527.02 769.24H535.53V776.7H527.02ZM896.47 769.24H913.19V776.7H896.47ZM510.6 776.4H519.11V783.86H510.6ZM912.89 776.4H921.4V783.86H912.89ZM502.39 783.56H510.9V791.02H502.39ZM921.1 783.56H929.61V791.02H921.1ZM494.18 790.72H502.69V798.18H494.18ZM921.1 790.72H929.61V798.18H921.1ZM477.76 797.88H486.27V805.34H477.76ZM904.68 797.88H921.4V805.34H904.68ZM469.55 805.04H478.06V812.5H469.55ZM888.26 805.04H896.77V812.5H888.26ZM453.12 812.2H461.64V819.66H453.12ZM871.84 812.2H880.35V819.66H871.84ZM436.7 819.36H453.43V826.82H436.7ZM847.21 819.36H855.72V826.82H847.21ZM420.28 826.52H437V833.98H420.28ZM765.11 833.68H781.83V841.14H765.11ZM707.64 840.84H716.15V848.3H707.64ZM617.33 848H658.68V855.46H617.33ZM494.18 855.16H510.9V862.62H494.18ZM477.76 862.32H486.27V869.78H477.76Z"/>
<path fill="#f26921" d="M510.6 46.06H519.11V53.52H510.6ZM510.6 53.22H519.11V60.68H510.6ZM502.39 60.38H519.11V67.84H502.39ZM502.39 67.54H519.11V75H502.39ZM502.39 74.7H510.9V82.16H502.39ZM494.18 81.86H502.69V89.32H494.18ZM485.97 89.02H494.48V96.48H485.97ZM477.76 96.18H494.48V103.64H477.76ZM477.76 103.34H486.27V110.8H477.76ZM469.55 110.5H478.06V117.96H469.55ZM453.12 117.66H469.85V125.12H453.12ZM444.91 124.82H461.64V132.28H444.91ZM436.7 131.98H445.21V139.44H436.7ZM420.28 139.14H437V146.6H420.28ZM338.18 146.3H354.9V153.76H338.18ZM403.86 146.3H428.79V153.76H403.86ZM329.97 153.46H412.37V160.92H329.97ZM346.39 160.62H404.16V168.08H346.39ZM1109.94 246.55H1118.45V254.01H1109.94ZM1101.73 253.71H1126.66V261.17H1101.73ZM1109.94 260.87H1134.87V268.33H1109.94ZM1109.94 268.03H1134.87V275.49H1109.94ZM1118.15 275.19H1134.87V282.65H1118.15ZM576.28 733.44H584.79V740.9H576.28ZM609.12 733.44H634.05V740.9H609.12ZM683.01 740.6H691.52V748.06H683.01ZM748.69 740.6H757.2V748.06H748.69ZM773.32 747.76H781.83V755.22H773.32ZM814.37 754.92H863.93V762.38H814.37ZM880.05 762.08H888.56V769.54H880.05ZM518.81 776.4H527.32V783.86H518.81ZM904.68 776.4H913.19V783.86H904.68ZM904.68 783.56H921.4V791.02H904.68ZM904.68 790.72H921.4V798.18H904.68ZM485.97 797.88H494.48V805.34H485.97ZM896.47 797.88H904.98V805.34H896.47ZM477.76 805.04H486.27V812.5H477.76ZM880.05 805.04H888.56V812.5H880.05ZM461.34 812.2H478.06V819.66H461.34ZM863.63 812.2H872.14V819.66H863.63ZM453.12 819.36H461.64V826.82H453.12ZM839 819.36H847.51V826.82H839ZM436.7 826.52H453.43V833.98H436.7ZM814.37 826.52H822.88V833.98H814.37ZM420.28 833.68H445.21V841.14H420.28ZM756.9 833.68H765.41V841.14H756.9ZM691.22 840.84H707.94V848.3H691.22ZM510.6 848H584.79V855.46H510.6ZM592.7 848H617.63V855.46H592.7ZM461.34 855.16H494.48V862.62H461.34Z"/>
<path fill="#f15822" d="M502.39 46.06H510.9V53.52H502.39ZM494.18 53.22H510.9V60.68H494.18ZM494.18 60.38H502.69V67.84H494.18ZM494.18 67.54H502.69V75H494.18ZM485.97 74.7H502.69V82.16H485.97ZM485.97 81.86H494.48V89.32H485.97ZM477.76 89.02H486.27V96.48H477.76ZM469.55 96.18H478.06V103.64H469.55ZM461.34 103.34H478.06V110.8H461.34ZM453.12 110.5H469.85V117.96H453.12ZM444.91 117.66H453.43V125.12H444.91ZM428.49 124.82H445.21V132.28H428.49ZM412.07 131.98H437V139.44H412.07ZM346.39 139.14H420.58V146.6H346.39ZM354.6 146.3H404.16V153.76H354.6ZM584.49 733.44H609.42V740.9H584.49ZM568.07 740.6H576.58V748.06H568.07ZM650.17 740.6H683.31V748.06H650.17ZM691.22 740.6H748.99V748.06H691.22ZM559.86 747.76H568.37V755.22H559.86ZM551.65 754.92H560.16V762.38H551.65ZM797.95 754.92H814.67V762.38H797.95ZM543.44 762.08H551.95V769.54H543.44ZM871.84 762.08H880.35V769.54H871.84ZM535.23 769.24H543.74V776.7H535.23ZM888.26 769.24H896.77V776.7H888.26ZM527.02 776.4H535.53V783.86H527.02ZM896.47 776.4H904.98V783.86H896.47ZM510.6 783.56H519.11V791.02H510.6ZM896.47 783.56H904.98V791.02H896.47ZM502.39 790.72H510.9V798.18H502.39ZM896.47 790.72H904.98V798.18H896.47ZM494.18 797.88H502.69V805.34H494.18ZM888.26 797.88H896.77V805.34H888.26ZM485.97 805.04H494.48V812.5H485.97ZM477.76 812.2H486.27V819.66H477.76ZM855.42 812.2H863.93V819.66H855.42ZM461.34 819.36H478.06V826.82H461.34ZM830.79 819.36H839.3V826.82H830.79ZM453.12 826.52H469.85V833.98H453.12ZM806.16 826.52H814.67V833.98H806.16ZM444.91 833.68H461.64V841.14H444.91ZM740.48 833.68H757.2V841.14H740.48ZM436.7 840.84H461.64V848.3H436.7ZM674.8 840.84H691.52V848.3H674.8ZM453.12 848H510.9V855.46H453.12ZM584.49 848H593V855.46H584.49Z"/>
<path fill="#f04623" d="M485.97 53.22H494.48V60.68H485.97ZM485.97 60.38H494.48V67.84H485.97ZM485.97 67.54H494.48V75H485.97ZM477.76 74.7H486.27V82.16H477.76ZM477.76 81.86H486.27V89.32H477.76ZM469.55 89.02H478.06V96.48H469.55ZM461.34 96.18H469.85V103.64H461.34ZM453.12 103.34H461.64V110.8H453.12ZM444.91 110.5H453.43V117.96H444.91ZM428.49 117.66H445.21V125.12H428.49ZM362.81 124.82H428.79V132.28H362.81ZM354.6 131.98H412.37V139.44H354.6ZM576.28 740.6H584.79V748.06H576.28ZM625.54 740.6H650.47V748.06H625.54ZM568.07 747.76H576.58V755.22H568.07ZM765.11 747.76H773.62V755.22H765.11ZM559.86 754.92H568.37V762.38H559.86ZM789.74 754.92H798.25V762.38H789.74ZM551.65 762.08H560.16V769.54H551.65ZM863.63 762.08H872.14V769.54H863.63ZM543.44 769.24H551.95V776.7H543.44ZM880.05 769.24H888.56V776.7H880.05ZM888.26 776.4H896.77V783.86H888.26ZM518.81 783.56H527.32V791.02H518.81ZM888.26 790.72H896.77V798.18H888.26ZM871.84 805.04H880.35V812.5H871.84ZM485.97 812.2H494.48V819.66H485.97ZM847.21 812.2H855.72V819.66H847.21ZM477.76 819.36H486.27V826.82H477.76ZM822.58 819.36H831.09V826.82H822.58ZM469.55 826.52H478.06V833.98H469.55ZM797.95 826.52H806.46V833.98H797.95ZM461.34 833.68H486.27V841.14H461.34ZM732.27 833.68H740.78V841.14H732.27ZM461.34 840.84H543.74V848.3H461.34ZM658.38 840.84H675.1V848.3H658.38Z"/>
<path fill="#ef3a24" d="M477.76 53.22H486.27V60.68H477.76ZM469.55 60.38H486.27V67.84H469.55ZM469.55 67.54H486.27V75H469.55ZM469.55 74.7H478.06V82.16H469.55ZM461.34 81.86H478.06V89.32H461.34ZM461.34 89.02H469.85V96.48H461.34ZM453.12 96.18H461.64V103.64H453.12ZM436.7 103.34H453.43V110.8H436.7ZM379.23 110.5H445.21V117.96H379.23ZM371.02 117.66H428.79V125.12H371.02ZM584.49 740.6H625.84V748.06H584.49ZM748.69 747.76H765.41V755.22H748.69ZM781.53 754.92H790.04V762.38H781.53ZM814.37 762.08H863.93V769.54H814.37ZM871.84 769.24H880.35V776.7H871.84ZM535.23 776.4H543.74V783.86H535.23ZM880.05 776.4H888.56V783.86H880.05ZM527.02 783.56H535.53V791.02H527.02ZM888.26 783.56H896.77V791.02H888.26ZM510.6 790.72H519.11V798.18H510.6ZM502.39 797.88H510.9V805.34H502.39ZM880.05 797.88H888.56V805.34H880.05ZM494.18 805.04H502.69V812.5H494.18ZM863.63 805.04H872.14V812.5H863.63ZM494.18 812.2H502.69V819.66H494.18ZM839 812.2H847.51V819.66H839ZM485.97 819.36H494.48V826.82H485.97ZM477.76 826.52H494.48V833.98H477.76ZM781.53 826.52H798.25V833.98H781.53ZM485.97 833.68H510.9V841.14H485.97ZM724.06 833.68H732.57V841.14H724.06ZM543.44 840.84H576.58V848.3H543.44ZM600.91 840.84H658.68V848.3H600.91Z"/>
<path fill="#ee3025" d="M461.34 67.54H469.85V75H461.34ZM453.12 74.7H469.85V82.16H453.12ZM453.12 81.86H461.64V89.32H453.12ZM444.91 89.02H461.64V96.48H444.91ZM436.7 96.18H453.43V103.64H436.7ZM387.44 103.34H437V110.8H387.44ZM576.28 747.76H584.79V755.22H576.28ZM633.75 747.76H716.15V755.22H633.75ZM724.06 747.76H748.99V755.22H724.06ZM568.07 754.92H576.58V762.38H568.07ZM773.32 754.92H781.83V762.38H773.32ZM559.86 762.08H568.37V769.54H559.86ZM797.95 762.08H814.67V769.54H797.95ZM551.65 769.24H560.16V776.7H551.65ZM863.63 769.24H872.14V776.7H863.63ZM543.44 776.4H551.95V783.86H543.44ZM535.23 783.56H543.74V791.02H535.23ZM880.05 783.56H888.56V791.02H880.05ZM518.81 790.72H527.32V798.18H518.81ZM880.05 790.72H888.56V798.18H880.05ZM510.6 797.88H519.11V805.34H510.6ZM871.84 797.88H880.35V805.34H871.84ZM502.39 805.04H510.9V812.5H502.39ZM855.42 805.04H863.93V812.5H855.42ZM502.39 812.2H510.9V819.66H502.39ZM494.18 819.36H502.69V826.82H494.18ZM814.37 819.36H822.88V826.82H814.37ZM494.18 826.52H510.9V833.98H494.18ZM756.9 826.52H781.83V833.98H756.9ZM510.6 833.68H543.74V841.14H510.6ZM707.64 833.68H724.36V841.14H707.64ZM576.28 840.84H601.21V848.3H576.28Z"/>
<path fill="#ee2825" d="M453.12 67.54H461.64V75H453.12ZM444.91 74.7H453.43V82.16H444.91ZM436.7 81.86H453.43V89.32H436.7ZM412.07 89.02H445.21V96.48H412.07ZM403.86 96.18H437V103.64H403.86ZM584.49 747.76H634.05V755.22H584.49ZM715.85 747.76H724.36V755.22H715.85ZM576.28 754.92H584.79V762.38H576.28ZM765.11 754.92H773.62V762.38H765.11ZM568.07 762.08H576.58V769.54H568.07ZM789.74 762.08H798.25V769.54H789.74ZM559.86 769.24H568.37V776.7H559.86ZM839 769.24H863.93V776.7H839ZM551.65 776.4H560.16V783.86H551.65ZM871.84 776.4H880.35V783.86H871.84ZM543.44 783.56H551.95V791.02H543.44ZM527.02 790.72H535.53V798.18H527.02ZM518.81 797.88H527.32V805.34H518.81ZM863.63 797.88H872.14V805.34H863.63ZM510.6 805.04H519.11V812.5H510.6ZM847.21 805.04H855.72V812.5H847.21ZM830.79 812.2H839.3V819.66H830.79ZM502.39 819.36H519.11V826.82H502.39ZM806.16 819.36H814.67V826.82H806.16ZM510.6 826.52H527.32V833.98H510.6ZM748.69 826.52H757.2V833.98H748.69ZM543.44 833.68H568.37V841.14H543.44ZM674.8 833.68H707.94V841.14H674.8Z"/>
<path fill="#ee2425" d="M436.7 74.7H445.21V82.16H436.7ZM428.49 81.86H437V89.32H428.49ZM584.49 754.92H593V762.38H584.49ZM756.9 754.92H765.41V762.38H756.9ZM576.28 762.08H584.79V769.54H576.28ZM781.53 762.08H790.04V769.54H781.53ZM568.07 769.24H576.58V776.7H568.07ZM806.16 769.24H839.3V776.7H806.16ZM559.86 776.4H568.37V783.86H559.86ZM863.63 776.4H872.14V783.86H863.63ZM551.65 783.56H560.16V791.02H551.65ZM871.84 783.56H880.35V791.02H871.84ZM535.23 790.72H543.74V798.18H535.23ZM871.84 790.72H880.35V798.18H871.84ZM527.02 797.88H535.53V805.34H527.02ZM855.42 797.88H863.93V805.34H855.42ZM518.81 805.04H527.32V812.5H518.81ZM839 805.04H847.51V812.5H839ZM510.6 812.2H527.32V819.66H510.6ZM822.58 812.2H831.09V819.66H822.58ZM518.81 819.36H527.32V826.82H518.81ZM797.95 819.36H806.46V826.82H797.95ZM527.02 826.52H551.95V833.98H527.02ZM732.27 826.52H748.99V833.98H732.27ZM568.07 833.68H675.1V841.14H568.07Z"/>
<path fill="#ee2025" d="M592.7 754.92H699.73V762.38H592.7ZM732.27 754.92H757.2V762.38H732.27ZM584.49 762.08H593V769.54H584.49ZM773.32 762.08H781.83V769.54H773.32ZM576.28 769.24H584.79V776.7H576.28ZM789.74 769.24H806.46V776.7H789.74ZM568.07 776.4H576.58V783.86H568.07ZM830.79 776.4H863.93V783.86H830.79ZM559.86 783.56H568.37V791.02H559.86ZM855.42 783.56H872.14V791.02H855.42ZM543.44 790.72H560.16V798.18H543.44ZM855.42 790.72H872.14V798.18H855.42ZM535.23 797.88H551.95V805.34H535.23ZM847.21 797.88H855.72V805.34H847.21ZM527.02 805.04H543.74V812.5H527.02ZM830.79 805.04H839.3V812.5H830.79ZM527.02 812.2H535.53V819.66H527.02ZM814.37 812.2H822.88V819.66H814.37ZM527.02 819.36H551.95V826.82H527.02ZM781.53 819.36H798.25V826.82H781.53ZM551.65 826.52H568.37V833.98H551.65ZM724.06 826.52H732.57V833.98H724.06Z"/>
<path fill="#ed1e25" d="M699.43 754.92H732.57V762.38H699.43ZM592.7 762.08H609.42V769.54H592.7ZM765.11 762.08H773.62V769.54H765.11ZM584.49 769.24H593V776.7H584.49ZM781.53 769.24H790.04V776.7H781.53ZM576.28 776.4H584.79V783.86H576.28ZM806.16 776.4H831.09V783.86H806.16ZM568.07 783.56H576.58V791.02H568.07ZM839 783.56H855.72V791.02H839ZM559.86 790.72H568.37V798.18H559.86ZM839 790.72H855.72V798.18H839ZM551.65 797.88H560.16V805.34H551.65ZM830.79 797.88H847.51V805.34H830.79ZM543.44 805.04H560.16V812.5H543.44ZM822.58 805.04H831.09V812.5H822.58ZM535.23 812.2H560.16V819.66H535.23ZM806.16 812.2H814.67V819.66H806.16ZM551.65 819.36H568.37V826.82H551.65ZM756.9 819.36H781.83V826.82H756.9ZM568.07 826.52H625.84V833.98H568.07ZM715.85 826.52H724.36V833.98H715.85Z"/>
<path fill="#ea1e26" d="M609.12 762.08H683.31V769.54H609.12ZM748.69 762.08H765.41V769.54H748.69ZM592.7 769.24H601.21V776.7H592.7ZM773.32 769.24H781.83V776.7H773.32ZM584.49 776.4H593V783.86H584.49ZM797.95 776.4H806.46V783.86H797.95ZM576.28 783.56H584.79V791.02H576.28ZM814.37 783.56H839.3V791.02H814.37ZM568.07 790.72H576.58V798.18H568.07ZM822.58 790.72H839.3V798.18H822.58ZM559.86 797.88H576.58V805.34H559.86ZM822.58 797.88H831.09V805.34H822.58ZM559.86 805.04H568.37V812.5H559.86ZM814.37 805.04H822.88V812.5H814.37ZM559.86 812.2H576.58V819.66H559.86ZM789.74 812.2H806.46V819.66H789.74ZM568.07 819.36H593V826.82H568.07ZM740.48 819.36H757.2V826.82H740.48ZM625.54 826.52H691.52V833.98H625.54ZM699.43 826.52H716.15V833.98H699.43Z"/>
<path fill="#e12028" d="M683.01 762.08H748.99V769.54H683.01ZM600.91 769.24H634.05V776.7H600.91ZM765.11 769.24H773.62V776.7H765.11ZM592.7 776.4H609.42V783.86H592.7ZM789.74 776.4H798.25V783.86H789.74ZM584.49 783.56H593V791.02H584.49ZM806.16 783.56H814.67V791.02H806.16ZM576.28 790.72H593V798.18H576.28ZM814.37 790.72H822.88V798.18H814.37ZM576.28 797.88H584.79V805.34H576.28ZM814.37 797.88H822.88V805.34H814.37ZM568.07 805.04H584.79V812.5H568.07ZM806.16 805.04H814.67V812.5H806.16ZM576.28 812.2H593V819.66H576.28ZM781.53 812.2H790.04V819.66H781.53ZM592.7 819.36H625.84V826.82H592.7ZM732.27 819.36H740.78V826.82H732.27ZM691.22 826.52H699.73V833.98H691.22Z"/>
<path fill="#cf242a" d="M633.75 769.24H675.1V776.7H633.75ZM756.9 769.24H765.41V776.7H756.9ZM609.12 776.4H625.84V783.86H609.12ZM773.32 776.4H790.04V783.86H773.32ZM592.7 783.56H609.42V791.02H592.7ZM797.95 783.56H806.46V791.02H797.95ZM592.7 790.72H601.21V798.18H592.7ZM806.16 790.72H814.67V798.18H806.16ZM584.49 797.88H601.21V805.34H584.49ZM806.16 797.88H814.67V805.34H806.16ZM584.49 805.04H601.21V812.5H584.49ZM789.74 805.04H806.46V812.5H789.74ZM592.7 812.2H617.63V819.66H592.7ZM756.9 812.2H781.83V819.66H756.9ZM625.54 819.36H658.68V826.82H625.54ZM715.85 819.36H732.57V826.82H715.85Z"/>
<path fill="#c0252d" d="M674.8 769.24H707.94V776.7H674.8ZM724.06 769.24H757.2V776.7H724.06ZM625.54 776.4H650.47V783.86H625.54ZM765.11 776.4H773.62V783.86H765.11ZM609.12 783.56H625.84V791.02H609.12ZM781.53 783.56H798.25V791.02H781.53ZM600.91 790.72H617.63V798.18H600.91ZM789.74 790.72H806.46V798.18H789.74ZM600.91 797.88H617.63V805.34H600.91ZM797.95 797.88H806.46V805.34H797.95ZM600.91 805.04H617.63V812.5H600.91ZM781.53 805.04H790.04V812.5H781.53ZM617.33 812.2H634.05V819.66H617.33ZM740.48 812.2H757.2V819.66H740.48ZM658.38 819.36H691.52V826.82H658.38ZM707.64 819.36H716.15V826.82H707.64Z"/>
<path fill="#af252d" d="M707.64 769.24H724.36V776.7H707.64ZM650.17 776.4H683.31V783.86H650.17ZM748.69 776.4H765.41V783.86H748.69ZM625.54 783.56H650.47V791.02H625.54ZM773.32 783.56H781.83V791.02H773.32ZM617.33 790.72H634.05V798.18H617.33ZM781.53 790.72H790.04V798.18H781.53ZM617.33 797.88H634.05V805.34H617.33ZM781.53 797.88H798.25V805.34H781.53ZM617.33 805.04H634.05V812.5H617.33ZM756.9 805.04H781.83V812.5H756.9ZM633.75 812.2H658.68V819.66H633.75ZM724.06 812.2H740.78V819.66H724.06ZM691.22 819.36H707.94V826.82H691.22Z"/>
<path fill="#9b242c" d="M683.01 776.4H748.99V783.86H683.01ZM650.17 783.56H675.1V791.02H650.17ZM756.9 783.56H773.62V791.02H756.9ZM633.75 790.72H650.47V798.18H633.75ZM765.11 790.72H781.83V798.18H765.11ZM633.75 797.88H650.47V805.34H633.75ZM756.9 797.88H781.83V805.34H756.9ZM633.75 805.04H658.68V812.5H633.75ZM732.27 805.04H757.2V812.5H732.27ZM658.38 812.2H691.52V819.66H658.38ZM707.64 812.2H724.36V819.66H707.64Z"/>
<path fill="#872328" d="M674.8 783.56H757.2V791.02H674.8ZM650.17 790.72H675.1V798.18H650.17ZM740.48 790.72H765.41V798.18H740.48ZM650.17 797.88H666.89V805.34H650.17ZM732.27 797.88H757.2V805.34H732.27ZM658.38 805.04H683.31V812.5H658.38ZM715.85 805.04H732.57V812.5H715.85ZM691.22 812.2H707.94V819.66H691.22Z"/>
<path fill="#782126" d="M674.8 790.72H740.78V798.18H674.8ZM666.59 797.88H732.57V805.34H666.59ZM683.01 805.04H716.15V812.5H683.01Z"/>
</g>
<g shape-rendering="crispEdges">
<rect x="1270.5" y="908.64" width="48" height="11.86" fill="#262e76"/><rect x="1270.5" y="894.24" width="48" height="14.8" fill="#293280"/><rect x="1270.5" y="879.83" width="48" height="14.8" fill="#2c348a"/><rect x="1270.5" y="865.43" width="48" height="14.8" fill="#2e3792"/><rect x="1270.5" y="851.03" width="48" height="14.8" fill="#2f3997"/><rect x="1270.5" y="836.62" width="48" height="14.8" fill="#303c9a"/><rect x="1270.5" y="822.22" width="48" height="14.8" fill="#313f9d"/><rect x="1270.5" y="807.82" width="48" height="14.8" fill="#3242a0"/><rect x="1270.5" y="793.42" width="48" height="14.8" fill="#3444a2"/><rect x="1270.5" y="779.01" width="48" height="14.8" fill="#3648a5"/><rect x="1270.5" y="764.61" width="48" height="14.8" fill="#374ba8"/><rect x="1270.5" y="750.21" width="48" height="14.8" fill="#3a50ac"/><rect x="1270.5" y="735.8" width="48" height="14.8" fill="#3e58b0"/><rect x="1270.5" y="721.4" width="48" height="14.8" fill="#4462b7"/><rect x="1270.5" y="707" width="48" height="14.8" fill="#486cbe"/><rect x="1270.5" y="692.59" width="48" height="14.8" fill="#4e78c5"/><rect x="1270.5" y="678.19" width="48" height="14.8" fill="#5587cd"/><rect x="1270.5" y="663.79" width="48" height="14.8" fill="#5c96d5"/><rect x="1270.5" y="649.38" width="48" height="14.8" fill="#5faae1"/><rect x="1270.5" y="634.98" width="48" height="14.8" fill="#5fc0f0"/><rect x="1270.5" y="620.58" width="48" height="14.8" fill="#6ccdee"/><rect x="1270.5" y="606.18" width="48" height="14.8" fill="#7ad2e4"/><rect x="1270.5" y="591.77" width="48" height="14.8" fill="#8ad7dc"/><rect x="1270.5" y="577.37" width="48" height="14.8" fill="#94dad4"/><rect x="1270.5" y="562.97" width="48" height="14.8" fill="#92d9c8"/><rect x="1270.5" y="548.56" width="48" height="14.8" fill="#91d7bc"/><rect x="1270.5" y="534.16" width="48" height="14.8" fill="#8fd6ac"/><rect x="1270.5" y="519.76" width="48" height="14.8" fill="#8ed5a0"/><rect x="1270.5" y="505.36" width="48" height="14.8" fill="#8cd491"/><rect x="1270.5" y="490.95" width="48" height="14.8" fill="#8ad287"/><rect x="1270.5" y="476.55" width="48" height="14.8" fill="#84d078"/><rect x="1270.5" y="462.15" width="48" height="14.8" fill="#80ce69"/><rect x="1270.5" y="447.74" width="48" height="14.8" fill="#7ccc5a"/><rect x="1270.5" y="433.34" width="48" height="14.8" fill="#80cd4e"/><rect x="1270.5" y="418.94" width="48" height="14.8" fill="#8ad044"/><rect x="1270.5" y="404.53" width="48" height="14.8" fill="#96d43a"/><rect x="1270.5" y="390.13" width="48" height="14.8" fill="#a8d930"/><rect x="1270.5" y="375.73" width="48" height="14.8" fill="#c3e12d"/><rect x="1270.5" y="361.32" width="48" height="14.8" fill="#dee82a"/><rect x="1270.5" y="346.92" width="48" height="14.8" fill="#f5ee28"/><rect x="1270.5" y="332.52" width="48" height="14.8" fill="#f3e826"/><rect x="1270.5" y="318.12" width="48" height="14.8" fill="#f1d523"/><rect x="1270.5" y="303.71" width="48" height="14.8" fill="#f2c01e"/><rect x="1270.5" y="289.31" width="48" height="14.8" fill="#f3ac1d"/><rect x="1270.5" y="274.91" width="48" height="14.8" fill="#f49b1d"/><rect x="1270.5" y="260.5" width="48" height="14.8" fill="#f4871e"/><rect x="1270.5" y="246.1" width="48" height="14.8" fill="#f3781f"/><rect x="1270.5" y="231.7" width="48" height="14.8" fill="#f26921"/><rect x="1270.5" y="217.3" width="48" height="14.8" fill="#f15822"/><rect x="1270.5" y="202.89" width="48" height="14.8" fill="#f04623"/><rect x="1270.5" y="188.49" width="48" height="14.8" fill="#ef3a24"/><rect x="1270.5" y="174.09" width="48" height="14.8" fill="#ee3025"/><rect x="1270.5" y="159.68" width="48" height="14.8" fill="#ee2825"/><rect x="1270.5" y="145.28" width="48" height="14.8" fill="#ee2425"/><rect x="1270.5" y="130.88" width="48" height="14.8" fill="#ee2025"/><rect x="1270.5" y="116.47" width="48" height="14.8" fill="#ed1e25"/><rect x="1270.5" y="102.07" width="48" height="14.8" fill="#ea1e26"/><rect x="1270.5" y="87.67" width="48" height="14.8" fill="#e12028"/><rect x="1270.5" y="73.27" width="48" height="14.8" fill="#cf242a"/><rect x="1270.5" y="58.86" width="48" height="14.8" fill="#c0252d"/><rect x="1270.5" y="44.46" width="48" height="14.8" fill="#af252d"/><rect x="1270.5" y="30.06" width="48" height="14.8" fill="#9b242c"/><rect x="1270.5" y="15.65" width="48" height="14.8" fill="#872328"/><rect x="1270.5" y="3.5" width="48" height="12.55" fill="#782126"/>
</g>
<g fill="none" stroke="#231f20" stroke-width="3">
<rect x="190.5" y="3.5" width="1050" height="917"/>
<rect x="1270.5" y="3.5" width="48.0" height="917"/>
<path d="M350.5 920V906M190.5 779.98H204.5M514.7 920V906M190.5 636.77H204.5M678.9 920V906M190.5 493.57H204.5M843.11 920V906M190.5 350.37H204.5M1007.31 920V906M190.5 207.16H204.5M1171.51 920V906M190.5 63.96H204.5M1318.5 27.5H1305M1318.5 151.3H1305M1318.5 270.3H1305M1318.5 388.5H1305M1318.5 506.2H1305M1318.5 625.6H1305M1318.5 743.3H1305M1318.5 861.5H1305"/>
</g>
<g>
<text x="350" y="987" text-anchor="middle">20</text><text x="514.2" y="987" text-anchor="middle">40</text><text x="678.4" y="987" text-anchor="middle">60</text><text x="842.61" y="987" text-anchor="middle">80</text><text x="1006.81" y="987" text-anchor="middle">100</text><text x="1171.01" y="987" text-anchor="middle">120</text>
<text x="171" y="799.98" text-anchor="end">20</text><text x="171" y="656.77" text-anchor="end">40</text><text x="171" y="513.57" text-anchor="end">60</text><text x="171" y="370.37" text-anchor="end">80</text><text x="171" y="227.16" text-anchor="end">100</text><text x="171" y="83.96" text-anchor="end">120</text>
<text x="1339.5" y="46">0.20</text><text x="1339.5" y="169.8">0.15</text><text x="1339.5" y="288.8">0.10</text><text x="1339.5" y="407">0.05</text><text x="1339.5" y="524.7">0</text><text x="1338.3" y="644.1">−0.05</text><text x="1338.3" y="761.8">−0.10</text><text x="1338.3" y="880">−0.15</text>
<text x="635" y="1065.5"><tspan class="i">X</tspan>/pixel</text>
<text transform="translate(53.5 539.6) rotate(-90)"><tspan class="i">Y</tspan>/pixel</text>
</g>
</svg>
</body></html>
